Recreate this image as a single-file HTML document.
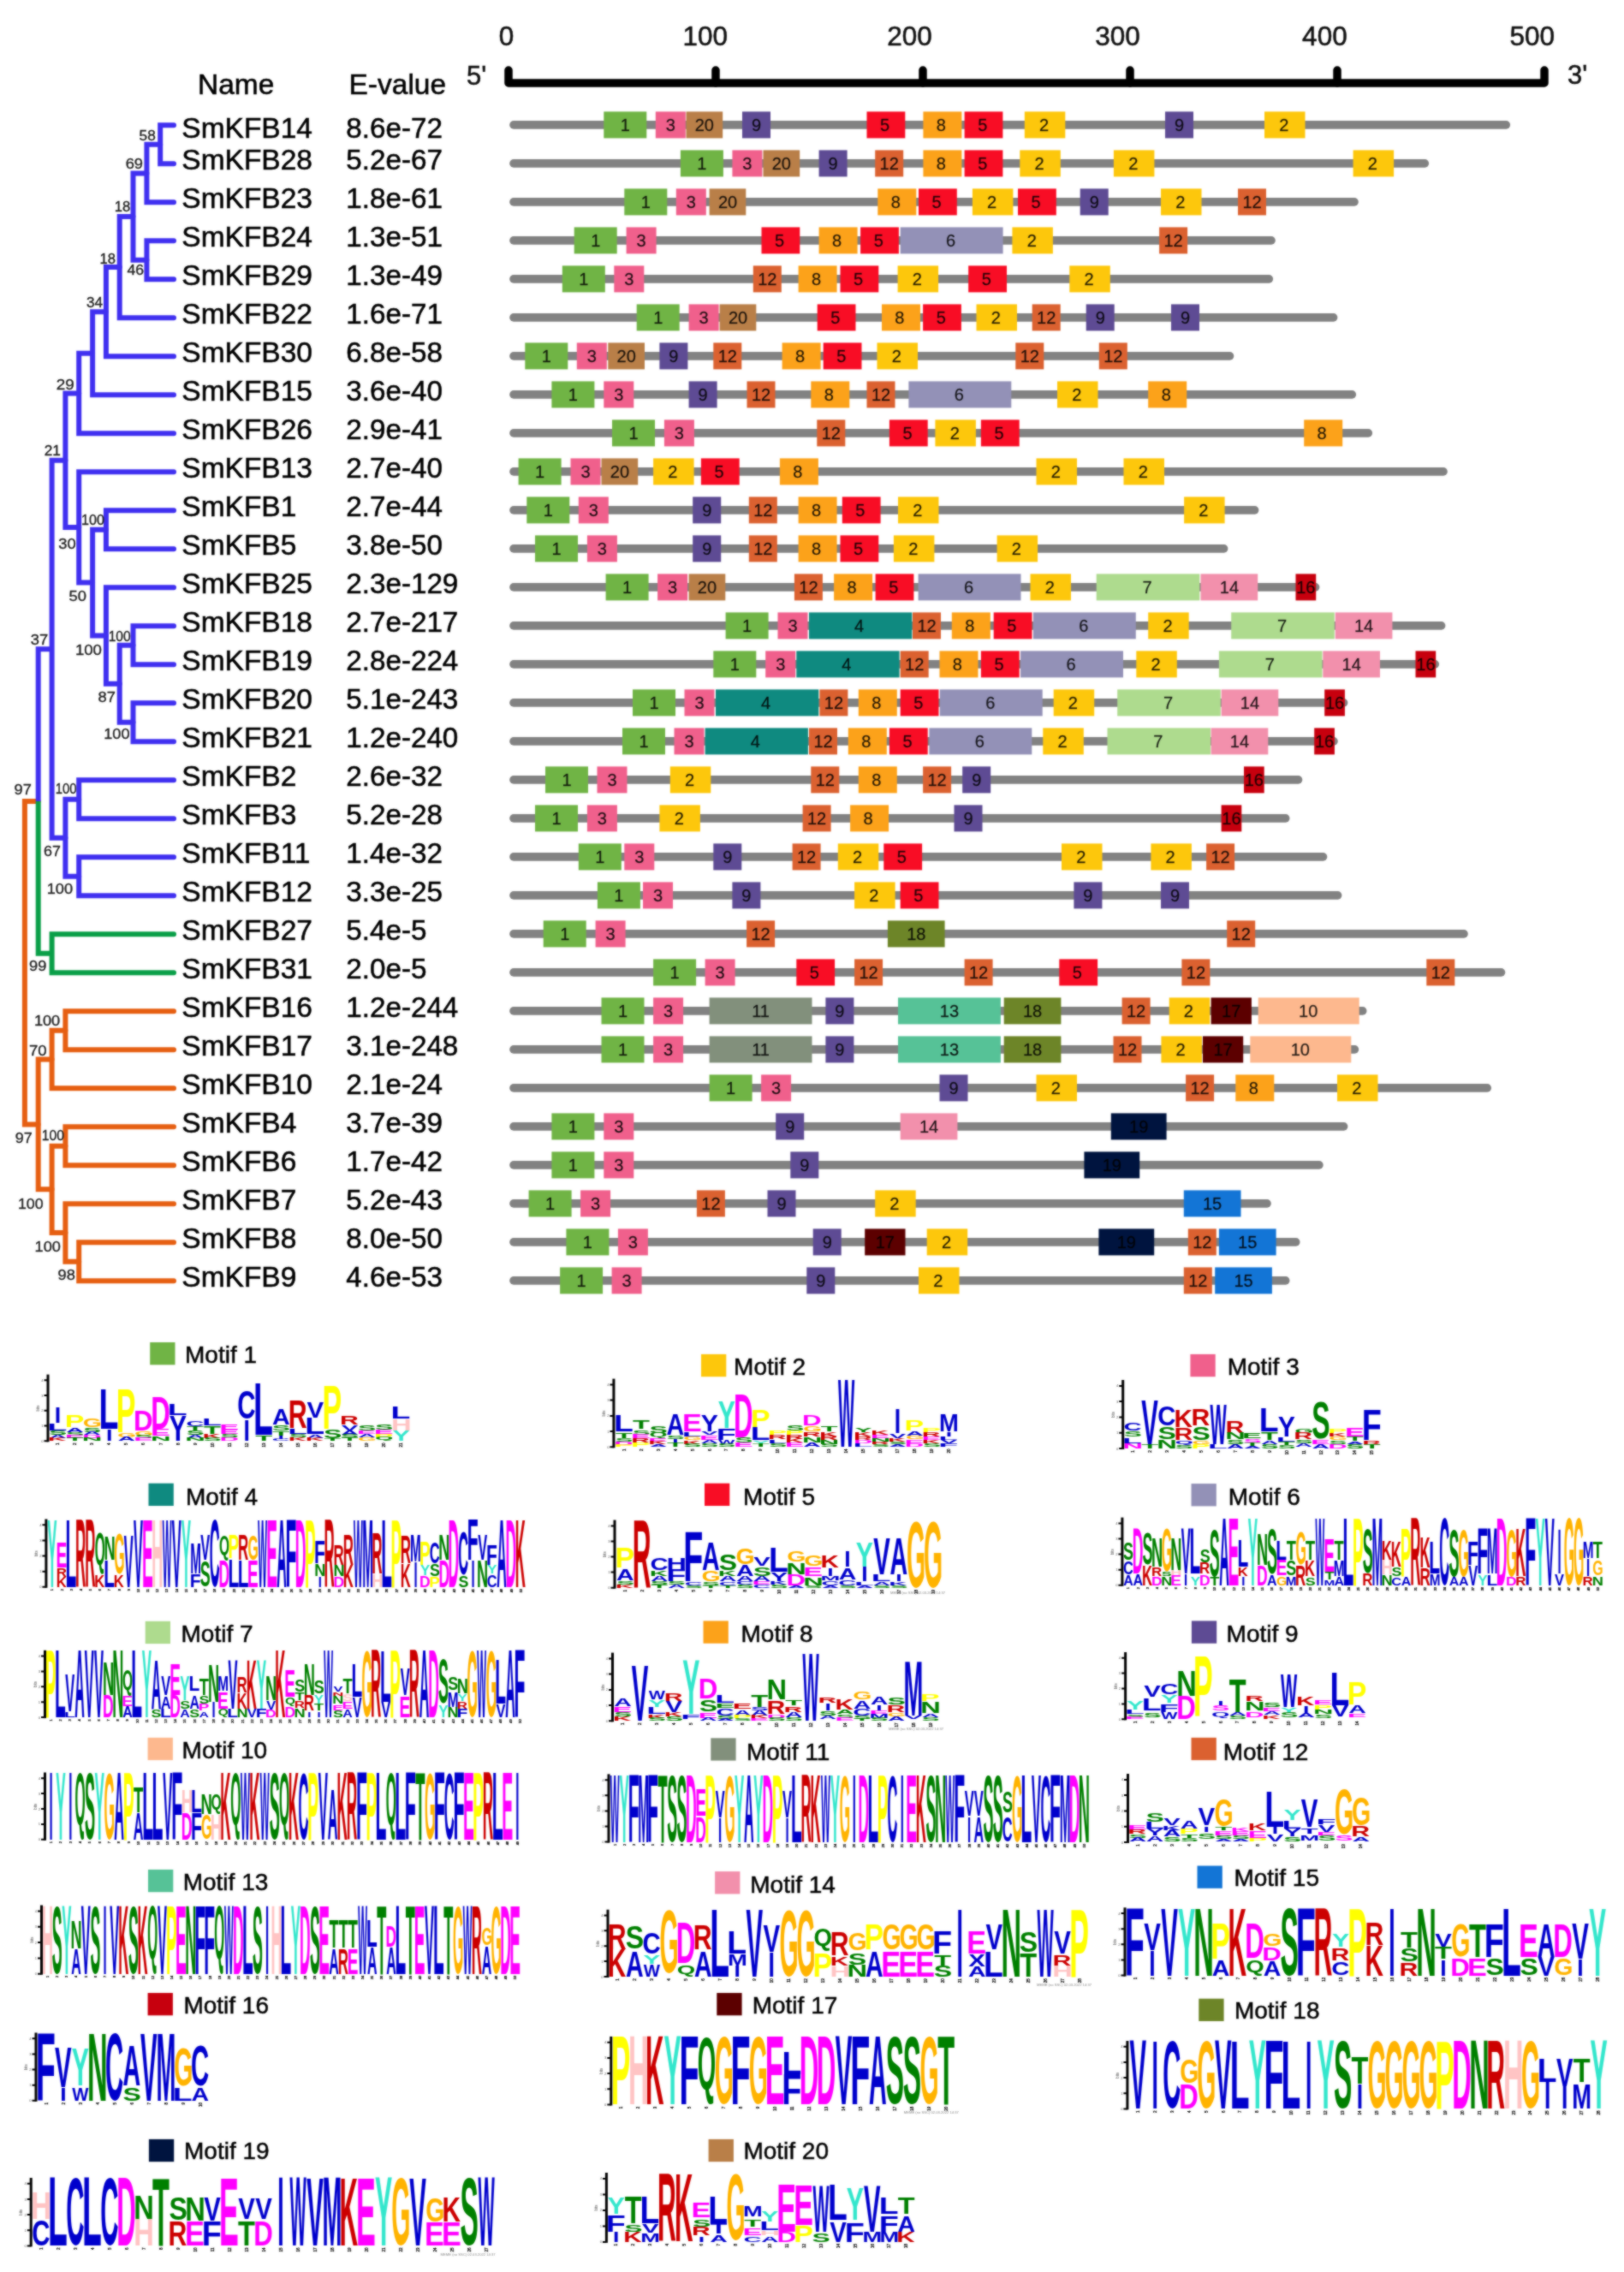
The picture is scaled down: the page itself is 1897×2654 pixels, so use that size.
<!DOCTYPE html>
<html lang="en"><head><meta charset="utf-8"><title>SmKFB motifs</title>
<style>html,body{margin:0;padding:0;background:#fff}svg{display:block}#wrap{width:1897px;height:2654px;overflow:hidden}</style></head>
<body>
<div id="wrap">
<svg width="1897" height="2654" viewBox="0 0 1897 2654" font-family='"Liberation Sans", Arial, sans-serif'>
<defs><filter id="soft" filterUnits="userSpaceOnUse" x="0" y="0" width="1897" height="2654" color-interpolation-filters="sRGB"><feGaussianBlur stdDeviation="0.9" result="b"/><feComposite in="SourceGraphic" in2="b" operator="arithmetic" k1="0" k2="0.4" k3="0.6" k4="0"/></filter></defs>
<g filter="url(#soft)">
<rect width="1897" height="2654" fill="#fff"/>
<g id="axis" stroke="#000" stroke-width="0.5">
<path d="M594.0,82.0V97.0H1804.0V82.0" fill="none" stroke="#000" stroke-width="9.5" stroke-linecap="round" stroke-linejoin="round"/>
<path d="M836.0,82.0V97.0" stroke="#000" stroke-width="9.5" stroke-linecap="round"/>
<path d="M1078.0,82.0V97.0" stroke="#000" stroke-width="9.5" stroke-linecap="round"/>
<path d="M1320.0,82.0V97.0" stroke="#000" stroke-width="9.5" stroke-linecap="round"/>
<path d="M1562.0,82.0V97.0" stroke="#000" stroke-width="9.5" stroke-linecap="round"/>
<text x="591.4" y="53" font-size="31.5" text-anchor="middle" fill="#111">0</text>
<text x="823.7" y="53" font-size="31.5" text-anchor="middle" fill="#111">100</text>
<text x="1062.5" y="53" font-size="31.5" text-anchor="middle" fill="#111">200</text>
<text x="1305.6" y="53" font-size="31.5" text-anchor="middle" fill="#111">300</text>
<text x="1547.4" y="53" font-size="31.5" text-anchor="middle" fill="#111">400</text>
<text x="1789.7" y="53" font-size="31.5" text-anchor="middle" fill="#111">500</text>
<text x="545" y="98.5" font-size="31" fill="#111">5'</text>
<text x="1831" y="97.5" font-size="31" fill="#111">3'</text>
</g>
<text x="231" y="109.5" font-size="33.5" fill="#000" stroke="#000" stroke-width="0.55">Name</text>
<text x="407.5" y="109.5" font-size="33.5" fill="#000" stroke="#000" stroke-width="0.55">E-value</text>
<g id="tree" fill="none" stroke-linejoin="miter">
<path d="M44.7,935.9H28.9V1313.4H44.7" stroke="#E65F12" stroke-width="6.0" stroke-linecap="round"/>
<path d="M60.6,758.2H44.7V935.9" stroke="#4030F0" stroke-width="6.0" stroke-linecap="butt"/>
<path d="M60.6,1113.7H44.7V935.9" stroke="#0A9F48" stroke-width="6.0" stroke-linecap="butt"/>
<path d="M76.4,537.7H60.6V978.7H76.4" stroke="#4030F0" stroke-width="6.0" stroke-linecap="round"/>
<path d="M92.2,459.4H76.4V615.9H92.2" stroke="#4030F0" stroke-width="6.0" stroke-linecap="round"/>
<path d="M108.1,412.7H92.2V506.2H203.0" stroke="#4030F0" stroke-width="6.0" stroke-linecap="round"/>
<path d="M123.9,364.2H108.1V461.2H203.0" stroke="#4030F0" stroke-width="6.0" stroke-linecap="round"/>
<path d="M139.7,312.1H123.9V416.2H203.0" stroke="#4030F0" stroke-width="6.0" stroke-linecap="round"/>
<path d="M155.5,253.1H139.7V371.2H203.0" stroke="#4030F0" stroke-width="6.0" stroke-linecap="round"/>
<path d="M171.4,202.4H155.5V303.7H171.4" stroke="#4030F0" stroke-width="6.0" stroke-linecap="round"/>
<path d="M187.2,168.7H171.4V236.2H203.0" stroke="#4030F0" stroke-width="6.0" stroke-linecap="round"/>
<path d="M203.0,146.2H187.2V191.2H203.0" stroke="#4030F0" stroke-width="6.0" stroke-linecap="round"/>
<path d="M203.0,281.2H171.4V326.2H203.0" stroke="#4030F0" stroke-width="6.0" stroke-linecap="round"/>
<path d="M203.0,551.2H92.2V680.6H108.1" stroke="#4030F0" stroke-width="6.0" stroke-linecap="round"/>
<path d="M123.9,618.7H108.1V742.5H123.9" stroke="#4030F0" stroke-width="6.0" stroke-linecap="round"/>
<path d="M203.0,596.2H123.9V641.2H203.0" stroke="#4030F0" stroke-width="6.0" stroke-linecap="round"/>
<path d="M203.0,686.2H123.9V798.7H139.7" stroke="#4030F0" stroke-width="6.0" stroke-linecap="round"/>
<path d="M155.5,753.7H139.7V843.7H155.5" stroke="#4030F0" stroke-width="6.0" stroke-linecap="round"/>
<path d="M203.0,731.2H155.5V776.2H203.0" stroke="#4030F0" stroke-width="6.0" stroke-linecap="round"/>
<path d="M203.0,821.2H155.5V866.2H203.0" stroke="#4030F0" stroke-width="6.0" stroke-linecap="round"/>
<path d="M92.2,933.7H76.4V1023.7H92.2" stroke="#4030F0" stroke-width="6.0" stroke-linecap="round"/>
<path d="M203.0,911.2H92.2V956.2H203.0" stroke="#4030F0" stroke-width="6.0" stroke-linecap="round"/>
<path d="M203.0,1001.2H92.2V1046.2H203.0" stroke="#4030F0" stroke-width="6.0" stroke-linecap="round"/>
<path d="M203.0,1091.2H60.6V1136.2H203.0" stroke="#0A9F48" stroke-width="6.0" stroke-linecap="round"/>
<path d="M60.6,1237.5H44.7V1389.3H60.6" stroke="#E65F12" stroke-width="6.0" stroke-linecap="round"/>
<path d="M76.4,1203.7H60.6V1271.2H203.0" stroke="#E65F12" stroke-width="6.0" stroke-linecap="round"/>
<path d="M203.0,1181.2H76.4V1226.2H203.0" stroke="#E65F12" stroke-width="6.0" stroke-linecap="round"/>
<path d="M76.4,1338.7H60.6V1440.0H76.4" stroke="#E65F12" stroke-width="6.0" stroke-linecap="round"/>
<path d="M203.0,1316.2H76.4V1361.2H203.0" stroke="#E65F12" stroke-width="6.0" stroke-linecap="round"/>
<path d="M203.0,1406.2H76.4V1473.7H92.2" stroke="#E65F12" stroke-width="6.0" stroke-linecap="round"/>
<path d="M203.0,1451.2H92.2V1496.2H203.0" stroke="#E65F12" stroke-width="6.0" stroke-linecap="round"/>
</g>
<g id="boot" font-size="17" fill="#222" stroke="#222" stroke-width="0.35">
<text x="162.6" y="163.5" textLength="19.2" lengthAdjust="spacingAndGlyphs">58</text>
<text x="146.7" y="196.7" textLength="20.3" lengthAdjust="spacingAndGlyphs">69</text>
<text x="133.7" y="247.3" textLength="18.5" lengthAdjust="spacingAndGlyphs">18</text>
<text x="116.4" y="308.2" textLength="18.5" lengthAdjust="spacingAndGlyphs">18</text>
<text x="148.5" y="321.2" textLength="19.6" lengthAdjust="spacingAndGlyphs">46</text>
<text x="100.9" y="358.5" textLength="19.1" lengthAdjust="spacingAndGlyphs">34</text>
<text x="65.8" y="454.6" textLength="21.0" lengthAdjust="spacingAndGlyphs">29</text>
<text x="51.7" y="531.8" textLength="19.2" lengthAdjust="spacingAndGlyphs">21</text>
<text x="95.0" y="612.8" textLength="26.9" lengthAdjust="spacingAndGlyphs">100</text>
<text x="68.3" y="640.5" textLength="20.4" lengthAdjust="spacingAndGlyphs">30</text>
<text x="80.5" y="701.5" textLength="20.4" lengthAdjust="spacingAndGlyphs">50</text>
<text x="35.8" y="752.5" textLength="20.4" lengthAdjust="spacingAndGlyphs">37</text>
<text x="126.7" y="748.8" textLength="25.9" lengthAdjust="spacingAndGlyphs">100</text>
<text x="87.9" y="765.4" textLength="31.1" lengthAdjust="spacingAndGlyphs">100</text>
<text x="114.5" y="820.1" textLength="20.4" lengthAdjust="spacingAndGlyphs">87</text>
<text x="121.2" y="862.6" textLength="30.3" lengthAdjust="spacingAndGlyphs">100</text>
<text x="64.7" y="926.8" textLength="24.7" lengthAdjust="spacingAndGlyphs">100</text>
<text x="16.6" y="927.9" textLength="20.3" lengthAdjust="spacingAndGlyphs">97</text>
<text x="51.0" y="1000.0" textLength="19.9" lengthAdjust="spacingAndGlyphs">67</text>
<text x="54.7" y="1043.6" textLength="30.3" lengthAdjust="spacingAndGlyphs">100</text>
<text x="34.0" y="1133.8" textLength="20.3" lengthAdjust="spacingAndGlyphs">99</text>
<text x="39.9" y="1198.1" textLength="30.3" lengthAdjust="spacingAndGlyphs">100</text>
<text x="34.0" y="1233.2" textLength="20.7" lengthAdjust="spacingAndGlyphs">70</text>
<text x="17.7" y="1334.8" textLength="20.0" lengthAdjust="spacingAndGlyphs">97</text>
<text x="48.8" y="1332.2" textLength="26.2" lengthAdjust="spacingAndGlyphs">100</text>
<text x="21.0" y="1411.6" textLength="29.6" lengthAdjust="spacingAndGlyphs">100</text>
<text x="40.6" y="1462.2" textLength="30.3" lengthAdjust="spacingAndGlyphs">100</text>
<text x="67.6" y="1494.8" textLength="20.3" lengthAdjust="spacingAndGlyphs">98</text>
</g>
<g id="names" font-size="33.5" fill="#000" stroke="#000" stroke-width="0.55">
<text x="212.3" y="160.5">SmKFB14</text><text x="404.3" y="160.5" font-size="33.2">8.6e-72</text>
<text x="212.3" y="198.3">SmKFB28</text><text x="404.3" y="198.3" font-size="33.2">5.2e-67</text>
<text x="212.3" y="243.3">SmKFB23</text><text x="404.3" y="243.3" font-size="33.2">1.8e-61</text>
<text x="212.3" y="288.3">SmKFB24</text><text x="404.3" y="288.3" font-size="33.2">1.3e-51</text>
<text x="212.3" y="333.3">SmKFB29</text><text x="404.3" y="333.3" font-size="33.2">1.3e-49</text>
<text x="212.3" y="378.3">SmKFB22</text><text x="404.3" y="378.3" font-size="33.2">1.6e-71</text>
<text x="212.3" y="423.3">SmKFB30</text><text x="404.3" y="423.3" font-size="33.2">6.8e-58</text>
<text x="212.3" y="468.3">SmKFB15</text><text x="404.3" y="468.3" font-size="33.2">3.6e-40</text>
<text x="212.3" y="513.3">SmKFB26</text><text x="404.3" y="513.3" font-size="33.2">2.9e-41</text>
<text x="212.3" y="558.3">SmKFB13</text><text x="404.3" y="558.3" font-size="33.2">2.7e-40</text>
<text x="212.3" y="603.3">SmKFB1</text><text x="404.3" y="603.3" font-size="33.2">2.7e-44</text>
<text x="212.3" y="648.3">SmKFB5</text><text x="404.3" y="648.3" font-size="33.2">3.8e-50</text>
<text x="212.3" y="693.3">SmKFB25</text><text x="404.3" y="693.3" font-size="33.2">2.3e-129</text>
<text x="212.3" y="738.3">SmKFB18</text><text x="404.3" y="738.3" font-size="33.2">2.7e-217</text>
<text x="212.3" y="783.3">SmKFB19</text><text x="404.3" y="783.3" font-size="33.2">2.8e-224</text>
<text x="212.3" y="828.3">SmKFB20</text><text x="404.3" y="828.3" font-size="33.2">5.1e-243</text>
<text x="212.3" y="873.3">SmKFB21</text><text x="404.3" y="873.3" font-size="33.2">1.2e-240</text>
<text x="212.3" y="918.3">SmKFB2</text><text x="404.3" y="918.3" font-size="33.2">2.6e-32</text>
<text x="212.3" y="963.3">SmKFB3</text><text x="404.3" y="963.3" font-size="33.2">5.2e-28</text>
<text x="212.3" y="1008.3">SmKFB11</text><text x="404.3" y="1008.3" font-size="33.2">1.4e-32</text>
<text x="212.3" y="1053.3">SmKFB12</text><text x="404.3" y="1053.3" font-size="33.2">3.3e-25</text>
<text x="212.3" y="1098.3">SmKFB27</text><text x="404.3" y="1098.3" font-size="33.2">5.4e-5</text>
<text x="212.3" y="1143.3">SmKFB31</text><text x="404.3" y="1143.3" font-size="33.2">2.0e-5</text>
<text x="212.3" y="1188.3">SmKFB16</text><text x="404.3" y="1188.3" font-size="33.2">1.2e-244</text>
<text x="212.3" y="1233.3">SmKFB17</text><text x="404.3" y="1233.3" font-size="33.2">3.1e-248</text>
<text x="212.3" y="1278.3">SmKFB10</text><text x="404.3" y="1278.3" font-size="33.2">2.1e-24</text>
<text x="212.3" y="1323.3">SmKFB4</text><text x="404.3" y="1323.3" font-size="33.2">3.7e-39</text>
<text x="212.3" y="1368.3">SmKFB6</text><text x="404.3" y="1368.3" font-size="33.2">1.7e-42</text>
<text x="212.3" y="1413.3">SmKFB7</text><text x="404.3" y="1413.3" font-size="33.2">5.2e-43</text>
<text x="212.3" y="1458.3">SmKFB8</text><text x="404.3" y="1458.3" font-size="33.2">8.0e-50</text>
<text x="212.3" y="1503.3">SmKFB9</text><text x="404.3" y="1503.3" font-size="33.2">4.6e-53</text>
</g>
<g id="tracks">
<path d="M600.0,145.9H1759.3" stroke="#828282" stroke-width="9.6" stroke-linecap="round"/>
<rect x="705.3" y="130.4" width="50" height="31" fill="#70B445"/>
<text x="730.3" y="153.2" font-size="20" text-anchor="middle" fill="#000" fill-opacity="0.85" stroke="#000" stroke-opacity="0.6" stroke-width="0.3">1</text>
<rect x="765.8" y="130.4" width="35" height="31" fill="#F0608C"/>
<text x="783.3" y="153.2" font-size="20" text-anchor="middle" fill="#000" fill-opacity="0.85" stroke="#000" stroke-opacity="0.6" stroke-width="0.3">3</text>
<rect x="801.5" y="130.4" width="42.7" height="31" fill="#B97F48"/>
<text x="822.8" y="153.2" font-size="20" text-anchor="middle" fill="#000" fill-opacity="0.85" stroke="#000" stroke-opacity="0.6" stroke-width="0.3">20</text>
<rect x="867.0" y="130.4" width="33" height="31" fill="#5E4B94"/>
<text x="883.5" y="153.2" font-size="20" text-anchor="middle" fill="#000" fill-opacity="0.85" stroke="#000" stroke-opacity="0.6" stroke-width="0.3">9</text>
<rect x="1012.5" y="130.4" width="44.8" height="31" fill="#F80D25"/>
<text x="1033.6" y="153.2" font-size="20" text-anchor="middle" fill="#000" fill-opacity="0.85" stroke="#000" stroke-opacity="0.6" stroke-width="0.3">5</text>
<rect x="1078.4" y="130.4" width="45" height="31" fill="#FCA21A"/>
<text x="1099.3" y="153.2" font-size="20" text-anchor="middle" fill="#000" fill-opacity="0.85" stroke="#000" stroke-opacity="0.6" stroke-width="0.3">8</text>
<rect x="1126.6" y="130.4" width="44.8" height="31" fill="#F80D25"/>
<text x="1147.7" y="153.2" font-size="20" text-anchor="middle" fill="#000" fill-opacity="0.85" stroke="#000" stroke-opacity="0.6" stroke-width="0.3">5</text>
<rect x="1196.8" y="130.4" width="47.5" height="31" fill="#FDC70C"/>
<text x="1219.5" y="153.2" font-size="20" text-anchor="middle" fill="#000" fill-opacity="0.85" stroke="#000" stroke-opacity="0.6" stroke-width="0.3">2</text>
<rect x="1361.0" y="130.4" width="33" height="31" fill="#5E4B94"/>
<text x="1377.5" y="153.2" font-size="20" text-anchor="middle" fill="#000" fill-opacity="0.85" stroke="#000" stroke-opacity="0.6" stroke-width="0.3">9</text>
<rect x="1477.0" y="130.4" width="47.5" height="31" fill="#FDC70C"/>
<text x="1499.8" y="153.2" font-size="20" text-anchor="middle" fill="#000" fill-opacity="0.85" stroke="#000" stroke-opacity="0.6" stroke-width="0.3">2</text>
<path d="M600.0,190.9H1664.3" stroke="#828282" stroke-width="9.6" stroke-linecap="round"/>
<rect x="794.9" y="175.4" width="50" height="31" fill="#70B445"/>
<text x="819.9" y="198.2" font-size="20" text-anchor="middle" fill="#000" fill-opacity="0.85" stroke="#000" stroke-opacity="0.6" stroke-width="0.3">1</text>
<rect x="855.4" y="175.4" width="35" height="31" fill="#F0608C"/>
<text x="872.9" y="198.2" font-size="20" text-anchor="middle" fill="#000" fill-opacity="0.85" stroke="#000" stroke-opacity="0.6" stroke-width="0.3">3</text>
<rect x="891.5" y="175.4" width="42.7" height="31" fill="#B97F48"/>
<text x="912.8" y="198.2" font-size="20" text-anchor="middle" fill="#000" fill-opacity="0.85" stroke="#000" stroke-opacity="0.6" stroke-width="0.3">20</text>
<rect x="956.6" y="175.4" width="33" height="31" fill="#5E4B94"/>
<text x="973.1" y="198.2" font-size="20" text-anchor="middle" fill="#000" fill-opacity="0.85" stroke="#000" stroke-opacity="0.6" stroke-width="0.3">9</text>
<rect x="1022.2" y="175.4" width="33" height="31" fill="#DB6130"/>
<text x="1038.7" y="198.2" font-size="20" text-anchor="middle" fill="#000" fill-opacity="0.85" stroke="#000" stroke-opacity="0.6" stroke-width="0.3">12</text>
<rect x="1078.4" y="175.4" width="45" height="31" fill="#FCA21A"/>
<text x="1099.3" y="198.2" font-size="20" text-anchor="middle" fill="#000" fill-opacity="0.85" stroke="#000" stroke-opacity="0.6" stroke-width="0.3">8</text>
<rect x="1126.6" y="175.4" width="44.8" height="31" fill="#F80D25"/>
<text x="1147.7" y="198.2" font-size="20" text-anchor="middle" fill="#000" fill-opacity="0.85" stroke="#000" stroke-opacity="0.6" stroke-width="0.3">5</text>
<rect x="1191.3" y="175.4" width="47.5" height="31" fill="#FDC70C"/>
<text x="1214.1" y="198.2" font-size="20" text-anchor="middle" fill="#000" fill-opacity="0.85" stroke="#000" stroke-opacity="0.6" stroke-width="0.3">2</text>
<rect x="1300.9" y="175.4" width="47.5" height="31" fill="#FDC70C"/>
<text x="1323.7" y="198.2" font-size="20" text-anchor="middle" fill="#000" fill-opacity="0.85" stroke="#000" stroke-opacity="0.6" stroke-width="0.3">2</text>
<rect x="1580.6" y="175.4" width="47.5" height="31" fill="#FDC70C"/>
<text x="1603.4" y="198.2" font-size="20" text-anchor="middle" fill="#000" fill-opacity="0.85" stroke="#000" stroke-opacity="0.6" stroke-width="0.3">2</text>
<path d="M600.0,235.9H1582.0" stroke="#828282" stroke-width="9.6" stroke-linecap="round"/>
<rect x="729.3" y="220.4" width="50" height="31" fill="#70B445"/>
<text x="754.3" y="243.2" font-size="20" text-anchor="middle" fill="#000" fill-opacity="0.85" stroke="#000" stroke-opacity="0.6" stroke-width="0.3">1</text>
<rect x="789.8" y="220.4" width="35" height="31" fill="#F0608C"/>
<text x="807.3" y="243.2" font-size="20" text-anchor="middle" fill="#000" fill-opacity="0.85" stroke="#000" stroke-opacity="0.6" stroke-width="0.3">3</text>
<rect x="828.6" y="220.4" width="42.7" height="31" fill="#B97F48"/>
<text x="850.0" y="243.2" font-size="20" text-anchor="middle" fill="#000" fill-opacity="0.85" stroke="#000" stroke-opacity="0.6" stroke-width="0.3">20</text>
<rect x="1025.3" y="220.4" width="45" height="31" fill="#FCA21A"/>
<text x="1046.2" y="243.2" font-size="20" text-anchor="middle" fill="#000" fill-opacity="0.85" stroke="#000" stroke-opacity="0.6" stroke-width="0.3">8</text>
<rect x="1073.0" y="220.4" width="44.8" height="31" fill="#F80D25"/>
<text x="1094.1" y="243.2" font-size="20" text-anchor="middle" fill="#000" fill-opacity="0.85" stroke="#000" stroke-opacity="0.6" stroke-width="0.3">5</text>
<rect x="1135.9" y="220.4" width="47.5" height="31" fill="#FDC70C"/>
<text x="1158.6" y="243.2" font-size="20" text-anchor="middle" fill="#000" fill-opacity="0.85" stroke="#000" stroke-opacity="0.6" stroke-width="0.3">2</text>
<rect x="1189.0" y="220.4" width="44.8" height="31" fill="#F80D25"/>
<text x="1210.1" y="243.2" font-size="20" text-anchor="middle" fill="#000" fill-opacity="0.85" stroke="#000" stroke-opacity="0.6" stroke-width="0.3">5</text>
<rect x="1261.7" y="220.4" width="33" height="31" fill="#5E4B94"/>
<text x="1278.2" y="243.2" font-size="20" text-anchor="middle" fill="#000" fill-opacity="0.85" stroke="#000" stroke-opacity="0.6" stroke-width="0.3">9</text>
<rect x="1356.0" y="220.4" width="47.5" height="31" fill="#FDC70C"/>
<text x="1378.7" y="243.2" font-size="20" text-anchor="middle" fill="#000" fill-opacity="0.85" stroke="#000" stroke-opacity="0.6" stroke-width="0.3">2</text>
<rect x="1446.0" y="220.4" width="33" height="31" fill="#DB6130"/>
<text x="1462.5" y="243.2" font-size="20" text-anchor="middle" fill="#000" fill-opacity="0.85" stroke="#000" stroke-opacity="0.6" stroke-width="0.3">12</text>
<path d="M600.0,280.9H1485.0" stroke="#828282" stroke-width="9.6" stroke-linecap="round"/>
<rect x="670.7" y="265.4" width="50" height="31" fill="#70B445"/>
<text x="695.7" y="288.2" font-size="20" text-anchor="middle" fill="#000" fill-opacity="0.85" stroke="#000" stroke-opacity="0.6" stroke-width="0.3">1</text>
<rect x="731.6" y="265.4" width="35" height="31" fill="#F0608C"/>
<text x="749.1" y="288.2" font-size="20" text-anchor="middle" fill="#000" fill-opacity="0.85" stroke="#000" stroke-opacity="0.6" stroke-width="0.3">3</text>
<rect x="889.5" y="265.4" width="44.8" height="31" fill="#F80D25"/>
<text x="910.6" y="288.2" font-size="20" text-anchor="middle" fill="#000" fill-opacity="0.85" stroke="#000" stroke-opacity="0.6" stroke-width="0.3">5</text>
<rect x="956.6" y="265.4" width="45" height="31" fill="#FCA21A"/>
<text x="977.5" y="288.2" font-size="20" text-anchor="middle" fill="#000" fill-opacity="0.85" stroke="#000" stroke-opacity="0.6" stroke-width="0.3">8</text>
<rect x="1005.1" y="265.4" width="44.8" height="31" fill="#F80D25"/>
<text x="1026.2" y="288.2" font-size="20" text-anchor="middle" fill="#000" fill-opacity="0.85" stroke="#000" stroke-opacity="0.6" stroke-width="0.3">5</text>
<rect x="1051.7" y="265.4" width="119.9" height="31" fill="#9391B7"/>
<text x="1110.6" y="288.2" font-size="20" text-anchor="middle" fill="#000" fill-opacity="0.85" stroke="#000" stroke-opacity="0.6" stroke-width="0.3">6</text>
<rect x="1182.4" y="265.4" width="47.5" height="31" fill="#FDC70C"/>
<text x="1205.2" y="288.2" font-size="20" text-anchor="middle" fill="#000" fill-opacity="0.85" stroke="#000" stroke-opacity="0.6" stroke-width="0.3">2</text>
<rect x="1354.1" y="265.4" width="33" height="31" fill="#DB6130"/>
<text x="1370.6" y="288.2" font-size="20" text-anchor="middle" fill="#000" fill-opacity="0.85" stroke="#000" stroke-opacity="0.6" stroke-width="0.3">12</text>
<path d="M600.0,325.9H1482.3" stroke="#828282" stroke-width="9.6" stroke-linecap="round"/>
<rect x="656.8" y="310.4" width="50" height="31" fill="#70B445"/>
<text x="681.8" y="333.2" font-size="20" text-anchor="middle" fill="#000" fill-opacity="0.85" stroke="#000" stroke-opacity="0.6" stroke-width="0.3">1</text>
<rect x="717.3" y="310.4" width="35" height="31" fill="#F0608C"/>
<text x="734.8" y="333.2" font-size="20" text-anchor="middle" fill="#000" fill-opacity="0.85" stroke="#000" stroke-opacity="0.6" stroke-width="0.3">3</text>
<rect x="879.8" y="310.4" width="33" height="31" fill="#DB6130"/>
<text x="896.3" y="333.2" font-size="20" text-anchor="middle" fill="#000" fill-opacity="0.85" stroke="#000" stroke-opacity="0.6" stroke-width="0.3">12</text>
<rect x="932.6" y="310.4" width="45" height="31" fill="#FCA21A"/>
<text x="953.5" y="333.2" font-size="20" text-anchor="middle" fill="#000" fill-opacity="0.85" stroke="#000" stroke-opacity="0.6" stroke-width="0.3">8</text>
<rect x="981.5" y="310.4" width="44.8" height="31" fill="#F80D25"/>
<text x="1002.6" y="333.2" font-size="20" text-anchor="middle" fill="#000" fill-opacity="0.85" stroke="#000" stroke-opacity="0.6" stroke-width="0.3">5</text>
<rect x="1048.6" y="310.4" width="47.5" height="31" fill="#FDC70C"/>
<text x="1071.3" y="333.2" font-size="20" text-anchor="middle" fill="#000" fill-opacity="0.85" stroke="#000" stroke-opacity="0.6" stroke-width="0.3">2</text>
<rect x="1131.2" y="310.4" width="44.8" height="31" fill="#F80D25"/>
<text x="1152.3" y="333.2" font-size="20" text-anchor="middle" fill="#000" fill-opacity="0.85" stroke="#000" stroke-opacity="0.6" stroke-width="0.3">5</text>
<rect x="1249.3" y="310.4" width="47.5" height="31" fill="#FDC70C"/>
<text x="1272.1" y="333.2" font-size="20" text-anchor="middle" fill="#000" fill-opacity="0.85" stroke="#000" stroke-opacity="0.6" stroke-width="0.3">2</text>
<path d="M600.0,370.9H1557.6" stroke="#828282" stroke-width="9.6" stroke-linecap="round"/>
<rect x="743.7" y="355.4" width="50" height="31" fill="#70B445"/>
<text x="768.7" y="378.2" font-size="20" text-anchor="middle" fill="#000" fill-opacity="0.85" stroke="#000" stroke-opacity="0.6" stroke-width="0.3">1</text>
<rect x="804.6" y="355.4" width="35" height="31" fill="#F0608C"/>
<text x="822.1" y="378.2" font-size="20" text-anchor="middle" fill="#000" fill-opacity="0.85" stroke="#000" stroke-opacity="0.6" stroke-width="0.3">3</text>
<rect x="840.6" y="355.4" width="42.7" height="31" fill="#B97F48"/>
<text x="862.0" y="378.2" font-size="20" text-anchor="middle" fill="#000" fill-opacity="0.85" stroke="#000" stroke-opacity="0.6" stroke-width="0.3">20</text>
<rect x="954.7" y="355.4" width="44.8" height="31" fill="#F80D25"/>
<text x="975.8" y="378.2" font-size="20" text-anchor="middle" fill="#000" fill-opacity="0.85" stroke="#000" stroke-opacity="0.6" stroke-width="0.3">5</text>
<rect x="1030.0" y="355.4" width="45" height="31" fill="#FCA21A"/>
<text x="1050.9" y="378.2" font-size="20" text-anchor="middle" fill="#000" fill-opacity="0.85" stroke="#000" stroke-opacity="0.6" stroke-width="0.3">8</text>
<rect x="1078.1" y="355.4" width="44.8" height="31" fill="#F80D25"/>
<text x="1099.2" y="378.2" font-size="20" text-anchor="middle" fill="#000" fill-opacity="0.85" stroke="#000" stroke-opacity="0.6" stroke-width="0.3">5</text>
<rect x="1140.5" y="355.4" width="47.5" height="31" fill="#FDC70C"/>
<text x="1163.3" y="378.2" font-size="20" text-anchor="middle" fill="#000" fill-opacity="0.85" stroke="#000" stroke-opacity="0.6" stroke-width="0.3">2</text>
<rect x="1205.7" y="355.4" width="33" height="31" fill="#DB6130"/>
<text x="1222.2" y="378.2" font-size="20" text-anchor="middle" fill="#000" fill-opacity="0.85" stroke="#000" stroke-opacity="0.6" stroke-width="0.3">12</text>
<rect x="1268.7" y="355.4" width="33" height="31" fill="#5E4B94"/>
<text x="1285.2" y="378.2" font-size="20" text-anchor="middle" fill="#000" fill-opacity="0.85" stroke="#000" stroke-opacity="0.6" stroke-width="0.3">9</text>
<rect x="1368.0" y="355.4" width="33" height="31" fill="#5E4B94"/>
<text x="1384.5" y="378.2" font-size="20" text-anchor="middle" fill="#000" fill-opacity="0.85" stroke="#000" stroke-opacity="0.6" stroke-width="0.3">9</text>
<path d="M600.0,415.9H1436.5" stroke="#828282" stroke-width="9.6" stroke-linecap="round"/>
<rect x="613.3" y="400.4" width="50" height="31" fill="#70B445"/>
<text x="638.3" y="423.2" font-size="20" text-anchor="middle" fill="#000" fill-opacity="0.85" stroke="#000" stroke-opacity="0.6" stroke-width="0.3">1</text>
<rect x="673.8" y="400.4" width="35" height="31" fill="#F0608C"/>
<text x="691.3" y="423.2" font-size="20" text-anchor="middle" fill="#000" fill-opacity="0.85" stroke="#000" stroke-opacity="0.6" stroke-width="0.3">3</text>
<rect x="710.3" y="400.4" width="42.7" height="31" fill="#B97F48"/>
<text x="731.7" y="423.2" font-size="20" text-anchor="middle" fill="#000" fill-opacity="0.85" stroke="#000" stroke-opacity="0.6" stroke-width="0.3">20</text>
<rect x="770.4" y="400.4" width="33" height="31" fill="#5E4B94"/>
<text x="786.9" y="423.2" font-size="20" text-anchor="middle" fill="#000" fill-opacity="0.85" stroke="#000" stroke-opacity="0.6" stroke-width="0.3">9</text>
<rect x="833.3" y="400.4" width="33" height="31" fill="#DB6130"/>
<text x="849.8" y="423.2" font-size="20" text-anchor="middle" fill="#000" fill-opacity="0.85" stroke="#000" stroke-opacity="0.6" stroke-width="0.3">12</text>
<rect x="913.6" y="400.4" width="45" height="31" fill="#FCA21A"/>
<text x="934.5" y="423.2" font-size="20" text-anchor="middle" fill="#000" fill-opacity="0.85" stroke="#000" stroke-opacity="0.6" stroke-width="0.3">8</text>
<rect x="961.7" y="400.4" width="44.8" height="31" fill="#F80D25"/>
<text x="982.8" y="423.2" font-size="20" text-anchor="middle" fill="#000" fill-opacity="0.85" stroke="#000" stroke-opacity="0.6" stroke-width="0.3">5</text>
<rect x="1024.5" y="400.4" width="47.5" height="31" fill="#FDC70C"/>
<text x="1047.3" y="423.2" font-size="20" text-anchor="middle" fill="#000" fill-opacity="0.85" stroke="#000" stroke-opacity="0.6" stroke-width="0.3">2</text>
<rect x="1186.3" y="400.4" width="33" height="31" fill="#DB6130"/>
<text x="1202.8" y="423.2" font-size="20" text-anchor="middle" fill="#000" fill-opacity="0.85" stroke="#000" stroke-opacity="0.6" stroke-width="0.3">12</text>
<rect x="1283.8" y="400.4" width="33" height="31" fill="#DB6130"/>
<text x="1300.3" y="423.2" font-size="20" text-anchor="middle" fill="#000" fill-opacity="0.85" stroke="#000" stroke-opacity="0.6" stroke-width="0.3">12</text>
<path d="M600.0,460.9H1579.3" stroke="#828282" stroke-width="9.6" stroke-linecap="round"/>
<rect x="644.4" y="445.4" width="50" height="31" fill="#70B445"/>
<text x="669.4" y="468.2" font-size="20" text-anchor="middle" fill="#000" fill-opacity="0.85" stroke="#000" stroke-opacity="0.6" stroke-width="0.3">1</text>
<rect x="705.3" y="445.4" width="35" height="31" fill="#F0608C"/>
<text x="722.8" y="468.2" font-size="20" text-anchor="middle" fill="#000" fill-opacity="0.85" stroke="#000" stroke-opacity="0.6" stroke-width="0.3">3</text>
<rect x="804.6" y="445.4" width="33" height="31" fill="#5E4B94"/>
<text x="821.1" y="468.2" font-size="20" text-anchor="middle" fill="#000" fill-opacity="0.85" stroke="#000" stroke-opacity="0.6" stroke-width="0.3">9</text>
<rect x="872.5" y="445.4" width="33" height="31" fill="#DB6130"/>
<text x="889.0" y="468.2" font-size="20" text-anchor="middle" fill="#000" fill-opacity="0.85" stroke="#000" stroke-opacity="0.6" stroke-width="0.3">12</text>
<rect x="947.3" y="445.4" width="45" height="31" fill="#FCA21A"/>
<text x="968.2" y="468.2" font-size="20" text-anchor="middle" fill="#000" fill-opacity="0.85" stroke="#000" stroke-opacity="0.6" stroke-width="0.3">8</text>
<rect x="1012.5" y="445.4" width="33" height="31" fill="#DB6130"/>
<text x="1029.0" y="468.2" font-size="20" text-anchor="middle" fill="#000" fill-opacity="0.85" stroke="#000" stroke-opacity="0.6" stroke-width="0.3">12</text>
<rect x="1061.4" y="445.4" width="119.9" height="31" fill="#9391B7"/>
<text x="1120.3" y="468.2" font-size="20" text-anchor="middle" fill="#000" fill-opacity="0.85" stroke="#000" stroke-opacity="0.6" stroke-width="0.3">6</text>
<rect x="1235.0" y="445.4" width="47.5" height="31" fill="#FDC70C"/>
<text x="1257.7" y="468.2" font-size="20" text-anchor="middle" fill="#000" fill-opacity="0.85" stroke="#000" stroke-opacity="0.6" stroke-width="0.3">2</text>
<rect x="1341.2" y="445.4" width="45" height="31" fill="#FCA21A"/>
<text x="1362.2" y="468.2" font-size="20" text-anchor="middle" fill="#000" fill-opacity="0.85" stroke="#000" stroke-opacity="0.6" stroke-width="0.3">8</text>
<path d="M600.0,505.9H1598.3" stroke="#828282" stroke-width="9.6" stroke-linecap="round"/>
<rect x="715.0" y="490.4" width="50" height="31" fill="#70B445"/>
<text x="740.0" y="513.2" font-size="20" text-anchor="middle" fill="#000" fill-opacity="0.85" stroke="#000" stroke-opacity="0.6" stroke-width="0.3">1</text>
<rect x="775.9" y="490.4" width="35" height="31" fill="#F0608C"/>
<text x="793.4" y="513.2" font-size="20" text-anchor="middle" fill="#000" fill-opacity="0.85" stroke="#000" stroke-opacity="0.6" stroke-width="0.3">3</text>
<rect x="954.3" y="490.4" width="33" height="31" fill="#DB6130"/>
<text x="970.8" y="513.2" font-size="20" text-anchor="middle" fill="#000" fill-opacity="0.85" stroke="#000" stroke-opacity="0.6" stroke-width="0.3">12</text>
<rect x="1038.9" y="490.4" width="44.8" height="31" fill="#F80D25"/>
<text x="1060.0" y="513.2" font-size="20" text-anchor="middle" fill="#000" fill-opacity="0.85" stroke="#000" stroke-opacity="0.6" stroke-width="0.3">5</text>
<rect x="1092.4" y="490.4" width="47.5" height="31" fill="#FDC70C"/>
<text x="1115.2" y="513.2" font-size="20" text-anchor="middle" fill="#000" fill-opacity="0.85" stroke="#000" stroke-opacity="0.6" stroke-width="0.3">2</text>
<rect x="1145.9" y="490.4" width="44.8" height="31" fill="#F80D25"/>
<text x="1167.0" y="513.2" font-size="20" text-anchor="middle" fill="#000" fill-opacity="0.85" stroke="#000" stroke-opacity="0.6" stroke-width="0.3">5</text>
<rect x="1523.2" y="490.4" width="45" height="31" fill="#FCA21A"/>
<text x="1544.1" y="513.2" font-size="20" text-anchor="middle" fill="#000" fill-opacity="0.85" stroke="#000" stroke-opacity="0.6" stroke-width="0.3">8</text>
<path d="M600.0,550.9H1686.0" stroke="#828282" stroke-width="9.6" stroke-linecap="round"/>
<rect x="605.6" y="535.4" width="50" height="31" fill="#70B445"/>
<text x="630.6" y="558.2" font-size="20" text-anchor="middle" fill="#000" fill-opacity="0.85" stroke="#000" stroke-opacity="0.6" stroke-width="0.3">1</text>
<rect x="666.5" y="535.4" width="35" height="31" fill="#F0608C"/>
<text x="684.0" y="558.2" font-size="20" text-anchor="middle" fill="#000" fill-opacity="0.85" stroke="#000" stroke-opacity="0.6" stroke-width="0.3">3</text>
<rect x="702.5" y="535.4" width="42.7" height="31" fill="#B97F48"/>
<text x="723.9" y="558.2" font-size="20" text-anchor="middle" fill="#000" fill-opacity="0.85" stroke="#000" stroke-opacity="0.6" stroke-width="0.3">20</text>
<rect x="763.1" y="535.4" width="47.5" height="31" fill="#FDC70C"/>
<text x="785.8" y="558.2" font-size="20" text-anchor="middle" fill="#000" fill-opacity="0.85" stroke="#000" stroke-opacity="0.6" stroke-width="0.3">2</text>
<rect x="818.9" y="535.4" width="44.8" height="31" fill="#F80D25"/>
<text x="840.0" y="558.2" font-size="20" text-anchor="middle" fill="#000" fill-opacity="0.85" stroke="#000" stroke-opacity="0.6" stroke-width="0.3">5</text>
<rect x="910.9" y="535.4" width="45" height="31" fill="#FCA21A"/>
<text x="931.8" y="558.2" font-size="20" text-anchor="middle" fill="#000" fill-opacity="0.85" stroke="#000" stroke-opacity="0.6" stroke-width="0.3">8</text>
<rect x="1210.5" y="535.4" width="47.5" height="31" fill="#FDC70C"/>
<text x="1233.3" y="558.2" font-size="20" text-anchor="middle" fill="#000" fill-opacity="0.85" stroke="#000" stroke-opacity="0.6" stroke-width="0.3">2</text>
<rect x="1312.5" y="535.4" width="47.5" height="31" fill="#FDC70C"/>
<text x="1335.3" y="558.2" font-size="20" text-anchor="middle" fill="#000" fill-opacity="0.85" stroke="#000" stroke-opacity="0.6" stroke-width="0.3">2</text>
<path d="M600.0,595.9H1465.6" stroke="#828282" stroke-width="9.6" stroke-linecap="round"/>
<rect x="615.3" y="580.4" width="50" height="31" fill="#70B445"/>
<text x="640.3" y="603.2" font-size="20" text-anchor="middle" fill="#000" fill-opacity="0.85" stroke="#000" stroke-opacity="0.6" stroke-width="0.3">1</text>
<rect x="675.8" y="580.4" width="35" height="31" fill="#F0608C"/>
<text x="693.3" y="603.2" font-size="20" text-anchor="middle" fill="#000" fill-opacity="0.85" stroke="#000" stroke-opacity="0.6" stroke-width="0.3">3</text>
<rect x="809.2" y="580.4" width="33" height="31" fill="#5E4B94"/>
<text x="825.7" y="603.2" font-size="20" text-anchor="middle" fill="#000" fill-opacity="0.85" stroke="#000" stroke-opacity="0.6" stroke-width="0.3">9</text>
<rect x="874.8" y="580.4" width="33" height="31" fill="#DB6130"/>
<text x="891.3" y="603.2" font-size="20" text-anchor="middle" fill="#000" fill-opacity="0.85" stroke="#000" stroke-opacity="0.6" stroke-width="0.3">12</text>
<rect x="932.6" y="580.4" width="45" height="31" fill="#FCA21A"/>
<text x="953.5" y="603.2" font-size="20" text-anchor="middle" fill="#000" fill-opacity="0.85" stroke="#000" stroke-opacity="0.6" stroke-width="0.3">8</text>
<rect x="983.8" y="580.4" width="44.8" height="31" fill="#F80D25"/>
<text x="1004.9" y="603.2" font-size="20" text-anchor="middle" fill="#000" fill-opacity="0.85" stroke="#000" stroke-opacity="0.6" stroke-width="0.3">5</text>
<rect x="1049.0" y="580.4" width="47.5" height="31" fill="#FDC70C"/>
<text x="1071.7" y="603.2" font-size="20" text-anchor="middle" fill="#000" fill-opacity="0.85" stroke="#000" stroke-opacity="0.6" stroke-width="0.3">2</text>
<rect x="1383.1" y="580.4" width="47.5" height="31" fill="#FDC70C"/>
<text x="1405.9" y="603.2" font-size="20" text-anchor="middle" fill="#000" fill-opacity="0.85" stroke="#000" stroke-opacity="0.6" stroke-width="0.3">2</text>
<path d="M600.0,640.9H1429.6" stroke="#828282" stroke-width="9.6" stroke-linecap="round"/>
<rect x="625.0" y="625.4" width="50" height="31" fill="#70B445"/>
<text x="650.0" y="648.2" font-size="20" text-anchor="middle" fill="#000" fill-opacity="0.85" stroke="#000" stroke-opacity="0.6" stroke-width="0.3">1</text>
<rect x="685.9" y="625.4" width="35" height="31" fill="#F0608C"/>
<text x="703.4" y="648.2" font-size="20" text-anchor="middle" fill="#000" fill-opacity="0.85" stroke="#000" stroke-opacity="0.6" stroke-width="0.3">3</text>
<rect x="809.2" y="625.4" width="33" height="31" fill="#5E4B94"/>
<text x="825.7" y="648.2" font-size="20" text-anchor="middle" fill="#000" fill-opacity="0.85" stroke="#000" stroke-opacity="0.6" stroke-width="0.3">9</text>
<rect x="874.8" y="625.4" width="33" height="31" fill="#DB6130"/>
<text x="891.3" y="648.2" font-size="20" text-anchor="middle" fill="#000" fill-opacity="0.85" stroke="#000" stroke-opacity="0.6" stroke-width="0.3">12</text>
<rect x="932.6" y="625.4" width="45" height="31" fill="#FCA21A"/>
<text x="953.5" y="648.2" font-size="20" text-anchor="middle" fill="#000" fill-opacity="0.85" stroke="#000" stroke-opacity="0.6" stroke-width="0.3">8</text>
<rect x="981.5" y="625.4" width="44.8" height="31" fill="#F80D25"/>
<text x="1002.6" y="648.2" font-size="20" text-anchor="middle" fill="#000" fill-opacity="0.85" stroke="#000" stroke-opacity="0.6" stroke-width="0.3">5</text>
<rect x="1043.9" y="625.4" width="47.5" height="31" fill="#FDC70C"/>
<text x="1066.7" y="648.2" font-size="20" text-anchor="middle" fill="#000" fill-opacity="0.85" stroke="#000" stroke-opacity="0.6" stroke-width="0.3">2</text>
<rect x="1164.6" y="625.4" width="47.5" height="31" fill="#FDC70C"/>
<text x="1187.3" y="648.2" font-size="20" text-anchor="middle" fill="#000" fill-opacity="0.85" stroke="#000" stroke-opacity="0.6" stroke-width="0.3">2</text>
<path d="M600.0,685.9H1536.6" stroke="#828282" stroke-width="9.6" stroke-linecap="round"/>
<rect x="707.6" y="670.4" width="50" height="31" fill="#70B445"/>
<text x="732.6" y="693.2" font-size="20" text-anchor="middle" fill="#000" fill-opacity="0.85" stroke="#000" stroke-opacity="0.6" stroke-width="0.3">1</text>
<rect x="768.1" y="670.4" width="35" height="31" fill="#F0608C"/>
<text x="785.6" y="693.2" font-size="20" text-anchor="middle" fill="#000" fill-opacity="0.85" stroke="#000" stroke-opacity="0.6" stroke-width="0.3">3</text>
<rect x="804.6" y="670.4" width="42.7" height="31" fill="#B97F48"/>
<text x="825.9" y="693.2" font-size="20" text-anchor="middle" fill="#000" fill-opacity="0.85" stroke="#000" stroke-opacity="0.6" stroke-width="0.3">20</text>
<rect x="927.9" y="670.4" width="33" height="31" fill="#DB6130"/>
<text x="944.4" y="693.2" font-size="20" text-anchor="middle" fill="#000" fill-opacity="0.85" stroke="#000" stroke-opacity="0.6" stroke-width="0.3">12</text>
<rect x="974.1" y="670.4" width="45" height="31" fill="#FCA21A"/>
<text x="995.0" y="693.2" font-size="20" text-anchor="middle" fill="#000" fill-opacity="0.85" stroke="#000" stroke-opacity="0.6" stroke-width="0.3">8</text>
<rect x="1022.6" y="670.4" width="44.8" height="31" fill="#F80D25"/>
<text x="1043.7" y="693.2" font-size="20" text-anchor="middle" fill="#000" fill-opacity="0.85" stroke="#000" stroke-opacity="0.6" stroke-width="0.3">5</text>
<rect x="1072.6" y="670.4" width="119.9" height="31" fill="#9391B7"/>
<text x="1131.6" y="693.2" font-size="20" text-anchor="middle" fill="#000" fill-opacity="0.85" stroke="#000" stroke-opacity="0.6" stroke-width="0.3">6</text>
<rect x="1203.5" y="670.4" width="47.5" height="31" fill="#FDC70C"/>
<text x="1226.3" y="693.2" font-size="20" text-anchor="middle" fill="#000" fill-opacity="0.85" stroke="#000" stroke-opacity="0.6" stroke-width="0.3">2</text>
<rect x="1280.7" y="670.4" width="120.6" height="31" fill="#AEDB8E"/>
<text x="1340.0" y="693.2" font-size="20" text-anchor="middle" fill="#000" fill-opacity="0.85" stroke="#000" stroke-opacity="0.6" stroke-width="0.3">7</text>
<rect x="1402.5" y="670.4" width="66.7" height="31" fill="#F290AC"/>
<text x="1435.9" y="693.2" font-size="20" text-anchor="middle" fill="#000" fill-opacity="0.85" stroke="#000" stroke-opacity="0.6" stroke-width="0.3">14</text>
<rect x="1513.5" y="670.4" width="23.7" height="31" fill="#C7000E"/>
<text x="1525.3" y="693.2" font-size="20" text-anchor="middle" fill="#000" fill-opacity="0.85" stroke="#000" stroke-opacity="0.6" stroke-width="0.3">16</text>
<path d="M600.0,730.9H1683.6" stroke="#828282" stroke-width="9.6" stroke-linecap="round"/>
<rect x="847.6" y="715.4" width="50" height="31" fill="#70B445"/>
<text x="872.6" y="738.2" font-size="20" text-anchor="middle" fill="#000" fill-opacity="0.85" stroke="#000" stroke-opacity="0.6" stroke-width="0.3">1</text>
<rect x="908.5" y="715.4" width="35" height="31" fill="#F0608C"/>
<text x="926.0" y="738.2" font-size="20" text-anchor="middle" fill="#000" fill-opacity="0.85" stroke="#000" stroke-opacity="0.6" stroke-width="0.3">3</text>
<rect x="945.0" y="715.4" width="120.3" height="31" fill="#0F8A80"/>
<text x="1003.6" y="738.2" font-size="20" text-anchor="middle" fill="#000" fill-opacity="0.85" stroke="#000" stroke-opacity="0.6" stroke-width="0.3">4</text>
<rect x="1066.0" y="715.4" width="33" height="31" fill="#DB6130"/>
<text x="1082.5" y="738.2" font-size="20" text-anchor="middle" fill="#000" fill-opacity="0.85" stroke="#000" stroke-opacity="0.6" stroke-width="0.3">12</text>
<rect x="1111.8" y="715.4" width="45" height="31" fill="#FCA21A"/>
<text x="1132.7" y="738.2" font-size="20" text-anchor="middle" fill="#000" fill-opacity="0.85" stroke="#000" stroke-opacity="0.6" stroke-width="0.3">8</text>
<rect x="1160.7" y="715.4" width="44.8" height="31" fill="#F80D25"/>
<text x="1181.8" y="738.2" font-size="20" text-anchor="middle" fill="#000" fill-opacity="0.85" stroke="#000" stroke-opacity="0.6" stroke-width="0.3">5</text>
<rect x="1206.9" y="715.4" width="119.9" height="31" fill="#9391B7"/>
<text x="1265.8" y="738.2" font-size="20" text-anchor="middle" fill="#000" fill-opacity="0.85" stroke="#000" stroke-opacity="0.6" stroke-width="0.3">6</text>
<rect x="1341.2" y="715.4" width="47.5" height="31" fill="#FDC70C"/>
<text x="1364.0" y="738.2" font-size="20" text-anchor="middle" fill="#000" fill-opacity="0.85" stroke="#000" stroke-opacity="0.6" stroke-width="0.3">2</text>
<rect x="1438.2" y="715.4" width="120.6" height="31" fill="#AEDB8E"/>
<text x="1497.5" y="738.2" font-size="20" text-anchor="middle" fill="#000" fill-opacity="0.85" stroke="#000" stroke-opacity="0.6" stroke-width="0.3">7</text>
<rect x="1559.7" y="715.4" width="66.7" height="31" fill="#F290AC"/>
<text x="1593.0" y="738.2" font-size="20" text-anchor="middle" fill="#000" fill-opacity="0.85" stroke="#000" stroke-opacity="0.6" stroke-width="0.3">14</text>
<path d="M600.0,775.9H1676.3" stroke="#828282" stroke-width="9.6" stroke-linecap="round"/>
<rect x="833.3" y="760.4" width="50" height="31" fill="#70B445"/>
<text x="858.3" y="783.2" font-size="20" text-anchor="middle" fill="#000" fill-opacity="0.85" stroke="#000" stroke-opacity="0.6" stroke-width="0.3">1</text>
<rect x="894.2" y="760.4" width="35" height="31" fill="#F0608C"/>
<text x="911.7" y="783.2" font-size="20" text-anchor="middle" fill="#000" fill-opacity="0.85" stroke="#000" stroke-opacity="0.6" stroke-width="0.3">3</text>
<rect x="930.3" y="760.4" width="120.3" height="31" fill="#0F8A80"/>
<text x="988.9" y="783.2" font-size="20" text-anchor="middle" fill="#000" fill-opacity="0.85" stroke="#000" stroke-opacity="0.6" stroke-width="0.3">4</text>
<rect x="1051.7" y="760.4" width="33" height="31" fill="#DB6130"/>
<text x="1068.2" y="783.2" font-size="20" text-anchor="middle" fill="#000" fill-opacity="0.85" stroke="#000" stroke-opacity="0.6" stroke-width="0.3">12</text>
<rect x="1097.5" y="760.4" width="45" height="31" fill="#FCA21A"/>
<text x="1118.4" y="783.2" font-size="20" text-anchor="middle" fill="#000" fill-opacity="0.85" stroke="#000" stroke-opacity="0.6" stroke-width="0.3">8</text>
<rect x="1145.9" y="760.4" width="44.8" height="31" fill="#F80D25"/>
<text x="1167.0" y="783.2" font-size="20" text-anchor="middle" fill="#000" fill-opacity="0.85" stroke="#000" stroke-opacity="0.6" stroke-width="0.3">5</text>
<rect x="1192.1" y="760.4" width="119.9" height="31" fill="#9391B7"/>
<text x="1251.1" y="783.2" font-size="20" text-anchor="middle" fill="#000" fill-opacity="0.85" stroke="#000" stroke-opacity="0.6" stroke-width="0.3">6</text>
<rect x="1327.3" y="760.4" width="47.5" height="31" fill="#FDC70C"/>
<text x="1350.0" y="783.2" font-size="20" text-anchor="middle" fill="#000" fill-opacity="0.85" stroke="#000" stroke-opacity="0.6" stroke-width="0.3">2</text>
<rect x="1423.9" y="760.4" width="120.6" height="31" fill="#AEDB8E"/>
<text x="1483.2" y="783.2" font-size="20" text-anchor="middle" fill="#000" fill-opacity="0.85" stroke="#000" stroke-opacity="0.6" stroke-width="0.3">7</text>
<rect x="1545.3" y="760.4" width="66.7" height="31" fill="#F290AC"/>
<text x="1578.7" y="783.2" font-size="20" text-anchor="middle" fill="#000" fill-opacity="0.85" stroke="#000" stroke-opacity="0.6" stroke-width="0.3">14</text>
<rect x="1653.5" y="760.4" width="23.7" height="31" fill="#C7000E"/>
<text x="1665.4" y="783.2" font-size="20" text-anchor="middle" fill="#000" fill-opacity="0.85" stroke="#000" stroke-opacity="0.6" stroke-width="0.3">16</text>
<path d="M600.0,820.9H1569.6" stroke="#828282" stroke-width="9.6" stroke-linecap="round"/>
<rect x="739.0" y="805.4" width="50" height="31" fill="#70B445"/>
<text x="764.0" y="828.2" font-size="20" text-anchor="middle" fill="#000" fill-opacity="0.85" stroke="#000" stroke-opacity="0.6" stroke-width="0.3">1</text>
<rect x="799.5" y="805.4" width="35" height="31" fill="#F0608C"/>
<text x="817.0" y="828.2" font-size="20" text-anchor="middle" fill="#000" fill-opacity="0.85" stroke="#000" stroke-opacity="0.6" stroke-width="0.3">3</text>
<rect x="836.0" y="805.4" width="120.3" height="31" fill="#0F8A80"/>
<text x="894.6" y="828.2" font-size="20" text-anchor="middle" fill="#000" fill-opacity="0.85" stroke="#000" stroke-opacity="0.6" stroke-width="0.3">4</text>
<rect x="957.4" y="805.4" width="33" height="31" fill="#DB6130"/>
<text x="973.9" y="828.2" font-size="20" text-anchor="middle" fill="#000" fill-opacity="0.85" stroke="#000" stroke-opacity="0.6" stroke-width="0.3">12</text>
<rect x="1002.8" y="805.4" width="45" height="31" fill="#FCA21A"/>
<text x="1023.7" y="828.2" font-size="20" text-anchor="middle" fill="#000" fill-opacity="0.85" stroke="#000" stroke-opacity="0.6" stroke-width="0.3">8</text>
<rect x="1051.7" y="805.4" width="44.8" height="31" fill="#F80D25"/>
<text x="1072.8" y="828.2" font-size="20" text-anchor="middle" fill="#000" fill-opacity="0.85" stroke="#000" stroke-opacity="0.6" stroke-width="0.3">5</text>
<rect x="1097.8" y="805.4" width="119.9" height="31" fill="#9391B7"/>
<text x="1156.8" y="828.2" font-size="20" text-anchor="middle" fill="#000" fill-opacity="0.85" stroke="#000" stroke-opacity="0.6" stroke-width="0.3">6</text>
<rect x="1230.7" y="805.4" width="47.5" height="31" fill="#FDC70C"/>
<text x="1253.4" y="828.2" font-size="20" text-anchor="middle" fill="#000" fill-opacity="0.85" stroke="#000" stroke-opacity="0.6" stroke-width="0.3">2</text>
<rect x="1305.2" y="805.4" width="120.6" height="31" fill="#AEDB8E"/>
<text x="1364.5" y="828.2" font-size="20" text-anchor="middle" fill="#000" fill-opacity="0.85" stroke="#000" stroke-opacity="0.6" stroke-width="0.3">7</text>
<rect x="1426.6" y="805.4" width="66.7" height="31" fill="#F290AC"/>
<text x="1459.9" y="828.2" font-size="20" text-anchor="middle" fill="#000" fill-opacity="0.85" stroke="#000" stroke-opacity="0.6" stroke-width="0.3">14</text>
<rect x="1547.2" y="805.4" width="23.7" height="31" fill="#C7000E"/>
<text x="1559.1" y="828.2" font-size="20" text-anchor="middle" fill="#000" fill-opacity="0.85" stroke="#000" stroke-opacity="0.6" stroke-width="0.3">16</text>
<path d="M600.0,865.9H1558.0" stroke="#828282" stroke-width="9.6" stroke-linecap="round"/>
<rect x="727.0" y="850.4" width="50" height="31" fill="#70B445"/>
<text x="752.0" y="873.2" font-size="20" text-anchor="middle" fill="#000" fill-opacity="0.85" stroke="#000" stroke-opacity="0.6" stroke-width="0.3">1</text>
<rect x="787.5" y="850.4" width="35" height="31" fill="#F0608C"/>
<text x="805.0" y="873.2" font-size="20" text-anchor="middle" fill="#000" fill-opacity="0.85" stroke="#000" stroke-opacity="0.6" stroke-width="0.3">3</text>
<rect x="823.6" y="850.4" width="120.3" height="31" fill="#0F8A80"/>
<text x="882.2" y="873.2" font-size="20" text-anchor="middle" fill="#000" fill-opacity="0.85" stroke="#000" stroke-opacity="0.6" stroke-width="0.3">4</text>
<rect x="945.0" y="850.4" width="33" height="31" fill="#DB6130"/>
<text x="961.5" y="873.2" font-size="20" text-anchor="middle" fill="#000" fill-opacity="0.85" stroke="#000" stroke-opacity="0.6" stroke-width="0.3">12</text>
<rect x="990.8" y="850.4" width="45" height="31" fill="#FCA21A"/>
<text x="1011.7" y="873.2" font-size="20" text-anchor="middle" fill="#000" fill-opacity="0.85" stroke="#000" stroke-opacity="0.6" stroke-width="0.3">8</text>
<rect x="1038.9" y="850.4" width="44.8" height="31" fill="#F80D25"/>
<text x="1060.0" y="873.2" font-size="20" text-anchor="middle" fill="#000" fill-opacity="0.85" stroke="#000" stroke-opacity="0.6" stroke-width="0.3">5</text>
<rect x="1085.4" y="850.4" width="119.9" height="31" fill="#9391B7"/>
<text x="1144.4" y="873.2" font-size="20" text-anchor="middle" fill="#000" fill-opacity="0.85" stroke="#000" stroke-opacity="0.6" stroke-width="0.3">6</text>
<rect x="1218.3" y="850.4" width="47.5" height="31" fill="#FDC70C"/>
<text x="1241.0" y="873.2" font-size="20" text-anchor="middle" fill="#000" fill-opacity="0.85" stroke="#000" stroke-opacity="0.6" stroke-width="0.3">2</text>
<rect x="1293.5" y="850.4" width="120.6" height="31" fill="#AEDB8E"/>
<text x="1352.8" y="873.2" font-size="20" text-anchor="middle" fill="#000" fill-opacity="0.85" stroke="#000" stroke-opacity="0.6" stroke-width="0.3">7</text>
<rect x="1414.6" y="850.4" width="66.7" height="31" fill="#F290AC"/>
<text x="1447.9" y="873.2" font-size="20" text-anchor="middle" fill="#000" fill-opacity="0.85" stroke="#000" stroke-opacity="0.6" stroke-width="0.3">14</text>
<rect x="1535.2" y="850.4" width="23.7" height="31" fill="#C7000E"/>
<text x="1547.1" y="873.2" font-size="20" text-anchor="middle" fill="#000" fill-opacity="0.85" stroke="#000" stroke-opacity="0.6" stroke-width="0.3">16</text>
<path d="M600.0,910.9H1516.5" stroke="#828282" stroke-width="9.6" stroke-linecap="round"/>
<rect x="637.0" y="895.4" width="50" height="31" fill="#70B445"/>
<text x="662.0" y="918.2" font-size="20" text-anchor="middle" fill="#000" fill-opacity="0.85" stroke="#000" stroke-opacity="0.6" stroke-width="0.3">1</text>
<rect x="697.5" y="895.4" width="35" height="31" fill="#F0608C"/>
<text x="715.0" y="918.2" font-size="20" text-anchor="middle" fill="#000" fill-opacity="0.85" stroke="#000" stroke-opacity="0.6" stroke-width="0.3">3</text>
<rect x="782.8" y="895.4" width="47.5" height="31" fill="#FDC70C"/>
<text x="805.6" y="918.2" font-size="20" text-anchor="middle" fill="#000" fill-opacity="0.85" stroke="#000" stroke-opacity="0.6" stroke-width="0.3">2</text>
<rect x="947.3" y="895.4" width="33" height="31" fill="#DB6130"/>
<text x="963.8" y="918.2" font-size="20" text-anchor="middle" fill="#000" fill-opacity="0.85" stroke="#000" stroke-opacity="0.6" stroke-width="0.3">12</text>
<rect x="1002.8" y="895.4" width="45" height="31" fill="#FCA21A"/>
<text x="1023.7" y="918.2" font-size="20" text-anchor="middle" fill="#000" fill-opacity="0.85" stroke="#000" stroke-opacity="0.6" stroke-width="0.3">8</text>
<rect x="1078.1" y="895.4" width="33" height="31" fill="#DB6130"/>
<text x="1094.6" y="918.2" font-size="20" text-anchor="middle" fill="#000" fill-opacity="0.85" stroke="#000" stroke-opacity="0.6" stroke-width="0.3">12</text>
<rect x="1124.2" y="895.4" width="33" height="31" fill="#5E4B94"/>
<text x="1140.7" y="918.2" font-size="20" text-anchor="middle" fill="#000" fill-opacity="0.85" stroke="#000" stroke-opacity="0.6" stroke-width="0.3">9</text>
<rect x="1453.0" y="895.4" width="23.7" height="31" fill="#C7000E"/>
<text x="1464.8" y="918.2" font-size="20" text-anchor="middle" fill="#000" fill-opacity="0.85" stroke="#000" stroke-opacity="0.6" stroke-width="0.3">16</text>
<path d="M600.0,955.9H1501.7" stroke="#828282" stroke-width="9.6" stroke-linecap="round"/>
<rect x="625.0" y="940.4" width="50" height="31" fill="#70B445"/>
<text x="650.0" y="963.2" font-size="20" text-anchor="middle" fill="#000" fill-opacity="0.85" stroke="#000" stroke-opacity="0.6" stroke-width="0.3">1</text>
<rect x="685.9" y="940.4" width="35" height="31" fill="#F0608C"/>
<text x="703.4" y="963.2" font-size="20" text-anchor="middle" fill="#000" fill-opacity="0.85" stroke="#000" stroke-opacity="0.6" stroke-width="0.3">3</text>
<rect x="770.4" y="940.4" width="47.5" height="31" fill="#FDC70C"/>
<text x="793.2" y="963.2" font-size="20" text-anchor="middle" fill="#000" fill-opacity="0.85" stroke="#000" stroke-opacity="0.6" stroke-width="0.3">2</text>
<rect x="937.6" y="940.4" width="33" height="31" fill="#DB6130"/>
<text x="954.1" y="963.2" font-size="20" text-anchor="middle" fill="#000" fill-opacity="0.85" stroke="#000" stroke-opacity="0.6" stroke-width="0.3">12</text>
<rect x="993.1" y="940.4" width="45" height="31" fill="#FCA21A"/>
<text x="1014.0" y="963.2" font-size="20" text-anchor="middle" fill="#000" fill-opacity="0.85" stroke="#000" stroke-opacity="0.6" stroke-width="0.3">8</text>
<rect x="1114.5" y="940.4" width="33" height="31" fill="#5E4B94"/>
<text x="1131.0" y="963.2" font-size="20" text-anchor="middle" fill="#000" fill-opacity="0.85" stroke="#000" stroke-opacity="0.6" stroke-width="0.3">9</text>
<rect x="1426.6" y="940.4" width="23.7" height="31" fill="#C7000E"/>
<text x="1438.4" y="963.2" font-size="20" text-anchor="middle" fill="#000" fill-opacity="0.85" stroke="#000" stroke-opacity="0.6" stroke-width="0.3">16</text>
<path d="M600.0,1000.9H1545.5" stroke="#828282" stroke-width="9.6" stroke-linecap="round"/>
<rect x="675.8" y="985.4" width="50" height="31" fill="#70B445"/>
<text x="700.8" y="1008.2" font-size="20" text-anchor="middle" fill="#000" fill-opacity="0.85" stroke="#000" stroke-opacity="0.6" stroke-width="0.3">1</text>
<rect x="729.3" y="985.4" width="35" height="31" fill="#F0608C"/>
<text x="746.8" y="1008.2" font-size="20" text-anchor="middle" fill="#000" fill-opacity="0.85" stroke="#000" stroke-opacity="0.6" stroke-width="0.3">3</text>
<rect x="833.3" y="985.4" width="33" height="31" fill="#5E4B94"/>
<text x="849.8" y="1008.2" font-size="20" text-anchor="middle" fill="#000" fill-opacity="0.85" stroke="#000" stroke-opacity="0.6" stroke-width="0.3">9</text>
<rect x="925.6" y="985.4" width="33" height="31" fill="#DB6130"/>
<text x="942.1" y="1008.2" font-size="20" text-anchor="middle" fill="#000" fill-opacity="0.85" stroke="#000" stroke-opacity="0.6" stroke-width="0.3">12</text>
<rect x="978.8" y="985.4" width="47.5" height="31" fill="#FDC70C"/>
<text x="1001.5" y="1008.2" font-size="20" text-anchor="middle" fill="#000" fill-opacity="0.85" stroke="#000" stroke-opacity="0.6" stroke-width="0.3">2</text>
<rect x="1032.3" y="985.4" width="44.8" height="31" fill="#F80D25"/>
<text x="1053.4" y="1008.2" font-size="20" text-anchor="middle" fill="#000" fill-opacity="0.85" stroke="#000" stroke-opacity="0.6" stroke-width="0.3">5</text>
<rect x="1240.0" y="985.4" width="47.5" height="31" fill="#FDC70C"/>
<text x="1262.8" y="1008.2" font-size="20" text-anchor="middle" fill="#000" fill-opacity="0.85" stroke="#000" stroke-opacity="0.6" stroke-width="0.3">2</text>
<rect x="1344.4" y="985.4" width="47.5" height="31" fill="#FDC70C"/>
<text x="1367.1" y="1008.2" font-size="20" text-anchor="middle" fill="#000" fill-opacity="0.85" stroke="#000" stroke-opacity="0.6" stroke-width="0.3">2</text>
<rect x="1409.1" y="985.4" width="33" height="31" fill="#DB6130"/>
<text x="1425.6" y="1008.2" font-size="20" text-anchor="middle" fill="#000" fill-opacity="0.85" stroke="#000" stroke-opacity="0.6" stroke-width="0.3">12</text>
<path d="M600.0,1045.9H1562.6" stroke="#828282" stroke-width="9.6" stroke-linecap="round"/>
<rect x="697.9" y="1030.4" width="50" height="31" fill="#70B445"/>
<text x="722.9" y="1053.2" font-size="20" text-anchor="middle" fill="#000" fill-opacity="0.85" stroke="#000" stroke-opacity="0.6" stroke-width="0.3">1</text>
<rect x="751.0" y="1030.4" width="35" height="31" fill="#F0608C"/>
<text x="768.5" y="1053.2" font-size="20" text-anchor="middle" fill="#000" fill-opacity="0.85" stroke="#000" stroke-opacity="0.6" stroke-width="0.3">3</text>
<rect x="855.4" y="1030.4" width="33" height="31" fill="#5E4B94"/>
<text x="871.9" y="1053.2" font-size="20" text-anchor="middle" fill="#000" fill-opacity="0.85" stroke="#000" stroke-opacity="0.6" stroke-width="0.3">9</text>
<rect x="998.1" y="1030.4" width="47.5" height="31" fill="#FDC70C"/>
<text x="1020.9" y="1053.2" font-size="20" text-anchor="middle" fill="#000" fill-opacity="0.85" stroke="#000" stroke-opacity="0.6" stroke-width="0.3">2</text>
<rect x="1051.7" y="1030.4" width="44.8" height="31" fill="#F80D25"/>
<text x="1072.8" y="1053.2" font-size="20" text-anchor="middle" fill="#000" fill-opacity="0.85" stroke="#000" stroke-opacity="0.6" stroke-width="0.3">5</text>
<rect x="1254.4" y="1030.4" width="33" height="31" fill="#5E4B94"/>
<text x="1270.9" y="1053.2" font-size="20" text-anchor="middle" fill="#000" fill-opacity="0.85" stroke="#000" stroke-opacity="0.6" stroke-width="0.3">9</text>
<rect x="1356.0" y="1030.4" width="33" height="31" fill="#5E4B94"/>
<text x="1372.5" y="1053.2" font-size="20" text-anchor="middle" fill="#000" fill-opacity="0.85" stroke="#000" stroke-opacity="0.6" stroke-width="0.3">9</text>
<path d="M600.0,1090.9H1710.0" stroke="#828282" stroke-width="9.6" stroke-linecap="round"/>
<rect x="634.7" y="1075.4" width="50" height="31" fill="#70B445"/>
<text x="659.7" y="1098.2" font-size="20" text-anchor="middle" fill="#000" fill-opacity="0.85" stroke="#000" stroke-opacity="0.6" stroke-width="0.3">1</text>
<rect x="695.6" y="1075.4" width="35" height="31" fill="#F0608C"/>
<text x="713.1" y="1098.2" font-size="20" text-anchor="middle" fill="#000" fill-opacity="0.85" stroke="#000" stroke-opacity="0.6" stroke-width="0.3">3</text>
<rect x="872.1" y="1075.4" width="33" height="31" fill="#DB6130"/>
<text x="888.6" y="1098.2" font-size="20" text-anchor="middle" fill="#000" fill-opacity="0.85" stroke="#000" stroke-opacity="0.6" stroke-width="0.3">12</text>
<rect x="1036.9" y="1075.4" width="66.7" height="31" fill="#6D8528"/>
<text x="1070.3" y="1098.2" font-size="20" text-anchor="middle" fill="#000" fill-opacity="0.85" stroke="#000" stroke-opacity="0.6" stroke-width="0.3">18</text>
<rect x="1433.2" y="1075.4" width="33" height="31" fill="#DB6130"/>
<text x="1449.7" y="1098.2" font-size="20" text-anchor="middle" fill="#000" fill-opacity="0.85" stroke="#000" stroke-opacity="0.6" stroke-width="0.3">12</text>
<path d="M600.0,1135.9H1753.5" stroke="#828282" stroke-width="9.6" stroke-linecap="round"/>
<rect x="763.1" y="1120.4" width="50" height="31" fill="#70B445"/>
<text x="788.1" y="1143.2" font-size="20" text-anchor="middle" fill="#000" fill-opacity="0.85" stroke="#000" stroke-opacity="0.6" stroke-width="0.3">1</text>
<rect x="823.6" y="1120.4" width="35" height="31" fill="#F0608C"/>
<text x="841.1" y="1143.2" font-size="20" text-anchor="middle" fill="#000" fill-opacity="0.85" stroke="#000" stroke-opacity="0.6" stroke-width="0.3">3</text>
<rect x="930.3" y="1120.4" width="44.8" height="31" fill="#F80D25"/>
<text x="951.4" y="1143.2" font-size="20" text-anchor="middle" fill="#000" fill-opacity="0.85" stroke="#000" stroke-opacity="0.6" stroke-width="0.3">5</text>
<rect x="998.1" y="1120.4" width="33" height="31" fill="#DB6130"/>
<text x="1014.6" y="1143.2" font-size="20" text-anchor="middle" fill="#000" fill-opacity="0.85" stroke="#000" stroke-opacity="0.6" stroke-width="0.3">12</text>
<rect x="1126.6" y="1120.4" width="33" height="31" fill="#DB6130"/>
<text x="1143.1" y="1143.2" font-size="20" text-anchor="middle" fill="#000" fill-opacity="0.85" stroke="#000" stroke-opacity="0.6" stroke-width="0.3">12</text>
<rect x="1237.3" y="1120.4" width="44.8" height="31" fill="#F80D25"/>
<text x="1258.4" y="1143.2" font-size="20" text-anchor="middle" fill="#000" fill-opacity="0.85" stroke="#000" stroke-opacity="0.6" stroke-width="0.3">5</text>
<rect x="1380.4" y="1120.4" width="33" height="31" fill="#DB6130"/>
<text x="1396.9" y="1143.2" font-size="20" text-anchor="middle" fill="#000" fill-opacity="0.85" stroke="#000" stroke-opacity="0.6" stroke-width="0.3">12</text>
<rect x="1666.3" y="1120.4" width="33" height="31" fill="#DB6130"/>
<text x="1682.8" y="1143.2" font-size="20" text-anchor="middle" fill="#000" fill-opacity="0.85" stroke="#000" stroke-opacity="0.6" stroke-width="0.3">12</text>
<path d="M600.0,1180.9H1591.7" stroke="#828282" stroke-width="9.6" stroke-linecap="round"/>
<rect x="702.5" y="1165.4" width="50" height="31" fill="#70B445"/>
<text x="727.5" y="1188.2" font-size="20" text-anchor="middle" fill="#000" fill-opacity="0.85" stroke="#000" stroke-opacity="0.6" stroke-width="0.3">1</text>
<rect x="763.1" y="1165.4" width="35" height="31" fill="#F0608C"/>
<text x="780.6" y="1188.2" font-size="20" text-anchor="middle" fill="#000" fill-opacity="0.85" stroke="#000" stroke-opacity="0.6" stroke-width="0.3">3</text>
<rect x="828.6" y="1165.4" width="119.9" height="31" fill="#82907C"/>
<text x="888.6" y="1188.2" font-size="20" text-anchor="middle" fill="#000" fill-opacity="0.85" stroke="#000" stroke-opacity="0.6" stroke-width="0.3">11</text>
<rect x="964.4" y="1165.4" width="33" height="31" fill="#5E4B94"/>
<text x="980.9" y="1188.2" font-size="20" text-anchor="middle" fill="#000" fill-opacity="0.85" stroke="#000" stroke-opacity="0.6" stroke-width="0.3">9</text>
<rect x="1049.0" y="1165.4" width="119.9" height="31" fill="#56C297"/>
<text x="1108.9" y="1188.2" font-size="20" text-anchor="middle" fill="#000" fill-opacity="0.85" stroke="#000" stroke-opacity="0.6" stroke-width="0.3">13</text>
<rect x="1172.7" y="1165.4" width="66.7" height="31" fill="#6D8528"/>
<text x="1206.1" y="1188.2" font-size="20" text-anchor="middle" fill="#000" fill-opacity="0.85" stroke="#000" stroke-opacity="0.6" stroke-width="0.3">18</text>
<rect x="1310.6" y="1165.4" width="33" height="31" fill="#DB6130"/>
<text x="1327.1" y="1188.2" font-size="20" text-anchor="middle" fill="#000" fill-opacity="0.85" stroke="#000" stroke-opacity="0.6" stroke-width="0.3">12</text>
<rect x="1365.7" y="1165.4" width="47.5" height="31" fill="#FDC70C"/>
<text x="1388.4" y="1188.2" font-size="20" text-anchor="middle" fill="#000" fill-opacity="0.85" stroke="#000" stroke-opacity="0.6" stroke-width="0.3">2</text>
<rect x="1414.6" y="1165.4" width="47.3" height="31" fill="#5C0000"/>
<text x="1438.2" y="1188.2" font-size="20" text-anchor="middle" fill="#000" fill-opacity="0.85" stroke="#000" stroke-opacity="0.6" stroke-width="0.3">17</text>
<rect x="1469.7" y="1165.4" width="118" height="31" fill="#FDB88E"/>
<text x="1528.2" y="1188.2" font-size="20" text-anchor="middle" fill="#000" fill-opacity="0.85" stroke="#000" stroke-opacity="0.6" stroke-width="0.3">10</text>
<path d="M600.0,1225.9H1582.4" stroke="#828282" stroke-width="9.6" stroke-linecap="round"/>
<rect x="702.5" y="1210.4" width="50" height="31" fill="#70B445"/>
<text x="727.5" y="1233.2" font-size="20" text-anchor="middle" fill="#000" fill-opacity="0.85" stroke="#000" stroke-opacity="0.6" stroke-width="0.3">1</text>
<rect x="763.1" y="1210.4" width="35" height="31" fill="#F0608C"/>
<text x="780.6" y="1233.2" font-size="20" text-anchor="middle" fill="#000" fill-opacity="0.85" stroke="#000" stroke-opacity="0.6" stroke-width="0.3">3</text>
<rect x="828.6" y="1210.4" width="119.9" height="31" fill="#82907C"/>
<text x="888.6" y="1233.2" font-size="20" text-anchor="middle" fill="#000" fill-opacity="0.85" stroke="#000" stroke-opacity="0.6" stroke-width="0.3">11</text>
<rect x="964.4" y="1210.4" width="33" height="31" fill="#5E4B94"/>
<text x="980.9" y="1233.2" font-size="20" text-anchor="middle" fill="#000" fill-opacity="0.85" stroke="#000" stroke-opacity="0.6" stroke-width="0.3">9</text>
<rect x="1049.0" y="1210.4" width="119.9" height="31" fill="#56C297"/>
<text x="1108.9" y="1233.2" font-size="20" text-anchor="middle" fill="#000" fill-opacity="0.85" stroke="#000" stroke-opacity="0.6" stroke-width="0.3">13</text>
<rect x="1172.7" y="1210.4" width="66.7" height="31" fill="#6D8528"/>
<text x="1206.1" y="1233.2" font-size="20" text-anchor="middle" fill="#000" fill-opacity="0.85" stroke="#000" stroke-opacity="0.6" stroke-width="0.3">18</text>
<rect x="1300.5" y="1210.4" width="33" height="31" fill="#DB6130"/>
<text x="1317.0" y="1233.2" font-size="20" text-anchor="middle" fill="#000" fill-opacity="0.85" stroke="#000" stroke-opacity="0.6" stroke-width="0.3">12</text>
<rect x="1356.4" y="1210.4" width="47.5" height="31" fill="#FDC70C"/>
<text x="1379.1" y="1233.2" font-size="20" text-anchor="middle" fill="#000" fill-opacity="0.85" stroke="#000" stroke-opacity="0.6" stroke-width="0.3">2</text>
<rect x="1404.9" y="1210.4" width="47.3" height="31" fill="#5C0000"/>
<text x="1428.5" y="1233.2" font-size="20" text-anchor="middle" fill="#000" fill-opacity="0.85" stroke="#000" stroke-opacity="0.6" stroke-width="0.3">17</text>
<rect x="1460.3" y="1210.4" width="118" height="31" fill="#FDB88E"/>
<text x="1518.8" y="1233.2" font-size="20" text-anchor="middle" fill="#000" fill-opacity="0.85" stroke="#000" stroke-opacity="0.6" stroke-width="0.3">10</text>
<path d="M600.0,1270.9H1737.2" stroke="#828282" stroke-width="9.6" stroke-linecap="round"/>
<rect x="828.6" y="1255.4" width="50" height="31" fill="#70B445"/>
<text x="853.6" y="1278.2" font-size="20" text-anchor="middle" fill="#000" fill-opacity="0.85" stroke="#000" stroke-opacity="0.6" stroke-width="0.3">1</text>
<rect x="889.1" y="1255.4" width="35" height="31" fill="#F0608C"/>
<text x="906.6" y="1278.2" font-size="20" text-anchor="middle" fill="#000" fill-opacity="0.85" stroke="#000" stroke-opacity="0.6" stroke-width="0.3">3</text>
<rect x="1097.5" y="1255.4" width="33" height="31" fill="#5E4B94"/>
<text x="1114.0" y="1278.2" font-size="20" text-anchor="middle" fill="#000" fill-opacity="0.85" stroke="#000" stroke-opacity="0.6" stroke-width="0.3">9</text>
<rect x="1210.5" y="1255.4" width="47.5" height="31" fill="#FDC70C"/>
<text x="1233.3" y="1278.2" font-size="20" text-anchor="middle" fill="#000" fill-opacity="0.85" stroke="#000" stroke-opacity="0.6" stroke-width="0.3">2</text>
<rect x="1385.1" y="1255.4" width="33" height="31" fill="#DB6130"/>
<text x="1401.6" y="1278.2" font-size="20" text-anchor="middle" fill="#000" fill-opacity="0.85" stroke="#000" stroke-opacity="0.6" stroke-width="0.3">12</text>
<rect x="1443.3" y="1255.4" width="45" height="31" fill="#FCA21A"/>
<text x="1464.2" y="1278.2" font-size="20" text-anchor="middle" fill="#000" fill-opacity="0.85" stroke="#000" stroke-opacity="0.6" stroke-width="0.3">8</text>
<rect x="1562.0" y="1255.4" width="47.5" height="31" fill="#FDC70C"/>
<text x="1584.7" y="1278.2" font-size="20" text-anchor="middle" fill="#000" fill-opacity="0.85" stroke="#000" stroke-opacity="0.6" stroke-width="0.3">2</text>
<path d="M600.0,1315.9H1569.6" stroke="#828282" stroke-width="9.6" stroke-linecap="round"/>
<rect x="644.4" y="1300.4" width="50" height="31" fill="#70B445"/>
<text x="669.4" y="1323.2" font-size="20" text-anchor="middle" fill="#000" fill-opacity="0.85" stroke="#000" stroke-opacity="0.6" stroke-width="0.3">1</text>
<rect x="705.3" y="1300.4" width="35" height="31" fill="#F0608C"/>
<text x="722.8" y="1323.2" font-size="20" text-anchor="middle" fill="#000" fill-opacity="0.85" stroke="#000" stroke-opacity="0.6" stroke-width="0.3">3</text>
<rect x="906.2" y="1300.4" width="33" height="31" fill="#5E4B94"/>
<text x="922.7" y="1323.2" font-size="20" text-anchor="middle" fill="#000" fill-opacity="0.85" stroke="#000" stroke-opacity="0.6" stroke-width="0.3">9</text>
<rect x="1051.7" y="1300.4" width="66.7" height="31" fill="#F290AC"/>
<text x="1085.0" y="1323.2" font-size="20" text-anchor="middle" fill="#000" fill-opacity="0.85" stroke="#000" stroke-opacity="0.6" stroke-width="0.3">14</text>
<rect x="1297.8" y="1300.4" width="64.8" height="31" fill="#00143F"/>
<text x="1330.2" y="1323.2" font-size="20" text-anchor="middle" fill="#000" fill-opacity="0.85" stroke="#000" stroke-opacity="0.6" stroke-width="0.3">19</text>
<path d="M600.0,1360.9H1540.9" stroke="#828282" stroke-width="9.6" stroke-linecap="round"/>
<rect x="644.4" y="1345.4" width="50" height="31" fill="#70B445"/>
<text x="669.4" y="1368.2" font-size="20" text-anchor="middle" fill="#000" fill-opacity="0.85" stroke="#000" stroke-opacity="0.6" stroke-width="0.3">1</text>
<rect x="705.3" y="1345.4" width="35" height="31" fill="#F0608C"/>
<text x="722.8" y="1368.2" font-size="20" text-anchor="middle" fill="#000" fill-opacity="0.85" stroke="#000" stroke-opacity="0.6" stroke-width="0.3">3</text>
<rect x="923.3" y="1345.4" width="33" height="31" fill="#5E4B94"/>
<text x="939.8" y="1368.2" font-size="20" text-anchor="middle" fill="#000" fill-opacity="0.85" stroke="#000" stroke-opacity="0.6" stroke-width="0.3">9</text>
<rect x="1266.4" y="1345.4" width="64.8" height="31" fill="#00143F"/>
<text x="1298.8" y="1368.2" font-size="20" text-anchor="middle" fill="#000" fill-opacity="0.85" stroke="#000" stroke-opacity="0.6" stroke-width="0.3">19</text>
<path d="M600.0,1405.9H1480.0" stroke="#828282" stroke-width="9.6" stroke-linecap="round"/>
<rect x="617.6" y="1390.4" width="50" height="31" fill="#70B445"/>
<text x="642.6" y="1413.2" font-size="20" text-anchor="middle" fill="#000" fill-opacity="0.85" stroke="#000" stroke-opacity="0.6" stroke-width="0.3">1</text>
<rect x="678.1" y="1390.4" width="35" height="31" fill="#F0608C"/>
<text x="695.6" y="1413.2" font-size="20" text-anchor="middle" fill="#000" fill-opacity="0.85" stroke="#000" stroke-opacity="0.6" stroke-width="0.3">3</text>
<rect x="813.9" y="1390.4" width="33" height="31" fill="#DB6130"/>
<text x="830.4" y="1413.2" font-size="20" text-anchor="middle" fill="#000" fill-opacity="0.85" stroke="#000" stroke-opacity="0.6" stroke-width="0.3">12</text>
<rect x="896.5" y="1390.4" width="33" height="31" fill="#5E4B94"/>
<text x="913.0" y="1413.2" font-size="20" text-anchor="middle" fill="#000" fill-opacity="0.85" stroke="#000" stroke-opacity="0.6" stroke-width="0.3">9</text>
<rect x="1022.2" y="1390.4" width="47.5" height="31" fill="#FDC70C"/>
<text x="1044.9" y="1413.2" font-size="20" text-anchor="middle" fill="#000" fill-opacity="0.85" stroke="#000" stroke-opacity="0.6" stroke-width="0.3">2</text>
<rect x="1382.8" y="1390.4" width="66.7" height="31" fill="#1375D6"/>
<text x="1416.1" y="1413.2" font-size="20" text-anchor="middle" fill="#000" fill-opacity="0.85" stroke="#000" stroke-opacity="0.6" stroke-width="0.3">15</text>
<path d="M600.0,1450.9H1513.7" stroke="#828282" stroke-width="9.6" stroke-linecap="round"/>
<rect x="661.4" y="1435.4" width="50" height="31" fill="#70B445"/>
<text x="686.4" y="1458.2" font-size="20" text-anchor="middle" fill="#000" fill-opacity="0.85" stroke="#000" stroke-opacity="0.6" stroke-width="0.3">1</text>
<rect x="721.9" y="1435.4" width="35" height="31" fill="#F0608C"/>
<text x="739.4" y="1458.2" font-size="20" text-anchor="middle" fill="#000" fill-opacity="0.85" stroke="#000" stroke-opacity="0.6" stroke-width="0.3">3</text>
<rect x="949.7" y="1435.4" width="33" height="31" fill="#5E4B94"/>
<text x="966.2" y="1458.2" font-size="20" text-anchor="middle" fill="#000" fill-opacity="0.85" stroke="#000" stroke-opacity="0.6" stroke-width="0.3">9</text>
<rect x="1010.2" y="1435.4" width="47.3" height="31" fill="#5C0000"/>
<text x="1033.8" y="1458.2" font-size="20" text-anchor="middle" fill="#000" fill-opacity="0.85" stroke="#000" stroke-opacity="0.6" stroke-width="0.3">17</text>
<rect x="1082.7" y="1435.4" width="47.5" height="31" fill="#FDC70C"/>
<text x="1105.5" y="1458.2" font-size="20" text-anchor="middle" fill="#000" fill-opacity="0.85" stroke="#000" stroke-opacity="0.6" stroke-width="0.3">2</text>
<rect x="1283.4" y="1435.4" width="64.8" height="31" fill="#00143F"/>
<text x="1315.8" y="1458.2" font-size="20" text-anchor="middle" fill="#000" fill-opacity="0.85" stroke="#000" stroke-opacity="0.6" stroke-width="0.3">19</text>
<rect x="1387.8" y="1435.4" width="33" height="31" fill="#DB6130"/>
<text x="1404.3" y="1458.2" font-size="20" text-anchor="middle" fill="#000" fill-opacity="0.85" stroke="#000" stroke-opacity="0.6" stroke-width="0.3">12</text>
<rect x="1423.9" y="1435.4" width="66.7" height="31" fill="#1375D6"/>
<text x="1457.2" y="1458.2" font-size="20" text-anchor="middle" fill="#000" fill-opacity="0.85" stroke="#000" stroke-opacity="0.6" stroke-width="0.3">15</text>
<path d="M600.0,1495.9H1501.7" stroke="#828282" stroke-width="9.6" stroke-linecap="round"/>
<rect x="654.1" y="1480.4" width="50" height="31" fill="#70B445"/>
<text x="679.1" y="1503.2" font-size="20" text-anchor="middle" fill="#000" fill-opacity="0.85" stroke="#000" stroke-opacity="0.6" stroke-width="0.3">1</text>
<rect x="714.6" y="1480.4" width="35" height="31" fill="#F0608C"/>
<text x="732.1" y="1503.2" font-size="20" text-anchor="middle" fill="#000" fill-opacity="0.85" stroke="#000" stroke-opacity="0.6" stroke-width="0.3">3</text>
<rect x="942.3" y="1480.4" width="33" height="31" fill="#5E4B94"/>
<text x="958.8" y="1503.2" font-size="20" text-anchor="middle" fill="#000" fill-opacity="0.85" stroke="#000" stroke-opacity="0.6" stroke-width="0.3">9</text>
<rect x="1073.0" y="1480.4" width="47.5" height="31" fill="#FDC70C"/>
<text x="1095.8" y="1503.2" font-size="20" text-anchor="middle" fill="#000" fill-opacity="0.85" stroke="#000" stroke-opacity="0.6" stroke-width="0.3">2</text>
<rect x="1382.8" y="1480.4" width="33" height="31" fill="#DB6130"/>
<text x="1399.3" y="1503.2" font-size="20" text-anchor="middle" fill="#000" fill-opacity="0.85" stroke="#000" stroke-opacity="0.6" stroke-width="0.3">12</text>
<rect x="1419.2" y="1480.4" width="66.7" height="31" fill="#1375D6"/>
<text x="1452.6" y="1503.2" font-size="20" text-anchor="middle" fill="#000" fill-opacity="0.85" stroke="#000" stroke-opacity="0.6" stroke-width="0.3">15</text>
</g>
<style>.b{fill:#0000cc}.g{fill:#008000}.m{fill:#ff00ff}.r{fill:#cc0000}.h{fill:#ffc4c4}.o{fill:#ffb300}.y{fill:#ffff00}.t{fill:#33e6cc}.lg text{font-size:20px;font-weight:bold}</style>
<g id="legend">
<rect x="175.2" y="1568.0" width="29.3" height="26.3" fill="#70B445"/>
<text x="216.0" y="1591.8" font-size="28" font-weight="normal" fill="#000" stroke="#000" stroke-width="0.5">Motif 1</text>
<path d="M56.0,1605.6V1684.3" stroke="#000" stroke-width="3"/>
<path d="M51.5,1683.3H56.0M51.5,1665.5H56.0M51.5,1647.8H56.0M51.5,1630.0H56.0M51.5,1612.3H56.0" stroke="#000" stroke-width="2"/>
<text font-size="4.5" font-weight="normal" fill="#555" text-anchor="middle" transform="translate(46.0,1644.9) rotate(-90)">bits</text>
<text font-size="4" font-weight="normal" fill="#555" text-anchor="end" x="50.5" y="1684.8">0</text>
<text font-size="4" font-weight="normal" fill="#555" text-anchor="end" x="50.5" y="1667.0">1</text>
<text font-size="4" font-weight="normal" fill="#555" text-anchor="end" x="50.5" y="1649.3">2</text>
<text font-size="4" font-weight="normal" fill="#555" text-anchor="end" x="50.5" y="1631.5">3</text>
<text font-size="4" font-weight="normal" fill="#555" text-anchor="end" x="50.5" y="1613.8">4</text>
<g class="lg">
<text class="b" transform="matrix(1.337 0 0 1.304 63.82 1662.15)">I</text>
<text class="b" transform="matrix(1.876 0 0 0.568 55.39 1670.83)">L</text>
<text class="g" transform="matrix(1.607 0 0 0.368 56.98 1675.97)">S</text>
<text class="b" transform="matrix(1.435 0 0 0.252 57.19 1679.52)">A</text>
<text class="r" transform="matrix(1.491 0 0 0.273 55.91 1683.28)">K</text>
<text class="y" transform="matrix(1.701 0 0 1.010 75.68 1666.78)">P</text>
<text class="b" transform="matrix(1.435 0 0 0.379 77.25 1672.57)">A</text>
<text class="g" transform="matrix(1.607 0 0 0.286 77.04 1676.56)">S</text>
<text class="m" transform="matrix(1.716 0 0 0.252 75.67 1680.09)">E</text>
<text class="g" transform="matrix(1.635 0 0 0.231 77.59 1683.28)">T</text>
<text class="o" transform="matrix(1.427 0 0 0.715 96.85 1667.22)">G</text>
<text class="g" transform="matrix(1.607 0 0 0.327 97.10 1672.50)">S</text>
<text class="b" transform="matrix(1.435 0 0 0.252 97.31 1676.04)">A</text>
<text class="m" transform="matrix(1.570 0 0 0.252 95.92 1679.52)">D</text>
<text class="g" transform="matrix(1.638 0 0 0.273 95.83 1683.28)">N</text>
<text class="b" transform="matrix(1.876 0 0 3.366 115.57 1668.81)">L</text>
<text class="b" transform="matrix(1.337 0 0 0.947 124.00 1682.70)">I</text>
<text class="y" transform="matrix(1.701 0 0 3.639 135.86 1672.57)">P</text>
<text class="o" transform="matrix(1.427 0 0 0.368 136.97 1678.86)">G</text>
<text class="b" transform="matrix(1.435 0 0 0.316 137.43 1683.28)">A</text>
<text class="m" transform="matrix(1.570 0 0 1.620 156.10 1670.83)">D</text>
<text class="o" transform="matrix(1.427 0 0 0.368 157.03 1676.55)">G</text>
<text class="g" transform="matrix(1.607 0 0 0.245 157.28 1680.05)">S</text>
<text class="m" transform="matrix(1.716 0 0 0.231 155.91 1683.28)">E</text>
<text class="m" transform="matrix(1.570 0 0 2.671 176.16 1668.81)">D</text>
<text class="m" transform="matrix(1.716 0 0 0.547 175.97 1677.20)">E</text>
<text class="g" transform="matrix(1.638 0 0 0.400 176.07 1683.28)">N</text>
<text class="b" transform="matrix(1.876 0 0 0.947 195.81 1652.89)">L</text>
<text class="b" transform="matrix(1.519 0 0 2.167 197.80 1682.70)">Y</text>
<text class="b" transform="matrix(1.473 0 0 0.470 217.17 1665.82)">C</text>
<text class="g" transform="matrix(1.635 0 0 0.358 218.01 1670.83)">T</text>
<text class="g" transform="matrix(1.607 0 0 0.327 217.46 1675.98)">S</text>
<text class="b" transform="matrix(1.435 0 0 0.252 217.67 1679.52)">A</text>
<text class="g" transform="matrix(1.638 0 0 0.273 216.19 1683.28)">N</text>
<text class="b" transform="matrix(1.876 0 0 0.589 235.93 1665.33)">L</text>
<text class="g" transform="matrix(1.635 0 0 0.631 238.07 1674.59)">T</text>
<text class="r" transform="matrix(1.491 0 0 0.316 236.45 1679.52)">K</text>
<text class="g" transform="matrix(1.607 0 0 0.266 237.52 1683.23)">S</text>
<text class="m" transform="matrix(1.716 0 0 0.484 256.21 1669.67)">E</text>
<text class="m" transform="matrix(1.716 0 0 0.379 256.21 1675.46)">E</text>
<text class="g" transform="matrix(1.607 0 0 0.245 257.58 1679.47)">S</text>
<text class="m" transform="matrix(1.570 0 0 0.273 256.40 1683.28)">D</text>
<text class="b" transform="matrix(1.473 0 0 2.351 277.35 1656.77)">C</text>
<text class="b" transform="matrix(1.337 0 0 1.746 284.48 1682.70)">I</text>
<text class="b" transform="matrix(1.876 0 0 4.312 296.11 1676.04)">L</text>
<text class="g" transform="matrix(1.635 0 0 0.463 298.25 1683.28)">T</text>
<text class="b" transform="matrix(1.435 0 0 1.262 317.97 1664.46)">A</text>
<text class="g" transform="matrix(1.607 0 0 0.491 317.76 1671.32)">S</text>
<text class="g" transform="matrix(1.635 0 0 0.379 318.31 1677.20)">T</text>
<text class="b" transform="matrix(1.337 0 0 0.252 324.60 1680.67)">I</text>
<text class="b" transform="matrix(1.473 0 0 0.184 317.47 1683.24)">C</text>
<text class="r" transform="matrix(1.517 0 0 2.356 336.71 1667.94)">R</text>
<text class="b" transform="matrix(1.876 0 0 0.421 336.23 1674.59)">L</text>
<text class="g" transform="matrix(1.607 0 0 0.307 337.82 1679.46)">S</text>
<text class="r" transform="matrix(1.491 0 0 0.273 336.75 1683.28)">K</text>
<text class="b" transform="matrix(1.474 0 0 1.304 358.60 1656.36)">V</text>
<text class="b" transform="matrix(1.876 0 0 1.346 356.29 1675.46)">L</text>
<text class="b" transform="matrix(1.435 0 0 0.294 358.09 1680.09)">A</text>
<text class="r" transform="matrix(1.491 0 0 0.231 356.81 1683.28)">K</text>
<text class="y" transform="matrix(1.701 0 0 3.576 376.58 1668.81)">P</text>
<text class="g" transform="matrix(1.607 0 0 0.756 377.94 1680.24)">S</text>
<text class="g" transform="matrix(1.635 0 0 0.189 378.49 1683.28)">T</text>
<text class="r" transform="matrix(1.517 0 0 0.736 396.89 1664.46)">R</text>
<text class="b" transform="matrix(1.474 0 0 0.463 398.72 1670.83)">V</text>
<text class="b" transform="matrix(1.435 0 0 0.316 398.21 1676.04)">A</text>
<text class="g" transform="matrix(1.607 0 0 0.245 398.00 1679.47)">S</text>
<text class="g" transform="matrix(1.635 0 0 0.273 398.55 1683.28)">T</text>
<text class="g" transform="matrix(1.607 0 0 0.450 418.06 1670.74)">S</text>
<text class="m" transform="matrix(1.716 0 0 0.294 416.69 1675.46)">E</text>
<text class="b" transform="matrix(1.435 0 0 0.252 418.27 1678.94)">A</text>
<text class="o" transform="matrix(1.427 0 0 0.307 417.81 1683.22)">G</text>
<text class="g" transform="matrix(1.607 0 0 0.470 438.12 1669.58)">S</text>
<text class="m" transform="matrix(1.716 0 0 0.337 436.75 1674.88)">E</text>
<text class="y" transform="matrix(1.701 0 0 0.294 436.76 1678.94)">P</text>
<text class="g" transform="matrix(1.386 0 0 0.243 437.90 1682.32)">Q</text>
<text class="b" transform="matrix(1.876 0 0 1.052 456.59 1657.23)">L</text>
<text class="h" transform="matrix(1.638 0 0 0.883 456.91 1670.83)">H</text>
<text class="t" transform="matrix(1.519 0 0 0.862 458.58 1682.70)">Y</text>
</g>
<g font-size="4.5" font-weight="normal" fill="#000" stroke="#000" stroke-width="0.25" text-anchor="end">
<text transform="translate(69.2,1685.5) rotate(-90)">1</text>
<text transform="translate(89.2,1685.5) rotate(-90)">2</text>
<text transform="translate(109.3,1685.5) rotate(-90)">3</text>
<text transform="translate(129.3,1685.5) rotate(-90)">4</text>
<text transform="translate(149.4,1685.5) rotate(-90)">5</text>
<text transform="translate(169.4,1685.5) rotate(-90)">6</text>
<text transform="translate(189.5,1685.5) rotate(-90)">7</text>
<text transform="translate(209.6,1685.5) rotate(-90)">8</text>
<text transform="translate(229.6,1685.5) rotate(-90)">9</text>
<text transform="translate(249.7,1685.5) rotate(-90)">10</text>
<text transform="translate(269.8,1685.5) rotate(-90)">11</text>
<text transform="translate(289.8,1685.5) rotate(-90)">12</text>
<text transform="translate(309.9,1685.5) rotate(-90)">13</text>
<text transform="translate(329.9,1685.5) rotate(-90)">14</text>
<text transform="translate(350.0,1685.5) rotate(-90)">15</text>
<text transform="translate(370.1,1685.5) rotate(-90)">16</text>
<text transform="translate(390.1,1685.5) rotate(-90)">17</text>
<text transform="translate(410.2,1685.5) rotate(-90)">18</text>
<text transform="translate(430.2,1685.5) rotate(-90)">19</text>
<text transform="translate(450.3,1685.5) rotate(-90)">20</text>
<text transform="translate(470.3,1685.5) rotate(-90)">21</text>
</g>
<rect x="819.0" y="1581.9" width="29.3" height="26.3" fill="#FDC70C"/>
<text x="857.1" y="1606.1" font-size="28" font-weight="normal" fill="#000" stroke="#000" stroke-width="0.5">Motif 2</text>
<path d="M716.9,1610.6V1691.3" stroke="#000" stroke-width="3"/>
<path d="M712.4,1690.3H716.9M712.4,1672.1H716.9M712.4,1653.9H716.9M712.4,1635.6H716.9M712.4,1617.4H716.9" stroke="#000" stroke-width="2"/>
<text font-size="4.5" font-weight="normal" fill="#555" text-anchor="middle" transform="translate(706.9,1650.9) rotate(-90)">bits</text>
<text font-size="4" font-weight="normal" fill="#555" text-anchor="end" x="711.4" y="1691.8">0</text>
<text font-size="4" font-weight="normal" fill="#555" text-anchor="end" x="711.4" y="1673.6">1</text>
<text font-size="4" font-weight="normal" fill="#555" text-anchor="end" x="711.4" y="1655.4">2</text>
<text font-size="4" font-weight="normal" fill="#555" text-anchor="end" x="711.4" y="1637.1">3</text>
<text font-size="4" font-weight="normal" fill="#555" text-anchor="end" x="711.4" y="1618.9">4</text>
<g class="lg">
<text class="b" transform="matrix(1.868 0 0 1.367 716.90 1672.36)">L</text>
<text class="g" transform="matrix(1.628 0 0 0.484 719.03 1679.59)">T</text>
<text class="g" transform="matrix(1.600 0 0 0.307 718.48 1683.88)">S</text>
<text class="m" transform="matrix(1.563 0 0 0.231 717.31 1687.70)">D</text>
<text class="y" transform="matrix(1.694 0 0 0.189 717.13 1690.30)">P</text>
<text class="g" transform="matrix(1.628 0 0 0.736 739.00 1669.46)">T</text>
<text class="g" transform="matrix(1.600 0 0 0.347 738.45 1675.76)">S</text>
<text class="m" transform="matrix(1.709 0 0 0.337 737.08 1680.46)">E</text>
<text class="r" transform="matrix(1.510 0 0 0.316 737.35 1685.38)">R</text>
<text class="y" transform="matrix(1.694 0 0 0.316 737.10 1690.30)">P</text>
<text class="g" transform="matrix(1.600 0 0 0.552 758.42 1673.70)">S</text>
<text class="g" transform="matrix(1.380 0 0 0.323 758.21 1678.32)">Q</text>
<text class="m" transform="matrix(1.709 0 0 0.273 757.05 1683.94)">E</text>
<text class="r" transform="matrix(1.484 0 0 0.252 757.35 1687.41)">K</text>
<text class="b" transform="matrix(1.429 0 0 0.210 758.63 1690.30)">A</text>
<text class="b" transform="matrix(1.429 0 0 1.725 778.60 1675.83)">A</text>
<text class="g" transform="matrix(1.600 0 0 0.307 778.39 1680.98)">S</text>
<text class="b" transform="matrix(1.331 0 0 0.273 785.20 1685.38)">I</text>
<text class="g" transform="matrix(1.628 0 0 0.316 778.94 1690.30)">T</text>
<text class="m" transform="matrix(1.709 0 0 1.472 796.99 1672.36)">E</text>
<text class="b" transform="matrix(1.868 0 0 0.316 796.78 1678.15)">L</text>
<text class="o" transform="matrix(1.420 0 0 0.266 798.11 1682.44)">G</text>
<text class="r" transform="matrix(1.484 0 0 0.273 797.29 1686.83)">K</text>
<text class="g" transform="matrix(1.600 0 0 0.245 798.36 1690.26)">S</text>
<text class="b" transform="matrix(1.512 0 0 1.367 818.73 1672.36)">Y</text>
<text class="b" transform="matrix(1.467 0 0 0.252 819.05 1676.41)">V</text>
<text class="m" transform="matrix(1.709 0 0 0.379 816.96 1681.62)">E</text>
<text class="b" transform="matrix(1.429 0 0 0.294 818.54 1686.25)">A</text>
<text class="g" transform="matrix(1.600 0 0 0.245 818.33 1690.26)">S</text>
<text class="t" transform="matrix(1.512 0 0 2.251 838.70 1668.02)">Y</text>
<text class="b" transform="matrix(1.889 0 0 0.883 836.69 1681.62)">F</text>
<text class="b" transform="matrix(1.018 0 0 0.337 839.20 1686.83)">W</text>
<text class="g" transform="matrix(1.600 0 0 0.245 838.30 1690.26)">S</text>
<text class="m" transform="matrix(1.563 0 0 3.618 857.10 1678.73)">D</text>
<text class="g" transform="matrix(1.600 0 0 0.409 858.27 1685.30)">S</text>
<text class="m" transform="matrix(1.709 0 0 0.316 856.90 1690.30)">E</text>
<text class="y" transform="matrix(1.694 0 0 1.515 876.89 1667.15)">P</text>
<text class="b" transform="matrix(1.868 0 0 1.115 876.66 1682.49)">L</text>
<text class="t" transform="matrix(1.512 0 0 0.273 878.64 1686.83)">Y</text>
<text class="g" transform="matrix(1.628 0 0 0.252 878.79 1690.30)">T</text>
<text class="y" transform="matrix(1.694 0 0 0.358 896.86 1675.83)">P</text>
<text class="r" transform="matrix(1.510 0 0 0.337 897.11 1681.04)">R</text>
<text class="b" transform="matrix(1.868 0 0 0.294 896.63 1685.67)">L</text>
<text class="g" transform="matrix(1.600 0 0 0.286 898.21 1690.25)">S</text>
<text class="g" transform="matrix(1.600 0 0 0.409 918.18 1670.83)">S</text>
<text class="y" transform="matrix(1.694 0 0 0.316 916.83 1675.83)">P</text>
<text class="r" transform="matrix(1.510 0 0 0.337 917.08 1681.04)">R</text>
<text class="r" transform="matrix(1.484 0 0 0.316 917.11 1685.38)">K</text>
<text class="m" transform="matrix(1.709 0 0 0.316 916.81 1690.30)">E</text>
<text class="m" transform="matrix(1.563 0 0 0.841 936.98 1665.12)">D</text>
<text class="o" transform="matrix(1.420 0 0 0.450 937.90 1672.27)">G</text>
<text class="r" transform="matrix(1.510 0 0 0.379 937.05 1678.15)">R</text>
<text class="g" transform="matrix(1.631 0 0 0.484 936.89 1685.38)">N</text>
<text class="b" transform="matrix(1.429 0 0 0.316 938.36 1690.30)">A</text>
<text class="g" transform="matrix(1.628 0 0 0.463 958.67 1672.36)">T</text>
<text class="r" transform="matrix(1.484 0 0 0.337 957.05 1677.57)">K</text>
<text class="r" transform="matrix(1.510 0 0 0.316 957.02 1682.49)">R</text>
<text class="g" transform="matrix(1.631 0 0 0.316 956.86 1686.83)">N</text>
<text class="g" transform="matrix(1.600 0 0 0.245 958.12 1690.26)">S</text>
<text class="b" transform="matrix(1.018 0 0 5.679 978.99 1689.73)">W</text>
<text class="g" transform="matrix(1.512 0 0 0.358 998.46 1672.94)">Y</text>
<text class="r" transform="matrix(1.484 0 0 0.337 996.99 1678.15)">K</text>
<text class="r" transform="matrix(1.510 0 0 0.294 996.96 1682.20)">R</text>
<text class="m" transform="matrix(1.563 0 0 0.252 996.89 1686.25)">D</text>
<text class="b" transform="matrix(1.868 0 0 0.252 996.48 1690.30)">L</text>
<text class="r" transform="matrix(1.484 0 0 0.358 1016.96 1675.83)">K</text>
<text class="m" transform="matrix(1.709 0 0 0.294 1016.66 1679.88)">E</text>
<text class="g" transform="matrix(1.631 0 0 0.252 1016.77 1683.94)">N</text>
<text class="r" transform="matrix(1.510 0 0 0.210 1016.93 1687.41)">R</text>
<text class="g" transform="matrix(1.600 0 0 0.204 1018.03 1690.26)">S</text>
<text class="b" transform="matrix(1.331 0 0 2.040 1044.81 1673.81)">I</text>
<text class="b" transform="matrix(1.467 0 0 0.358 1038.72 1679.59)">V</text>
<text class="r" transform="matrix(1.484 0 0 0.273 1036.93 1683.94)">K</text>
<text class="g" transform="matrix(1.600 0 0 0.204 1038.00 1687.37)">S</text>
<text class="b" transform="matrix(1.429 0 0 0.210 1038.21 1690.30)">A</text>
<text class="y" transform="matrix(1.694 0 0 0.841 1056.62 1670.91)">P</text>
<text class="b" transform="matrix(1.429 0 0 0.379 1058.18 1676.70)">A</text>
<text class="o" transform="matrix(1.420 0 0 0.266 1057.72 1680.99)">G</text>
<text class="m" transform="matrix(1.709 0 0 0.294 1056.60 1685.67)">E</text>
<text class="m" transform="matrix(1.563 0 0 0.294 1056.80 1690.30)">D</text>
<text class="y" transform="matrix(1.694 0 0 0.358 1076.59 1672.94)">P</text>
<text class="r" transform="matrix(1.510 0 0 0.337 1076.84 1677.57)">R</text>
<text class="m" transform="matrix(1.709 0 0 0.294 1076.57 1682.20)">E</text>
<text class="r" transform="matrix(1.484 0 0 0.252 1076.87 1686.25)">K</text>
<text class="g" transform="matrix(1.600 0 0 0.245 1077.94 1690.26)">S</text>
<text class="b" transform="matrix(1.371 0 0 1.472 1097.00 1672.36)">M</text>
<text class="b" transform="matrix(1.331 0 0 0.337 1104.72 1677.57)">I</text>
<text class="b" transform="matrix(1.868 0 0 0.252 1096.33 1681.62)">L</text>
<text class="b" transform="matrix(1.467 0 0 0.294 1098.63 1686.25)">V</text>
<text class="b" transform="matrix(1.889 0 0 0.252 1096.30 1690.30)">F</text>
</g>
<g font-size="4.5" font-weight="normal" fill="#000" stroke="#000" stroke-width="0.25" text-anchor="end">
<text transform="translate(730.6,1692.5) rotate(-90)">1</text>
<text transform="translate(750.6,1692.5) rotate(-90)">2</text>
<text transform="translate(770.5,1692.5) rotate(-90)">3</text>
<text transform="translate(790.5,1692.5) rotate(-90)">4</text>
<text transform="translate(810.5,1692.5) rotate(-90)">5</text>
<text transform="translate(830.5,1692.5) rotate(-90)">6</text>
<text transform="translate(850.4,1692.5) rotate(-90)">7</text>
<text transform="translate(870.4,1692.5) rotate(-90)">8</text>
<text transform="translate(890.4,1692.5) rotate(-90)">9</text>
<text transform="translate(910.3,1692.5) rotate(-90)">10</text>
<text transform="translate(930.3,1692.5) rotate(-90)">11</text>
<text transform="translate(950.3,1692.5) rotate(-90)">12</text>
<text transform="translate(970.2,1692.5) rotate(-90)">13</text>
<text transform="translate(990.2,1692.5) rotate(-90)">14</text>
<text transform="translate(1010.2,1692.5) rotate(-90)">15</text>
<text transform="translate(1030.2,1692.5) rotate(-90)">16</text>
<text transform="translate(1050.1,1692.5) rotate(-90)">17</text>
<text transform="translate(1070.1,1692.5) rotate(-90)">18</text>
<text transform="translate(1090.1,1692.5) rotate(-90)">19</text>
<text transform="translate(1110.0,1692.5) rotate(-90)">20</text>
</g>
<rect x="1390.4" y="1581.9" width="29.3" height="26.3" fill="#F0608C"/>
<text x="1433.7" y="1605.5" font-size="28" font-weight="normal" fill="#000" stroke="#000" stroke-width="0.5">Motif 3</text>
<path d="M1311.7,1612.0V1693.0" stroke="#000" stroke-width="3"/>
<path d="M1307.2,1692.0H1311.7M1307.2,1673.7H1311.7M1307.2,1655.4H1311.7M1307.2,1637.1H1311.7M1307.2,1618.9H1311.7" stroke="#000" stroke-width="2"/>
<text font-size="4.5" font-weight="normal" fill="#555" text-anchor="middle" transform="translate(1301.7,1652.5) rotate(-90)">bits</text>
<text font-size="4" font-weight="normal" fill="#555" text-anchor="end" x="1306.2" y="1693.5">0</text>
<text font-size="4" font-weight="normal" fill="#555" text-anchor="end" x="1306.2" y="1675.2">1</text>
<text font-size="4" font-weight="normal" fill="#555" text-anchor="end" x="1306.2" y="1656.9">2</text>
<text font-size="4" font-weight="normal" fill="#555" text-anchor="end" x="1306.2" y="1638.6">3</text>
<text font-size="4" font-weight="normal" fill="#555" text-anchor="end" x="1306.2" y="1620.4">4</text>
<g class="lg">
<text class="b" transform="matrix(1.466 0 0 0.613 1312.40 1670.79)">C</text>
<text class="g" transform="matrix(1.600 0 0 0.450 1312.68 1678.06)">S</text>
<text class="b" transform="matrix(1.868 0 0 0.484 1311.10 1686.25)">L</text>
<text class="m" transform="matrix(1.631 0 0 0.421 1311.42 1692.04)">N</text>
<text class="b" transform="matrix(1.467 0 0 3.681 1333.37 1686.83)">V</text>
<text class="g" transform="matrix(1.628 0 0 0.337 1333.20 1692.04)">T</text>
<text class="b" transform="matrix(1.466 0 0 1.533 1352.34 1664.82)">C</text>
<text class="g" transform="matrix(1.600 0 0 1.022 1352.62 1681.42)">S</text>
<text class="g" transform="matrix(1.631 0 0 0.694 1351.36 1692.04)">N</text>
<text class="r" transform="matrix(1.484 0 0 1.515 1371.52 1667.15)">K</text>
<text class="r" transform="matrix(1.510 0 0 1.052 1371.49 1682.49)">R</text>
<text class="b" transform="matrix(1.380 0 0 0.259 1372.38 1686.68)">Q</text>
<text class="g" transform="matrix(1.600 0 0 0.286 1372.59 1691.98)">S</text>
<text class="r" transform="matrix(1.510 0 0 1.367 1391.46 1665.12)">R</text>
<text class="g" transform="matrix(1.600 0 0 1.124 1392.56 1682.27)">S</text>
<text class="o" transform="matrix(1.420 0 0 0.286 1392.31 1687.35)">G</text>
<text class="y" transform="matrix(1.694 0 0 0.316 1391.21 1692.04)">P</text>
<text class="b" transform="matrix(1.018 0 0 3.366 1413.43 1686.83)">W</text>
<text class="b" transform="matrix(1.868 0 0 0.337 1410.95 1692.04)">L</text>
<text class="r" transform="matrix(1.510 0 0 1.052 1431.40 1673.81)">R</text>
<text class="g" transform="matrix(1.631 0 0 0.526 1431.24 1681.04)">N</text>
<text class="g" transform="matrix(1.600 0 0 0.368 1432.50 1686.76)">S</text>
<text class="b" transform="matrix(1.429 0 0 0.337 1432.71 1692.04)">A</text>
<text class="g" transform="matrix(1.709 0 0 0.421 1451.10 1680.46)">E</text>
<text class="m" transform="matrix(1.600 0 0 0.307 1452.47 1685.32)">S</text>
<text class="g" transform="matrix(1.628 0 0 0.252 1453.02 1689.15)">T</text>
<text class="b" transform="matrix(1.429 0 0 0.210 1452.68 1692.04)">A</text>
<text class="b" transform="matrix(1.868 0 0 1.893 1470.86 1672.36)">L</text>
<text class="g" transform="matrix(1.628 0 0 0.631 1472.99 1682.49)">T</text>
<text class="b" transform="matrix(1.429 0 0 0.273 1472.65 1686.83)">A</text>
<text class="g" transform="matrix(1.600 0 0 0.327 1472.44 1691.98)">S</text>
<text class="b" transform="matrix(1.512 0 0 1.683 1492.81 1678.15)">Y</text>
<text class="b" transform="matrix(1.868 0 0 0.379 1490.83 1683.94)">L</text>
<text class="g" transform="matrix(1.628 0 0 0.273 1492.96 1688.28)">T</text>
<text class="g" transform="matrix(1.600 0 0 0.245 1492.41 1691.99)">S</text>
<text class="g" transform="matrix(1.420 0 0 0.347 1512.13 1673.74)">G</text>
<text class="r" transform="matrix(1.510 0 0 0.526 1511.28 1681.04)">R</text>
<text class="g" transform="matrix(1.600 0 0 0.286 1512.38 1685.62)">S</text>
<text class="b" transform="matrix(1.429 0 0 0.252 1512.59 1689.73)">A</text>
<text class="g" transform="matrix(1.600 0 0 3.066 1532.35 1680.44)">S</text>
<text class="m" transform="matrix(1.709 0 0 0.316 1530.98 1686.83)">E</text>
<text class="b" transform="matrix(1.429 0 0 0.337 1532.56 1692.04)">A</text>
<text class="y" transform="matrix(1.694 0 0 0.358 1550.97 1673.81)">P</text>
<text class="r" transform="matrix(1.484 0 0 0.273 1551.25 1677.57)">K</text>
<text class="o" transform="matrix(1.420 0 0 0.307 1552.07 1682.43)">G</text>
<text class="g" transform="matrix(1.600 0 0 0.245 1552.32 1686.78)">S</text>
<text class="m" transform="matrix(1.563 0 0 0.337 1551.15 1692.04)">D</text>
<text class="m" transform="matrix(1.709 0 0 0.736 1570.92 1678.15)">E</text>
<text class="g" transform="matrix(1.628 0 0 0.337 1572.84 1683.36)">T</text>
<text class="b" transform="matrix(1.429 0 0 0.210 1572.50 1686.83)">A</text>
<text class="g" transform="matrix(1.600 0 0 0.327 1572.29 1691.98)">S</text>
<text class="b" transform="matrix(1.889 0 0 2.524 1590.65 1682.49)">F</text>
<text class="r" transform="matrix(1.510 0 0 0.252 1591.16 1686.83)">R</text>
<text class="g" transform="matrix(1.628 0 0 0.337 1592.81 1692.04)">T</text>
</g>
<g font-size="4.5" font-weight="normal" fill="#000" stroke="#000" stroke-width="0.25" text-anchor="end">
<text transform="translate(1324.8,1694.2) rotate(-90)">1</text>
<text transform="translate(1344.8,1694.2) rotate(-90)">2</text>
<text transform="translate(1364.7,1694.2) rotate(-90)">3</text>
<text transform="translate(1384.7,1694.2) rotate(-90)">4</text>
<text transform="translate(1404.7,1694.2) rotate(-90)">5</text>
<text transform="translate(1424.7,1694.2) rotate(-90)">6</text>
<text transform="translate(1444.6,1694.2) rotate(-90)">7</text>
<text transform="translate(1464.6,1694.2) rotate(-90)">8</text>
<text transform="translate(1484.6,1694.2) rotate(-90)">9</text>
<text transform="translate(1504.5,1694.2) rotate(-90)">10</text>
<text transform="translate(1524.5,1694.2) rotate(-90)">11</text>
<text transform="translate(1544.5,1694.2) rotate(-90)">12</text>
<text transform="translate(1564.4,1694.2) rotate(-90)">13</text>
<text transform="translate(1584.4,1694.2) rotate(-90)">14</text>
<text transform="translate(1604.4,1694.2) rotate(-90)">15</text>
</g>
<rect x="173.5" y="1732.7" width="29.3" height="26.3" fill="#0F8A80"/>
<text x="217.0" y="1758.0" font-size="28" font-weight="normal" fill="#000" stroke="#000" stroke-width="0.5">Motif 4</text>
<path d="M53.9,1774.5V1854.8" stroke="#000" stroke-width="3"/>
<path d="M49.4,1853.8H53.9M49.4,1835.7H53.9M49.4,1817.5H53.9M49.4,1799.4H53.9M49.4,1781.3H53.9" stroke="#000" stroke-width="2"/>
<text font-size="4.5" font-weight="normal" fill="#555" text-anchor="middle" transform="translate(43.9,1814.7) rotate(-90)">bits</text>
<text font-size="4" font-weight="normal" fill="#555" text-anchor="end" x="48.4" y="1855.3">0</text>
<text font-size="4" font-weight="normal" fill="#555" text-anchor="end" x="48.4" y="1837.2">1</text>
<text font-size="4" font-weight="normal" fill="#555" text-anchor="end" x="48.4" y="1819.0">2</text>
<text font-size="4" font-weight="normal" fill="#555" text-anchor="end" x="48.4" y="1800.9">3</text>
<text font-size="4" font-weight="normal" fill="#555" text-anchor="end" x="48.4" y="1782.8">4</text>
<g class="lg">
<text class="t" transform="matrix(0.846 0 0 5.688 55.33 1853.76)">Y</text>
<text class="m" transform="matrix(0.956 0 0 2.081 65.51 1830.85)">E</text>
<text class="r" transform="matrix(0.845 0 0 0.763 65.66 1842.30)">R</text>
<text class="r" transform="matrix(0.830 0 0 0.791 65.68 1853.76)">K</text>
<text class="b" transform="matrix(1.045 0 0 5.688 76.57 1853.76)">L</text>
<text class="r" transform="matrix(0.845 0 0 5.688 88.00 1853.76)">R</text>
<text class="r" transform="matrix(0.845 0 0 5.688 99.17 1853.76)">R</text>
<text class="g" transform="matrix(0.772 0 0 2.666 110.84 1828.00)">Q</text>
<text class="r" transform="matrix(0.830 0 0 1.040 110.36 1853.76)">K</text>
<text class="g" transform="matrix(0.912 0 0 1.942 121.42 1822.26)">N</text>
<text class="b" transform="matrix(1.045 0 0 2.220 121.25 1853.76)">L</text>
<text class="o" transform="matrix(0.795 0 0 3.370 133.16 1837.83)">G</text>
<text class="r" transform="matrix(0.830 0 0 1.040 132.70 1853.76)">K</text>
<text class="b" transform="matrix(0.821 0 0 4.370 144.87 1853.76)">V</text>
<text class="b" transform="matrix(0.821 0 0 5.688 156.04 1853.76)">V</text>
<text class="m" transform="matrix(0.956 0 0 5.688 166.04 1853.76)">E</text>
<text class="h" transform="matrix(0.912 0 0 5.688 177.27 1853.76)">H</text>
<text class="b" transform="matrix(0.569 0 0 5.688 189.65 1853.76)">W</text>
<text class="b" transform="matrix(0.821 0 0 5.688 200.72 1853.76)">V</text>
<text class="t" transform="matrix(0.846 0 0 5.688 211.71 1853.76)">Y</text>
<text class="b" transform="matrix(0.767 0 0 2.497 222.15 1837.53)">M</text>
<text class="b" transform="matrix(1.057 0 0 1.110 221.76 1853.76)">F</text>
<text class="b" transform="matrix(0.821 0 0 2.081 234.23 1822.26)">V</text>
<text class="g" transform="matrix(0.895 0 0 2.157 233.83 1853.34)">S</text>
<text class="b" transform="matrix(0.820 0 0 5.527 244.84 1852.68)">C</text>
<text class="g" transform="matrix(0.772 0 0 1.599 256.05 1815.97)">Q</text>
<text class="m" transform="matrix(0.874 0 0 2.220 255.51 1853.76)">D</text>
<text class="y" transform="matrix(0.947 0 0 1.942 266.59 1820.35)">P</text>
<text class="b" transform="matrix(1.045 0 0 2.358 266.46 1853.76)">L</text>
<text class="r" transform="matrix(0.845 0 0 2.081 277.89 1822.26)">R</text>
<text class="b" transform="matrix(1.045 0 0 2.220 277.63 1853.76)">L</text>
<text class="o" transform="matrix(0.795 0 0 2.022 289.54 1821.87)">G</text>
<text class="m" transform="matrix(0.956 0 0 2.220 288.91 1853.76)">E</text>
<text class="b" transform="matrix(0.569 0 0 5.688 301.35 1853.76)">W</text>
<text class="m" transform="matrix(0.956 0 0 5.688 311.25 1853.76)">E</text>
<text class="b" transform="matrix(0.799 0 0 5.688 323.31 1853.76)">A</text>
<text class="b" transform="matrix(1.057 0 0 5.688 333.46 1853.76)">F</text>
<text class="m" transform="matrix(0.874 0 0 5.688 344.87 1853.76)">D</text>
<text class="y" transform="matrix(0.947 0 0 5.688 355.95 1853.76)">P</text>
<text class="b" transform="matrix(1.057 0 0 1.803 366.97 1826.08)">F</text>
<text class="g" transform="matrix(0.912 0 0 1.040 367.16 1841.35)">N</text>
<text class="b" transform="matrix(0.744 0 0 0.832 371.68 1853.76)">I</text>
<text class="r" transform="matrix(0.845 0 0 5.688 378.42 1853.76)">R</text>
<text class="r" transform="matrix(0.845 0 0 1.665 389.59 1827.99)">R</text>
<text class="g" transform="matrix(0.912 0 0 0.902 389.50 1841.35)">N</text>
<text class="m" transform="matrix(0.874 0 0 0.832 389.55 1853.76)">D</text>
<text class="r" transform="matrix(0.845 0 0 2.497 400.76 1827.99)">R</text>
<text class="r" transform="matrix(0.830 0 0 1.803 400.78 1853.76)">K</text>
<text class="b" transform="matrix(0.569 0 0 5.688 413.05 1853.76)">W</text>
<text class="b" transform="matrix(0.767 0 0 5.688 423.21 1853.76)">M</text>
<text class="r" transform="matrix(0.845 0 0 3.468 434.27 1837.53)">R</text>
<text class="h" transform="matrix(0.912 0 0 1.110 434.18 1853.76)">H</text>
<text class="b" transform="matrix(1.045 0 0 5.688 445.18 1853.76)">L</text>
<text class="y" transform="matrix(0.947 0 0 5.688 456.48 1853.76)">P</text>
<text class="r" transform="matrix(0.845 0 0 2.358 467.78 1826.08)">R</text>
<text class="r" transform="matrix(0.830 0 0 1.942 467.80 1853.76)">K</text>
<text class="b" transform="matrix(0.767 0 0 2.220 479.06 1824.17)">M</text>
<text class="b" transform="matrix(0.744 0 0 2.081 483.38 1853.76)">I</text>
<text class="y" transform="matrix(0.947 0 0 1.942 489.99 1827.99)">P</text>
<text class="t" transform="matrix(0.846 0 0 0.832 490.96 1840.40)">Y</text>
<text class="m" transform="matrix(0.874 0 0 0.902 490.08 1853.76)">D</text>
<text class="b" transform="matrix(0.820 0 0 1.752 501.75 1825.74)">C</text>
<text class="g" transform="matrix(0.895 0 0 1.011 501.91 1841.15)">S</text>
<text class="y" transform="matrix(0.947 0 0 0.832 501.16 1853.76)">P</text>
<text class="g" transform="matrix(0.912 0 0 2.081 512.37 1822.26)">N</text>
<text class="m" transform="matrix(0.874 0 0 2.220 512.42 1853.76)">D</text>
<text class="m" transform="matrix(0.874 0 0 5.688 523.59 1853.76)">D</text>
<text class="b" transform="matrix(0.820 0 0 3.505 535.26 1838.76)">C</text>
<text class="g" transform="matrix(0.895 0 0 0.944 535.42 1853.57)">S</text>
<text class="b" transform="matrix(1.057 0 0 3.399 545.69 1822.26)">F</text>
<text class="b" transform="matrix(0.744 0 0 2.220 550.40 1853.76)">I</text>
<text class="b" transform="matrix(0.821 0 0 2.081 558.16 1822.26)">V</text>
<text class="g" transform="matrix(0.912 0 0 2.220 557.05 1853.76)">N</text>
<text class="b" transform="matrix(1.057 0 0 1.665 568.03 1827.99)">F</text>
<text class="t" transform="matrix(0.846 0 0 0.694 569.15 1838.49)">Y</text>
<text class="b" transform="matrix(0.820 0 0 1.011 568.77 1853.56)">C</text>
<text class="b" transform="matrix(0.799 0 0 5.688 580.22 1853.76)">A</text>
<text class="m" transform="matrix(0.874 0 0 5.688 590.61 1853.76)">D</text>
<text class="r" transform="matrix(0.830 0 0 5.688 601.84 1853.76)">K</text>
</g>
<g font-size="3.9" font-weight="normal" fill="#000" stroke="#000" stroke-width="0.25" text-anchor="end">
<text transform="translate(62.4,1856.0) rotate(-90)">1</text>
<text transform="translate(73.6,1856.0) rotate(-90)">2</text>
<text transform="translate(84.7,1856.0) rotate(-90)">3</text>
<text transform="translate(95.9,1856.0) rotate(-90)">4</text>
<text transform="translate(107.1,1856.0) rotate(-90)">5</text>
<text transform="translate(118.2,1856.0) rotate(-90)">6</text>
<text transform="translate(129.4,1856.0) rotate(-90)">7</text>
<text transform="translate(140.6,1856.0) rotate(-90)">8</text>
<text transform="translate(151.7,1856.0) rotate(-90)">9</text>
<text transform="translate(162.9,1856.0) rotate(-90)">10</text>
<text transform="translate(174.1,1856.0) rotate(-90)">11</text>
<text transform="translate(185.3,1856.0) rotate(-90)">12</text>
<text transform="translate(196.4,1856.0) rotate(-90)">13</text>
<text transform="translate(207.6,1856.0) rotate(-90)">14</text>
<text transform="translate(218.8,1856.0) rotate(-90)">15</text>
<text transform="translate(229.9,1856.0) rotate(-90)">16</text>
<text transform="translate(241.1,1856.0) rotate(-90)">17</text>
<text transform="translate(252.3,1856.0) rotate(-90)">18</text>
<text transform="translate(263.4,1856.0) rotate(-90)">19</text>
<text transform="translate(274.6,1856.0) rotate(-90)">20</text>
<text transform="translate(285.8,1856.0) rotate(-90)">21</text>
<text transform="translate(297.0,1856.0) rotate(-90)">22</text>
<text transform="translate(308.1,1856.0) rotate(-90)">23</text>
<text transform="translate(319.3,1856.0) rotate(-90)">24</text>
<text transform="translate(330.5,1856.0) rotate(-90)">25</text>
<text transform="translate(341.6,1856.0) rotate(-90)">26</text>
<text transform="translate(352.8,1856.0) rotate(-90)">27</text>
<text transform="translate(364.0,1856.0) rotate(-90)">28</text>
<text transform="translate(375.1,1856.0) rotate(-90)">29</text>
<text transform="translate(386.3,1856.0) rotate(-90)">30</text>
<text transform="translate(397.5,1856.0) rotate(-90)">31</text>
<text transform="translate(408.7,1856.0) rotate(-90)">32</text>
<text transform="translate(419.8,1856.0) rotate(-90)">33</text>
<text transform="translate(431.0,1856.0) rotate(-90)">34</text>
<text transform="translate(442.2,1856.0) rotate(-90)">35</text>
<text transform="translate(453.3,1856.0) rotate(-90)">36</text>
<text transform="translate(464.5,1856.0) rotate(-90)">37</text>
<text transform="translate(475.7,1856.0) rotate(-90)">38</text>
<text transform="translate(486.8,1856.0) rotate(-90)">39</text>
<text transform="translate(498.0,1856.0) rotate(-90)">40</text>
<text transform="translate(509.2,1856.0) rotate(-90)">41</text>
<text transform="translate(520.4,1856.0) rotate(-90)">42</text>
<text transform="translate(531.5,1856.0) rotate(-90)">43</text>
<text transform="translate(542.7,1856.0) rotate(-90)">44</text>
<text transform="translate(553.9,1856.0) rotate(-90)">45</text>
<text transform="translate(565.0,1856.0) rotate(-90)">46</text>
<text transform="translate(576.2,1856.0) rotate(-90)">47</text>
<text transform="translate(587.4,1856.0) rotate(-90)">48</text>
<text transform="translate(598.5,1856.0) rotate(-90)">49</text>
<text transform="translate(609.7,1856.0) rotate(-90)">50</text>
</g>
<rect x="823.0" y="1732.7" width="29.3" height="26.3" fill="#F80D25"/>
<text x="868.1" y="1758.0" font-size="28" font-weight="normal" fill="#000" stroke="#000" stroke-width="0.5">Motif 5</text>
<path d="M718.0,1775.6V1855.7" stroke="#000" stroke-width="3"/>
<path d="M713.5,1854.7H718.0M713.5,1836.6H718.0M713.5,1818.5H718.0M713.5,1800.5H718.0M713.5,1782.4H718.0" stroke="#000" stroke-width="2"/>
<text font-size="4.5" font-weight="normal" fill="#555" text-anchor="middle" transform="translate(708.0,1815.7) rotate(-90)">bits</text>
<text font-size="4" font-weight="normal" fill="#555" text-anchor="end" x="712.5" y="1856.2">0</text>
<text font-size="4" font-weight="normal" fill="#555" text-anchor="end" x="712.5" y="1838.1">1</text>
<text font-size="4" font-weight="normal" fill="#555" text-anchor="end" x="712.5" y="1820.0">2</text>
<text font-size="4" font-weight="normal" fill="#555" text-anchor="end" x="712.5" y="1802.0">3</text>
<text font-size="4" font-weight="normal" fill="#555" text-anchor="end" x="712.5" y="1783.9">4</text>
<g class="lg">
<text class="y" transform="matrix(1.694 0 0 1.641 718.53 1830.99)">P</text>
<text class="b" transform="matrix(1.429 0 0 0.947 720.09 1846.04)">A</text>
<text class="g" transform="matrix(1.600 0 0 0.286 719.88 1850.62)">S</text>
<text class="r" transform="matrix(1.484 0 0 0.294 718.81 1854.73)">K</text>
<text class="r" transform="matrix(1.510 0 0 5.679 738.75 1854.73)">R</text>
<text class="b" transform="matrix(1.466 0 0 1.022 759.54 1834.26)">C</text>
<text class="g" transform="matrix(1.484 0 0 0.421 758.75 1840.83)">K</text>
<text class="b" transform="matrix(1.429 0 0 0.442 760.03 1847.49)">A</text>
<text class="g" transform="matrix(1.600 0 0 0.225 759.82 1851.21)">S</text>
<text class="g" transform="matrix(1.628 0 0 0.231 760.37 1854.73)">T</text>
<text class="b" transform="matrix(1.631 0 0 0.947 778.53 1833.02)">H</text>
<text class="b" transform="matrix(1.889 0 0 0.989 778.18 1847.49)">F</text>
<text class="g" transform="matrix(1.600 0 0 0.225 779.79 1851.21)">S</text>
<text class="b" transform="matrix(1.429 0 0 0.231 780.00 1854.73)">A</text>
<text class="b" transform="matrix(1.889 0 0 4.207 798.15 1847.49)">F</text>
<text class="b" transform="matrix(1.466 0 0 0.266 799.48 1851.78)">C</text>
<text class="g" transform="matrix(1.600 0 0 0.204 799.76 1854.69)">S</text>
<text class="b" transform="matrix(1.429 0 0 2.314 819.94 1834.46)">A</text>
<text class="o" transform="matrix(1.420 0 0 0.818 819.48 1847.33)">G</text>
<text class="g" transform="matrix(1.600 0 0 0.266 819.73 1851.78)">S</text>
<text class="g" transform="matrix(1.628 0 0 0.210 820.28 1854.73)">T</text>
<text class="g" transform="matrix(1.600 0 0 1.267 839.70 1834.22)">S</text>
<text class="g" transform="matrix(1.484 0 0 0.421 838.63 1840.83)">K</text>
<text class="b" transform="matrix(1.429 0 0 0.484 839.91 1847.49)">A</text>
<text class="b" transform="matrix(1.466 0 0 0.266 839.42 1851.78)">C</text>
<text class="g" transform="matrix(1.628 0 0 0.210 840.25 1854.73)">T</text>
<text class="o" transform="matrix(1.420 0 0 1.329 859.42 1826.97)">G</text>
<text class="b" transform="matrix(1.429 0 0 0.883 859.88 1840.83)">A</text>
<text class="b" transform="matrix(1.429 0 0 0.442 859.88 1847.49)">A</text>
<text class="b" transform="matrix(1.466 0 0 0.225 859.39 1851.21)">C</text>
<text class="g" transform="matrix(1.600 0 0 0.225 859.67 1854.68)">S</text>
<text class="b" transform="matrix(1.467 0 0 0.778 880.36 1829.25)">V</text>
<text class="g" transform="matrix(1.600 0 0 0.756 879.64 1840.68)">S</text>
<text class="b" transform="matrix(1.429 0 0 0.442 879.85 1847.49)">A</text>
<text class="m" transform="matrix(1.709 0 0 0.231 878.27 1851.25)">E</text>
<text class="b" transform="matrix(1.466 0 0 0.225 879.36 1854.68)">C</text>
<text class="b" transform="matrix(1.868 0 0 1.998 898.03 1835.91)">L</text>
<text class="b" transform="matrix(1.512 0 0 0.736 900.01 1847.49)">Y</text>
<text class="b" transform="matrix(1.484 0 0 0.231 898.54 1851.25)">K</text>
<text class="g" transform="matrix(1.600 0 0 0.225 899.61 1854.68)">S</text>
<text class="o" transform="matrix(1.420 0 0 0.818 919.33 1824.17)">G</text>
<text class="g" transform="matrix(1.631 0 0 0.947 918.32 1838.81)">N</text>
<text class="m" transform="matrix(1.563 0 0 0.883 918.41 1851.83)">D</text>
<text class="b" transform="matrix(1.429 0 0 0.189 919.79 1854.73)">A</text>
<text class="o" transform="matrix(1.420 0 0 0.858 939.30 1829.09)">G</text>
<text class="m" transform="matrix(1.709 0 0 0.715 938.18 1840.83)">E</text>
<text class="g" transform="matrix(1.631 0 0 0.673 938.29 1851.83)">N</text>
<text class="g" transform="matrix(1.600 0 0 0.184 939.55 1854.69)">S</text>
<text class="r" transform="matrix(1.484 0 0 1.010 958.45 1830.99)">K</text>
<text class="b" transform="matrix(1.331 0 0 0.631 966.33 1840.83)">I</text>
<text class="b" transform="matrix(1.371 0 0 0.379 958.61 1846.04)">M</text>
<text class="b" transform="matrix(1.466 0 0 0.368 959.24 1851.76)">C</text>
<text class="b" transform="matrix(1.429 0 0 0.189 959.73 1854.73)">A</text>
<text class="b" transform="matrix(1.331 0 0 1.262 986.30 1830.12)">I</text>
<text class="b" transform="matrix(1.429 0 0 0.947 979.70 1844.59)">A</text>
<text class="b" transform="matrix(1.466 0 0 0.409 979.21 1851.75)">C</text>
<text class="g" transform="matrix(1.600 0 0 0.184 979.49 1854.69)">S</text>
<text class="t" transform="matrix(1.512 0 0 1.998 999.86 1830.12)">Y</text>
<text class="b" transform="matrix(1.331 0 0 1.157 1006.27 1847.49)">I</text>
<text class="b" transform="matrix(1.868 0 0 0.273 997.88 1851.83)">L</text>
<text class="b" transform="matrix(1.429 0 0 0.189 999.67 1854.73)">A</text>
<text class="b" transform="matrix(1.467 0 0 3.050 1020.15 1838.81)">V</text>
<text class="b" transform="matrix(1.868 0 0 0.568 1017.85 1847.49)">L</text>
<text class="b" transform="matrix(1.429 0 0 0.273 1019.64 1851.83)">A</text>
<text class="g" transform="matrix(1.600 0 0 0.184 1019.43 1854.69)">S</text>
<text class="b" transform="matrix(1.429 0 0 3.050 1039.61 1838.81)">A</text>
<text class="b" transform="matrix(1.331 0 0 0.568 1046.21 1847.49)">I</text>
<text class="b" transform="matrix(1.484 0 0 0.273 1038.33 1851.83)">K</text>
<text class="g" transform="matrix(1.600 0 0 0.184 1039.40 1854.69)">S</text>
<text class="o" transform="matrix(1.420 0 0 5.519 1059.12 1853.65)">G</text>
<text class="o" transform="matrix(1.420 0 0 5.519 1079.09 1853.65)">G</text>
</g>
<g font-size="4.5" font-weight="normal" fill="#000" stroke="#000" stroke-width="0.25" text-anchor="end">
<text transform="translate(732.0,1856.9) rotate(-90)">1</text>
<text transform="translate(752.0,1856.9) rotate(-90)">2</text>
<text transform="translate(771.9,1856.9) rotate(-90)">3</text>
<text transform="translate(791.9,1856.9) rotate(-90)">4</text>
<text transform="translate(811.9,1856.9) rotate(-90)">5</text>
<text transform="translate(831.9,1856.9) rotate(-90)">6</text>
<text transform="translate(851.8,1856.9) rotate(-90)">7</text>
<text transform="translate(871.8,1856.9) rotate(-90)">8</text>
<text transform="translate(891.8,1856.9) rotate(-90)">9</text>
<text transform="translate(911.7,1856.9) rotate(-90)">10</text>
<text transform="translate(931.7,1856.9) rotate(-90)">11</text>
<text transform="translate(951.7,1856.9) rotate(-90)">12</text>
<text transform="translate(971.6,1856.9) rotate(-90)">13</text>
<text transform="translate(991.6,1856.9) rotate(-90)">14</text>
<text transform="translate(1011.6,1856.9) rotate(-90)">15</text>
<text transform="translate(1031.6,1856.9) rotate(-90)">16</text>
<text transform="translate(1051.5,1856.9) rotate(-90)">17</text>
<text transform="translate(1071.5,1856.9) rotate(-90)">18</text>
<text transform="translate(1091.5,1856.9) rotate(-90)">19</text>
</g>
<text x="1040.0" y="1862.0" font-size="3.6" font-weight="normal" fill="#888" textLength="64" lengthAdjust="spacingAndGlyphs">MEME (no SSC) 02.03.2022 14:37</text>
<rect x="1391.5" y="1733.1" width="29.3" height="26.3" fill="#9391B7"/>
<text x="1434.8" y="1757.6" font-size="28" font-weight="normal" fill="#000" stroke="#000" stroke-width="0.5">Motif 6</text>
<path d="M1310.9,1772.6V1852.8" stroke="#000" stroke-width="3"/>
<path d="M1306.4,1851.8H1310.9M1306.4,1833.7H1310.9M1306.4,1815.6H1310.9M1306.4,1797.5H1310.9M1306.4,1779.4H1310.9" stroke="#000" stroke-width="2"/>
<text font-size="4.5" font-weight="normal" fill="#555" text-anchor="middle" transform="translate(1300.9,1812.7) rotate(-90)">bits</text>
<text font-size="4" font-weight="normal" fill="#555" text-anchor="end" x="1305.4" y="1853.3">0</text>
<text font-size="4" font-weight="normal" fill="#555" text-anchor="end" x="1305.4" y="1835.2">1</text>
<text font-size="4" font-weight="normal" fill="#555" text-anchor="end" x="1305.4" y="1817.1">2</text>
<text font-size="4" font-weight="normal" fill="#555" text-anchor="end" x="1305.4" y="1799.0">3</text>
<text font-size="4" font-weight="normal" fill="#555" text-anchor="end" x="1305.4" y="1780.9">4</text>
<g class="lg">
<text class="g" transform="matrix(0.897 0 0 1.483 1312.11 1821.97)">S</text>
<text class="b" transform="matrix(0.822 0 0 1.146 1311.95 1839.22)">C</text>
<text class="b" transform="matrix(0.801 0 0 0.832 1312.23 1851.85)">A</text>
<text class="m" transform="matrix(0.876 0 0 3.815 1322.64 1838.49)">D</text>
<text class="b" transform="matrix(0.801 0 0 0.902 1323.42 1851.85)">A</text>
<text class="g" transform="matrix(0.897 0 0 2.629 1334.49 1827.48)">S</text>
<text class="r" transform="matrix(0.831 0 0 1.665 1333.89 1851.85)">K</text>
<text class="g" transform="matrix(0.914 0 0 2.428 1344.97 1829.90)">N</text>
<text class="r" transform="matrix(0.846 0 0 0.763 1345.06 1841.35)">R</text>
<text class="m" transform="matrix(0.876 0 0 0.694 1345.02 1851.85)">D</text>
<text class="o" transform="matrix(0.796 0 0 3.505 1356.73 1834.94)">G</text>
<text class="g" transform="matrix(0.914 0 0 0.763 1356.16 1851.85)">N</text>
<text class="g" transform="matrix(0.897 0 0 0.350 1356.87 1840.90)">S</text>
<text class="g" transform="matrix(0.914 0 0 2.705 1367.35 1833.72)">N</text>
<text class="h" transform="matrix(0.914 0 0 0.458 1367.35 1840.40)">H</text>
<text class="m" transform="matrix(0.957 0 0 0.832 1367.29 1851.85)">E</text>
<text class="b" transform="matrix(0.822 0 0 3.815 1379.65 1838.49)">V</text>
<text class="b" transform="matrix(0.746 0 0 0.902 1383.06 1851.85)">I</text>
<text class="b" transform="matrix(1.047 0 0 3.815 1389.55 1838.49)">L</text>
<text class="t" transform="matrix(0.847 0 0 0.763 1390.66 1851.85)">Y</text>
<text class="g" transform="matrix(0.897 0 0 1.078 1401.63 1824.92)">S</text>
<text class="r" transform="matrix(0.846 0 0 0.902 1401.01 1838.49)">R</text>
<text class="m" transform="matrix(0.876 0 0 0.832 1400.97 1851.85)">D</text>
<text class="g" transform="matrix(0.897 0 0 3.909 1412.82 1840.59)">S</text>
<text class="g" transform="matrix(0.912 0 0 0.694 1413.13 1851.85)">T</text>
<text class="b" transform="matrix(0.801 0 0 5.688 1424.13 1851.85)">A</text>
<text class="m" transform="matrix(0.957 0 0 5.688 1434.43 1851.85)">E</text>
<text class="b" transform="matrix(1.047 0 0 2.220 1445.50 1829.90)">L</text>
<text class="r" transform="matrix(0.831 0 0 0.763 1445.79 1841.35)">K</text>
<text class="b" transform="matrix(0.746 0 0 0.694 1450.20 1851.85)">I</text>
<text class="t" transform="matrix(0.847 0 0 5.688 1457.80 1851.85)">Y</text>
<text class="g" transform="matrix(0.914 0 0 2.636 1468.06 1827.99)">N</text>
<text class="m" transform="matrix(0.876 0 0 1.665 1468.11 1851.85)">D</text>
<text class="g" transform="matrix(0.897 0 0 3.707 1479.96 1837.76)">S</text>
<text class="b" transform="matrix(0.801 0 0 0.832 1480.08 1851.85)">A</text>
<text class="b" transform="matrix(1.047 0 0 1.526 1490.26 1822.26)">L</text>
<text class="m" transform="matrix(0.957 0 0 1.248 1490.38 1840.40)">E</text>
<text class="o" transform="matrix(0.796 0 0 0.741 1491.01 1851.70)">G</text>
<text class="g" transform="matrix(0.912 0 0 1.526 1502.65 1822.26)">T</text>
<text class="g" transform="matrix(0.897 0 0 1.213 1502.34 1840.16)">S</text>
<text class="b" transform="matrix(0.768 0 0 0.763 1501.83 1851.85)">M</text>
<text class="o" transform="matrix(0.796 0 0 2.696 1513.39 1827.46)">G</text>
<text class="r" transform="matrix(0.846 0 0 1.665 1512.91 1851.85)">R</text>
<text class="g" transform="matrix(0.912 0 0 1.526 1525.03 1822.26)">T</text>
<text class="r" transform="matrix(0.831 0 0 1.318 1524.12 1841.35)">K</text>
<text class="g" transform="matrix(0.897 0 0 0.674 1524.72 1851.72)">S</text>
<text class="b" transform="matrix(0.570 0 0 5.688 1536.41 1851.85)">W</text>
<text class="m" transform="matrix(0.957 0 0 2.774 1546.33 1835.62)">E</text>
<text class="g" transform="matrix(0.912 0 0 0.624 1547.41 1845.17)">T</text>
<text class="b" transform="matrix(0.768 0 0 0.486 1546.59 1851.85)">M</text>
<text class="g" transform="matrix(0.912 0 0 1.526 1558.60 1822.26)">T</text>
<text class="b" transform="matrix(0.768 0 0 1.318 1557.78 1841.35)">M</text>
<text class="b" transform="matrix(0.801 0 0 0.694 1558.41 1851.85)">A</text>
<text class="b" transform="matrix(1.047 0 0 5.688 1568.59 1851.85)">L</text>
<text class="y" transform="matrix(0.949 0 0 5.688 1579.91 1851.85)">P</text>
<text class="g" transform="matrix(0.897 0 0 3.640 1591.86 1836.82)">S</text>
<text class="r" transform="matrix(0.846 0 0 0.971 1591.24 1851.85)">R</text>
<text class="b" transform="matrix(0.768 0 0 5.688 1602.54 1851.85)">M</text>
<text class="r" transform="matrix(0.831 0 0 1.526 1613.64 1822.26)">K</text>
<text class="h" transform="matrix(0.914 0 0 1.179 1613.53 1839.44)">H</text>
<text class="g" transform="matrix(0.914 0 0 0.832 1613.53 1851.85)">N</text>
<text class="r" transform="matrix(0.831 0 0 2.081 1624.83 1829.90)">K</text>
<text class="g" transform="matrix(0.897 0 0 0.741 1625.43 1841.21)">S</text>
<text class="b" transform="matrix(0.822 0 0 0.674 1625.27 1851.72)">C</text>
<text class="y" transform="matrix(0.949 0 0 4.023 1635.86 1841.35)">P</text>
<text class="b" transform="matrix(0.801 0 0 0.694 1636.74 1851.85)">A</text>
<text class="r" transform="matrix(0.846 0 0 5.688 1647.19 1851.85)">R</text>
<text class="r" transform="matrix(0.831 0 0 2.497 1658.40 1830.85)">K</text>
<text class="r" transform="matrix(0.846 0 0 1.457 1658.38 1851.85)">R</text>
<text class="b" transform="matrix(1.047 0 0 2.705 1669.30 1838.49)">L</text>
<text class="b" transform="matrix(0.768 0 0 0.902 1669.68 1851.85)">M</text>
<text class="b" transform="matrix(0.822 0 0 5.527 1681.22 1850.77)">C</text>
<text class="g" transform="matrix(0.897 0 0 3.909 1692.57 1840.59)">S</text>
<text class="b" transform="matrix(0.801 0 0 0.694 1692.69 1851.85)">A</text>
<text class="o" transform="matrix(0.796 0 0 3.909 1703.62 1840.59)">G</text>
<text class="b" transform="matrix(0.801 0 0 0.694 1703.88 1851.85)">A</text>
<text class="b" transform="matrix(1.059 0 0 1.942 1714.05 1827.99)">F</text>
<text class="b" transform="matrix(0.822 0 0 1.665 1715.35 1851.85)">V</text>
<text class="b" transform="matrix(1.059 0 0 3.815 1725.24 1838.49)">F</text>
<text class="t" transform="matrix(0.847 0 0 0.832 1726.36 1851.85)">Y</text>
<text class="b" transform="matrix(0.768 0 0 3.815 1736.82 1838.49)">M</text>
<text class="b" transform="matrix(1.047 0 0 0.832 1736.44 1851.85)">L</text>
<text class="m" transform="matrix(0.876 0 0 5.688 1747.86 1851.85)">D</text>
<text class="o" transform="matrix(0.796 0 0 3.909 1759.57 1840.59)">G</text>
<text class="m" transform="matrix(0.876 0 0 0.694 1759.05 1851.85)">D</text>
<text class="r" transform="matrix(0.831 0 0 4.023 1770.30 1841.35)">K</text>
<text class="r" transform="matrix(0.846 0 0 0.694 1770.28 1851.85)">R</text>
<text class="b" transform="matrix(1.059 0 0 5.688 1781.19 1851.85)">F</text>
<text class="t" transform="matrix(0.847 0 0 5.688 1793.50 1851.85)">Y</text>
<text class="b" transform="matrix(0.822 0 0 5.688 1804.87 1851.85)">V</text>
<text class="b" transform="matrix(0.746 0 0 3.676 1819.47 1838.49)">I</text>
<text class="b" transform="matrix(0.822 0 0 0.902 1816.06 1851.85)">V</text>
<text class="o" transform="matrix(0.796 0 0 5.527 1826.71 1850.77)">G</text>
<text class="o" transform="matrix(0.796 0 0 5.527 1837.90 1850.77)">G</text>
<text class="b" transform="matrix(0.768 0 0 1.387 1848.72 1820.35)">M</text>
<text class="b" transform="matrix(0.746 0 0 1.457 1853.04 1841.35)">I</text>
<text class="r" transform="matrix(0.846 0 0 0.694 1848.61 1851.85)">R</text>
<text class="g" transform="matrix(0.912 0 0 1.387 1860.73 1820.35)">T</text>
<text class="o" transform="matrix(0.796 0 0 1.213 1860.28 1840.16)">G</text>
<text class="g" transform="matrix(0.914 0 0 0.694 1859.71 1851.85)">N</text>
</g>
<g font-size="3.9" font-weight="normal" fill="#000" stroke="#000" stroke-width="0.25" text-anchor="end">
<text transform="translate(1319.4,1854.0) rotate(-90)">1</text>
<text transform="translate(1330.6,1854.0) rotate(-90)">2</text>
<text transform="translate(1341.8,1854.0) rotate(-90)">3</text>
<text transform="translate(1353.0,1854.0) rotate(-90)">4</text>
<text transform="translate(1364.2,1854.0) rotate(-90)">5</text>
<text transform="translate(1375.3,1854.0) rotate(-90)">6</text>
<text transform="translate(1386.5,1854.0) rotate(-90)">7</text>
<text transform="translate(1397.7,1854.0) rotate(-90)">8</text>
<text transform="translate(1408.9,1854.0) rotate(-90)">9</text>
<text transform="translate(1420.1,1854.0) rotate(-90)">10</text>
<text transform="translate(1431.3,1854.0) rotate(-90)">11</text>
<text transform="translate(1442.5,1854.0) rotate(-90)">12</text>
<text transform="translate(1453.7,1854.0) rotate(-90)">13</text>
<text transform="translate(1464.9,1854.0) rotate(-90)">14</text>
<text transform="translate(1476.1,1854.0) rotate(-90)">15</text>
<text transform="translate(1487.2,1854.0) rotate(-90)">16</text>
<text transform="translate(1498.4,1854.0) rotate(-90)">17</text>
<text transform="translate(1509.6,1854.0) rotate(-90)">18</text>
<text transform="translate(1520.8,1854.0) rotate(-90)">19</text>
<text transform="translate(1532.0,1854.0) rotate(-90)">20</text>
<text transform="translate(1543.2,1854.0) rotate(-90)">21</text>
<text transform="translate(1554.4,1854.0) rotate(-90)">22</text>
<text transform="translate(1565.6,1854.0) rotate(-90)">23</text>
<text transform="translate(1576.8,1854.0) rotate(-90)">24</text>
<text transform="translate(1588.0,1854.0) rotate(-90)">25</text>
<text transform="translate(1599.1,1854.0) rotate(-90)">26</text>
<text transform="translate(1610.3,1854.0) rotate(-90)">27</text>
<text transform="translate(1621.5,1854.0) rotate(-90)">28</text>
<text transform="translate(1632.7,1854.0) rotate(-90)">29</text>
<text transform="translate(1643.9,1854.0) rotate(-90)">30</text>
<text transform="translate(1655.1,1854.0) rotate(-90)">31</text>
<text transform="translate(1666.3,1854.0) rotate(-90)">32</text>
<text transform="translate(1677.5,1854.0) rotate(-90)">33</text>
<text transform="translate(1688.7,1854.0) rotate(-90)">34</text>
<text transform="translate(1699.9,1854.0) rotate(-90)">35</text>
<text transform="translate(1711.0,1854.0) rotate(-90)">36</text>
<text transform="translate(1722.2,1854.0) rotate(-90)">37</text>
<text transform="translate(1733.4,1854.0) rotate(-90)">38</text>
<text transform="translate(1744.6,1854.0) rotate(-90)">39</text>
<text transform="translate(1755.8,1854.0) rotate(-90)">40</text>
<text transform="translate(1767.0,1854.0) rotate(-90)">41</text>
<text transform="translate(1778.2,1854.0) rotate(-90)">42</text>
<text transform="translate(1789.4,1854.0) rotate(-90)">43</text>
<text transform="translate(1800.6,1854.0) rotate(-90)">44</text>
<text transform="translate(1811.8,1854.0) rotate(-90)">45</text>
<text transform="translate(1822.9,1854.0) rotate(-90)">46</text>
<text transform="translate(1834.1,1854.0) rotate(-90)">47</text>
<text transform="translate(1845.3,1854.0) rotate(-90)">48</text>
<text transform="translate(1856.5,1854.0) rotate(-90)">49</text>
<text transform="translate(1867.7,1854.0) rotate(-90)">50</text>
</g>
<rect x="169.7" y="1893.8" width="29.3" height="26.3" fill="#AEDB8E"/>
<text x="211.5" y="1918.0" font-size="28" font-weight="normal" fill="#000" stroke="#000" stroke-width="0.5">Motif 7</text>
<path d="M52.5,1927.8V2007.1" stroke="#000" stroke-width="3"/>
<path d="M48.0,2006.1H52.5M48.0,1988.2H52.5M48.0,1970.3H52.5M48.0,1952.4H52.5M48.0,1934.5H52.5" stroke="#000" stroke-width="2"/>
<text font-size="4.5" font-weight="normal" fill="#555" text-anchor="middle" transform="translate(42.5,1967.4) rotate(-90)">bits</text>
<text font-size="4" font-weight="normal" fill="#555" text-anchor="end" x="47.0" y="2007.6">0</text>
<text font-size="4" font-weight="normal" fill="#555" text-anchor="end" x="47.0" y="1989.7">1</text>
<text font-size="4" font-weight="normal" fill="#555" text-anchor="end" x="47.0" y="1971.8">2</text>
<text font-size="4" font-weight="normal" fill="#555" text-anchor="end" x="47.0" y="1953.9">3</text>
<text font-size="4" font-weight="normal" fill="#555" text-anchor="end" x="47.0" y="1936.0">4</text>
<g class="lg">
<text class="y" transform="matrix(0.948 0 0 5.618 52.85 2006.12)">P</text>
<text class="b" transform="matrix(1.046 0 0 5.618 63.90 2006.12)">L</text>
<text class="b" transform="matrix(0.821 0 0 3.191 76.37 1999.44)">V</text>
<text class="b" transform="matrix(1.046 0 0 0.486 75.08 2006.12)">L</text>
<text class="b" transform="matrix(0.800 0 0 5.618 87.27 2006.12)">A</text>
<text class="b" transform="matrix(0.821 0 0 5.618 98.73 2006.12)">V</text>
<text class="b" transform="matrix(0.821 0 0 5.618 109.91 2006.12)">V</text>
<text class="g" transform="matrix(0.913 0 0 2.774 119.98 1980.35)">N</text>
<text class="m" transform="matrix(0.875 0 0 1.803 120.03 2006.12)">D</text>
<text class="g" transform="matrix(0.913 0 0 5.618 131.16 2006.12)">N</text>
<text class="g" transform="matrix(0.772 0 0 1.706 142.93 1973.64)">Q</text>
<text class="m" transform="matrix(0.957 0 0 0.832 142.28 1992.76)">E</text>
<text class="b" transform="matrix(0.800 0 0 0.902 143.17 2006.12)">A</text>
<text class="b" transform="matrix(1.046 0 0 5.618 153.34 2006.12)">L</text>
<text class="t" transform="matrix(0.847 0 0 5.618 165.63 2006.12)">Y</text>
<text class="b" transform="matrix(0.800 0 0 4.092 176.71 1995.62)">A</text>
<text class="g" transform="matrix(0.896 0 0 0.674 176.59 2005.99)">S</text>
<text class="b" transform="matrix(0.821 0 0 1.595 188.17 1980.35)">V</text>
<text class="b" transform="matrix(0.800 0 0 1.040 187.89 1995.62)">A</text>
<text class="b" transform="matrix(1.046 0 0 0.694 186.88 2006.12)">L</text>
<text class="m" transform="matrix(0.957 0 0 2.636 198.18 1980.35)">E</text>
<text class="m" transform="matrix(0.875 0 0 1.803 198.29 2006.12)">D</text>
<text class="t" transform="matrix(0.847 0 0 2.011 210.35 1986.08)">Y</text>
<text class="g" transform="matrix(0.896 0 0 0.674 210.13 1996.45)">S</text>
<text class="b" transform="matrix(0.800 0 0 0.624 210.25 2006.12)">A</text>
<text class="b" transform="matrix(1.046 0 0 1.179 220.42 1974.63)">L</text>
<text class="b" transform="matrix(0.800 0 0 1.110 221.43 1995.62)">A</text>
<text class="g" transform="matrix(0.896 0 0 0.607 221.31 2006.00)">S</text>
<text class="g" transform="matrix(0.911 0 0 1.387 232.80 1980.35)">T</text>
<text class="g" transform="matrix(0.896 0 0 0.607 232.49 1989.78)">S</text>
<text class="m" transform="matrix(0.948 0 0 0.555 231.73 1998.49)">P</text>
<text class="b" transform="matrix(0.800 0 0 0.486 232.61 2006.12)">A</text>
<text class="g" transform="matrix(0.913 0 0 3.191 242.96 1987.99)">N</text>
<text class="b" transform="matrix(0.745 0 0 1.248 247.48 2006.12)">I</text>
<text class="b" transform="matrix(0.767 0 0 1.179 254.34 1974.63)">M</text>
<text class="m" transform="matrix(0.957 0 0 1.387 254.08 1995.62)">E</text>
<text class="g" transform="matrix(0.772 0 0 0.533 254.73 2004.02)">Q</text>
<text class="b" transform="matrix(0.821 0 0 4.092 266.43 1995.62)">V</text>
<text class="b" transform="matrix(1.046 0 0 0.694 265.14 2006.12)">L</text>
<text class="r" transform="matrix(0.845 0 0 1.318 276.59 1976.54)">R</text>
<text class="r" transform="matrix(0.831 0 0 1.318 276.61 1995.62)">K</text>
<text class="g" transform="matrix(0.913 0 0 0.694 276.50 2006.12)">N</text>
<text class="r" transform="matrix(0.831 0 0 4.092 287.79 1995.62)">K</text>
<text class="b" transform="matrix(0.821 0 0 0.694 288.79 2006.12)">V</text>
<text class="t" transform="matrix(0.847 0 0 4.092 299.79 1995.62)">Y</text>
<text class="b" transform="matrix(1.058 0 0 0.694 298.67 2006.12)">F</text>
<text class="g" transform="matrix(0.913 0 0 2.011 310.04 1986.08)">N</text>
<text class="b" transform="matrix(0.821 0 0 0.694 311.15 1996.58)">V</text>
<text class="m" transform="matrix(0.875 0 0 0.624 310.09 2006.12)">D</text>
<text class="r" transform="matrix(0.831 0 0 5.618 321.33 2006.12)">K</text>
<text class="m" transform="matrix(0.957 0 0 2.220 332.34 1982.26)">E</text>
<text class="g" transform="matrix(0.772 0 0 0.586 332.99 1991.41)">Q</text>
<text class="m" transform="matrix(0.875 0 0 0.832 332.45 2006.12)">D</text>
<text class="g" transform="matrix(0.896 0 0 1.011 344.29 1976.34)">S</text>
<text class="g" transform="matrix(0.911 0 0 0.624 344.60 1986.08)">T</text>
<text class="r" transform="matrix(0.845 0 0 0.555 343.67 1994.67)">R</text>
<text class="g" transform="matrix(0.913 0 0 0.763 343.58 2006.12)">N</text>
<text class="g" transform="matrix(0.913 0 0 2.636 354.76 1980.35)">N</text>
<text class="r" transform="matrix(0.845 0 0 1.248 354.85 1998.49)">R</text>
<text class="b" transform="matrix(0.745 0 0 0.486 359.28 2006.12)">I</text>
<text class="g" transform="matrix(0.896 0 0 1.146 366.65 1978.22)">S</text>
<text class="t" transform="matrix(0.847 0 0 0.763 366.87 1989.90)">Y</text>
<text class="g" transform="matrix(0.911 0 0 0.555 366.96 1998.49)">T</text>
<text class="b" transform="matrix(0.745 0 0 0.486 370.46 2006.12)">I</text>
<text class="b" transform="matrix(0.570 0 0 5.618 378.33 2006.12)">W</text>
<text class="b" transform="matrix(0.821 0 0 0.486 389.41 1975.58)">V</text>
<text class="r" transform="matrix(0.913 0 0 0.305 388.30 1980.74)">N</text>
<text class="g" transform="matrix(0.913 0 0 0.624 388.30 1989.90)">N</text>
<text class="m" transform="matrix(0.957 0 0 0.486 388.24 1997.53)">E</text>
<text class="g" transform="matrix(0.896 0 0 0.539 389.01 2006.02)">S</text>
<text class="g" transform="matrix(0.911 0 0 1.179 400.50 1978.45)">T</text>
<text class="m" transform="matrix(0.957 0 0 0.555 399.42 1995.62)">E</text>
<text class="b" transform="matrix(0.800 0 0 0.624 400.31 2006.12)">A</text>
<text class="h" transform="matrix(0.896 0 0 0.580 400.19 1987.49)">S</text>
<text class="b" transform="matrix(1.046 0 0 2.774 410.48 1982.26)">L</text>
<text class="b" transform="matrix(0.821 0 0 1.665 411.77 2006.12)">V</text>
<text class="o" transform="matrix(0.795 0 0 5.459 422.41 2005.06)">G</text>
<text class="r" transform="matrix(0.845 0 0 5.618 433.11 2006.12)">R</text>
<text class="b" transform="matrix(1.046 0 0 4.300 444.02 1987.99)">L</text>
<text class="b" transform="matrix(0.821 0 0 1.248 445.31 2006.12)">V</text>
<text class="y" transform="matrix(0.948 0 0 5.618 455.33 2006.12)">P</text>
<text class="b" transform="matrix(0.821 0 0 2.220 467.67 1980.35)">V</text>
<text class="m" transform="matrix(0.957 0 0 1.734 466.50 2006.12)">E</text>
<text class="r" transform="matrix(0.845 0 0 5.618 477.83 2006.12)">R</text>
<text class="b" transform="matrix(0.800 0 0 5.618 489.75 2006.12)">A</text>
<text class="m" transform="matrix(0.875 0 0 5.618 500.15 2006.12)">D</text>
<text class="g" transform="matrix(0.896 0 0 3.572 511.99 1989.20)">S</text>
<text class="t" transform="matrix(0.847 0 0 1.040 512.21 2006.12)">Y</text>
<text class="g" transform="matrix(0.896 0 0 1.146 523.17 1974.40)">S</text>
<text class="b" transform="matrix(0.767 0 0 1.179 522.66 1993.72)">M</text>
<text class="g" transform="matrix(0.913 0 0 0.832 522.46 2006.12)">N</text>
<text class="g" transform="matrix(0.913 0 0 1.179 533.64 1978.45)">N</text>
<text class="t" transform="matrix(0.847 0 0 0.555 534.57 1987.03)">Y</text>
<text class="r" transform="matrix(0.845 0 0 0.555 533.73 1995.62)">R</text>
<text class="b" transform="matrix(1.058 0 0 0.694 533.45 2006.12)">F</text>
<text class="o" transform="matrix(0.795 0 0 5.459 545.39 2005.06)">G</text>
<text class="b" transform="matrix(0.570 0 0 5.618 557.21 2006.12)">W</text>
<text class="o" transform="matrix(0.795 0 0 5.459 567.75 2005.06)">G</text>
<text class="b" transform="matrix(1.046 0 0 3.676 578.18 1989.90)">L</text>
<text class="b" transform="matrix(0.821 0 0 1.110 579.47 2006.12)">V</text>
<text class="b" transform="matrix(0.800 0 0 5.618 590.37 2006.12)">A</text>
<text class="b" transform="matrix(1.058 0 0 5.618 600.53 2006.12)">F</text>
</g>
<g font-size="3.9" font-weight="normal" fill="#000" stroke="#000" stroke-width="0.25" text-anchor="end">
<text transform="translate(60.9,2008.3) rotate(-90)">1</text>
<text transform="translate(72.1,2008.3) rotate(-90)">2</text>
<text transform="translate(83.3,2008.3) rotate(-90)">3</text>
<text transform="translate(94.4,2008.3) rotate(-90)">4</text>
<text transform="translate(105.6,2008.3) rotate(-90)">5</text>
<text transform="translate(116.8,2008.3) rotate(-90)">6</text>
<text transform="translate(128.0,2008.3) rotate(-90)">7</text>
<text transform="translate(139.2,2008.3) rotate(-90)">8</text>
<text transform="translate(150.3,2008.3) rotate(-90)">9</text>
<text transform="translate(161.5,2008.3) rotate(-90)">10</text>
<text transform="translate(172.7,2008.3) rotate(-90)">11</text>
<text transform="translate(183.9,2008.3) rotate(-90)">12</text>
<text transform="translate(195.1,2008.3) rotate(-90)">13</text>
<text transform="translate(206.2,2008.3) rotate(-90)">14</text>
<text transform="translate(217.4,2008.3) rotate(-90)">15</text>
<text transform="translate(228.6,2008.3) rotate(-90)">16</text>
<text transform="translate(239.8,2008.3) rotate(-90)">17</text>
<text transform="translate(251.0,2008.3) rotate(-90)">18</text>
<text transform="translate(262.1,2008.3) rotate(-90)">19</text>
<text transform="translate(273.3,2008.3) rotate(-90)">20</text>
<text transform="translate(284.5,2008.3) rotate(-90)">21</text>
<text transform="translate(295.7,2008.3) rotate(-90)">22</text>
<text transform="translate(306.9,2008.3) rotate(-90)">23</text>
<text transform="translate(318.0,2008.3) rotate(-90)">24</text>
<text transform="translate(329.2,2008.3) rotate(-90)">25</text>
<text transform="translate(340.4,2008.3) rotate(-90)">26</text>
<text transform="translate(351.6,2008.3) rotate(-90)">27</text>
<text transform="translate(362.8,2008.3) rotate(-90)">28</text>
<text transform="translate(373.9,2008.3) rotate(-90)">29</text>
<text transform="translate(385.1,2008.3) rotate(-90)">30</text>
<text transform="translate(396.3,2008.3) rotate(-90)">31</text>
<text transform="translate(407.5,2008.3) rotate(-90)">32</text>
<text transform="translate(418.7,2008.3) rotate(-90)">33</text>
<text transform="translate(429.8,2008.3) rotate(-90)">34</text>
<text transform="translate(441.0,2008.3) rotate(-90)">35</text>
<text transform="translate(452.2,2008.3) rotate(-90)">36</text>
<text transform="translate(463.4,2008.3) rotate(-90)">37</text>
<text transform="translate(474.6,2008.3) rotate(-90)">38</text>
<text transform="translate(485.7,2008.3) rotate(-90)">39</text>
<text transform="translate(496.9,2008.3) rotate(-90)">40</text>
<text transform="translate(508.1,2008.3) rotate(-90)">41</text>
<text transform="translate(519.3,2008.3) rotate(-90)">42</text>
<text transform="translate(530.5,2008.3) rotate(-90)">43</text>
<text transform="translate(541.6,2008.3) rotate(-90)">44</text>
<text transform="translate(552.8,2008.3) rotate(-90)">45</text>
<text transform="translate(564.0,2008.3) rotate(-90)">46</text>
<text transform="translate(575.2,2008.3) rotate(-90)">47</text>
<text transform="translate(586.4,2008.3) rotate(-90)">48</text>
<text transform="translate(597.5,2008.3) rotate(-90)">49</text>
<text transform="translate(608.7,2008.3) rotate(-90)">50</text>
</g>
<rect x="821.5" y="1893.4" width="29.3" height="26.3" fill="#FCA21A"/>
<text x="865.5" y="1918.0" font-size="28" font-weight="normal" fill="#000" stroke="#000" stroke-width="0.5">Motif 8</text>
<path d="M715.5,1930.6V2011.3" stroke="#000" stroke-width="3"/>
<path d="M711.0,2010.3H715.5M711.0,1992.1H715.5M711.0,1973.9H715.5M711.0,1955.6H715.5M711.0,1937.4H715.5" stroke="#000" stroke-width="2"/>
<text font-size="4.5" font-weight="normal" fill="#555" text-anchor="middle" transform="translate(705.5,1970.9) rotate(-90)">bits</text>
<text font-size="4" font-weight="normal" fill="#555" text-anchor="end" x="710.0" y="2011.8">0</text>
<text font-size="4" font-weight="normal" fill="#555" text-anchor="end" x="710.0" y="1993.6">1</text>
<text font-size="4" font-weight="normal" fill="#555" text-anchor="end" x="710.0" y="1975.4">2</text>
<text font-size="4" font-weight="normal" fill="#555" text-anchor="end" x="710.0" y="1957.1">3</text>
<text font-size="4" font-weight="normal" fill="#555" text-anchor="end" x="710.0" y="1938.9">4</text>
<g class="lg">
<text class="b" transform="matrix(1.429 0 0 0.673 717.19 1992.94)">A</text>
<text class="m" transform="matrix(1.709 0 0 0.421 715.61 1999.59)">E</text>
<text class="g" transform="matrix(1.600 0 0 0.347 716.98 2005.32)">S</text>
<text class="r" transform="matrix(1.484 0 0 0.337 715.91 2010.30)">K</text>
<text class="b" transform="matrix(1.467 0 0 4.670 737.67 2010.30)">V</text>
<text class="b" transform="matrix(1.018 0 0 0.736 757.82 1985.12)">W</text>
<text class="t" transform="matrix(1.512 0 0 0.568 757.32 1993.81)">Y</text>
<text class="b" transform="matrix(1.868 0 0 0.568 755.34 2002.49)">L</text>
<text class="r" transform="matrix(1.484 0 0 0.273 755.85 2006.83)">K</text>
<text class="g" transform="matrix(1.600 0 0 0.225 756.92 2010.26)">S</text>
<text class="r" transform="matrix(1.510 0 0 0.631 775.79 1986.57)">R</text>
<text class="b" transform="matrix(1.467 0 0 0.905 777.61 1999.59)">V</text>
<text class="r" transform="matrix(1.484 0 0 0.358 775.82 2005.38)">K</text>
<text class="g" transform="matrix(1.600 0 0 0.327 776.89 2010.24)">S</text>
<text class="t" transform="matrix(1.512 0 0 4.523 797.26 2002.49)">Y</text>
<text class="b" transform="matrix(1.889 0 0 0.358 795.25 2008.28)">F</text>
<text class="m" transform="matrix(1.563 0 0 1.620 815.66 1984.25)">D</text>
<text class="g" transform="matrix(1.600 0 0 0.961 816.83 1999.41)">S</text>
<text class="m" transform="matrix(1.709 0 0 0.463 815.46 2006.83)">E</text>
<text class="b" transform="matrix(1.429 0 0 0.231 817.04 2010.30)">A</text>
<text class="b" transform="matrix(1.868 0 0 0.631 835.22 1989.46)">L</text>
<text class="g" transform="matrix(1.709 0 0 0.379 835.43 1995.25)">E</text>
<text class="b" transform="matrix(1.466 0 0 0.572 836.52 2003.82)">C</text>
<text class="g" transform="matrix(1.600 0 0 0.245 836.80 2007.65)">S</text>
<text class="b" transform="matrix(1.429 0 0 0.189 837.01 2010.30)">A</text>
<text class="r" transform="matrix(1.709 0 0 0.463 855.40 1995.83)">E</text>
<text class="b" transform="matrix(1.429 0 0 0.463 856.98 2003.94)">A</text>
<text class="y" transform="matrix(1.694 0 0 0.231 855.42 2007.41)">P</text>
<text class="g" transform="matrix(1.600 0 0 0.204 856.77 2010.26)">S</text>
<text class="g" transform="matrix(1.628 0 0 1.052 877.29 1993.81)">T</text>
<text class="b" transform="matrix(1.600 0 0 0.266 876.74 1998.10)">S</text>
<text class="b" transform="matrix(1.429 0 0 0.421 876.95 2003.94)">A</text>
<text class="r" transform="matrix(1.484 0 0 0.231 875.67 2007.41)">K</text>
<text class="m" transform="matrix(1.709 0 0 0.210 875.37 2010.30)">E</text>
<text class="g" transform="matrix(1.631 0 0 1.683 895.45 1985.12)">N</text>
<text class="r" transform="matrix(1.510 0 0 1.115 895.61 2002.49)">R</text>
<text class="m" transform="matrix(1.563 0 0 0.273 895.54 2006.83)">D</text>
<text class="g" transform="matrix(1.600 0 0 0.225 896.71 2010.26)">S</text>
<text class="g" transform="matrix(1.628 0 0 0.463 917.23 1992.36)">T</text>
<text class="r" transform="matrix(1.510 0 0 0.484 915.58 1999.59)">R</text>
<text class="b" transform="matrix(1.429 0 0 0.421 916.89 2006.25)">A</text>
<text class="g" transform="matrix(1.600 0 0 0.266 916.68 2010.25)">S</text>
<text class="b" transform="matrix(1.018 0 0 5.616 937.55 2010.30)">W</text>
<text class="r" transform="matrix(1.510 0 0 0.463 955.52 1989.46)">R</text>
<text class="b" transform="matrix(1.331 0 0 0.589 963.43 1998.15)">I</text>
<text class="g" transform="matrix(1.600 0 0 0.368 956.62 2003.86)">S</text>
<text class="b" transform="matrix(1.429 0 0 0.273 956.83 2008.28)">A</text>
<text class="r" transform="matrix(1.484 0 0 0.841 975.52 1996.70)">K</text>
<text class="g" transform="matrix(1.429 0 0 0.358 976.80 2002.49)">A</text>
<text class="g" transform="matrix(1.600 0 0 0.266 976.59 2006.78)">S</text>
<text class="m" transform="matrix(1.709 0 0 0.231 975.22 2010.30)">E</text>
<text class="o" transform="matrix(1.420 0 0 0.675 996.31 1984.99)">G</text>
<text class="b" transform="matrix(1.429 0 0 0.673 996.77 1995.83)">A</text>
<text class="b" transform="matrix(1.466 0 0 0.511 996.28 2003.84)">C</text>
<text class="g" transform="matrix(1.600 0 0 0.245 996.56 2007.65)">S</text>
<text class="g" transform="matrix(1.628 0 0 0.189 997.11 2010.30)">T</text>
<text class="b" transform="matrix(1.429 0 0 0.631 1016.74 1990.91)">A</text>
<text class="b" transform="matrix(1.331 0 0 0.463 1023.34 1998.15)">I</text>
<text class="m" transform="matrix(1.709 0 0 0.294 1015.16 2002.20)">E</text>
<text class="b" transform="matrix(1.371 0 0 0.316 1015.62 2006.83)">M</text>
<text class="g" transform="matrix(1.600 0 0 0.225 1016.53 2010.26)">S</text>
<text class="g" transform="matrix(1.600 0 0 0.511 1036.50 1990.81)">S</text>
<text class="r" transform="matrix(1.510 0 0 0.526 1035.40 1999.59)">R</text>
<text class="o" transform="matrix(1.420 0 0 0.307 1036.25 2005.32)">G</text>
<text class="b" transform="matrix(1.429 0 0 0.337 1036.71 2010.30)">A</text>
<text class="b" transform="matrix(1.371 0 0 4.523 1055.56 2003.94)">M</text>
<text class="b" transform="matrix(1.467 0 0 0.273 1057.19 2008.28)">V</text>
<text class="y" transform="matrix(1.694 0 0 0.568 1075.09 1987.15)">P</text>
<text class="g" transform="matrix(1.631 0 0 0.883 1075.18 2001.04)">N</text>
<text class="b" transform="matrix(1.429 0 0 0.273 1076.65 2006.25)">A</text>
<text class="g" transform="matrix(1.600 0 0 0.266 1076.44 2010.25)">S</text>
</g>
<g font-size="4.5" font-weight="normal" fill="#000" stroke="#000" stroke-width="0.25" text-anchor="end">
<text transform="translate(729.1,2012.5) rotate(-90)">1</text>
<text transform="translate(749.1,2012.5) rotate(-90)">2</text>
<text transform="translate(769.0,2012.5) rotate(-90)">3</text>
<text transform="translate(789.0,2012.5) rotate(-90)">4</text>
<text transform="translate(809.0,2012.5) rotate(-90)">5</text>
<text transform="translate(829.0,2012.5) rotate(-90)">6</text>
<text transform="translate(848.9,2012.5) rotate(-90)">7</text>
<text transform="translate(868.9,2012.5) rotate(-90)">8</text>
<text transform="translate(888.9,2012.5) rotate(-90)">9</text>
<text transform="translate(908.8,2012.5) rotate(-90)">10</text>
<text transform="translate(928.8,2012.5) rotate(-90)">11</text>
<text transform="translate(948.8,2012.5) rotate(-90)">12</text>
<text transform="translate(968.7,2012.5) rotate(-90)">13</text>
<text transform="translate(988.7,2012.5) rotate(-90)">14</text>
<text transform="translate(1008.7,2012.5) rotate(-90)">15</text>
<text transform="translate(1028.7,2012.5) rotate(-90)">16</text>
<text transform="translate(1048.6,2012.5) rotate(-90)">17</text>
<text transform="translate(1068.6,2012.5) rotate(-90)">18</text>
<text transform="translate(1088.6,2012.5) rotate(-90)">19</text>
</g>
<text x="1038.0" y="2021.0" font-size="3.6" font-weight="normal" fill="#888" textLength="64" lengthAdjust="spacingAndGlyphs">MEME (no SSC) 02.03.2022 14:37</text>
<rect x="1391.9" y="1893.4" width="29.3" height="26.3" fill="#5E4B94"/>
<text x="1432.6" y="1917.6" font-size="28" font-weight="normal" fill="#000" stroke="#000" stroke-width="0.5">Motif 9</text>
<path d="M1314.6,1930.0V2009.3" stroke="#000" stroke-width="3"/>
<path d="M1310.1,2008.3H1314.6M1310.1,1990.4H1314.6M1310.1,1972.5H1314.6M1310.1,1954.6H1314.6M1310.1,1936.7H1314.6" stroke="#000" stroke-width="2"/>
<text font-size="4.5" font-weight="normal" fill="#555" text-anchor="middle" transform="translate(1304.6,1969.7) rotate(-90)">bits</text>
<text font-size="4" font-weight="normal" fill="#555" text-anchor="end" x="1309.1" y="2009.8">0</text>
<text font-size="4" font-weight="normal" fill="#555" text-anchor="end" x="1309.1" y="1991.9">1</text>
<text font-size="4" font-weight="normal" fill="#555" text-anchor="end" x="1309.1" y="1974.0">2</text>
<text font-size="4" font-weight="normal" fill="#555" text-anchor="end" x="1309.1" y="1956.1">3</text>
<text font-size="4" font-weight="normal" fill="#555" text-anchor="end" x="1309.1" y="1938.2">4</text>
<g class="lg">
<text class="t" transform="matrix(1.512 0 0 0.694 1315.88 1996.70)">Y</text>
<text class="b" transform="matrix(1.868 0 0 0.316 1313.90 2002.49)">L</text>
<text class="g" transform="matrix(1.600 0 0 0.204 1315.48 2005.63)">S</text>
<text class="m" transform="matrix(1.709 0 0 0.189 1314.11 2008.28)">E</text>
<text class="b" transform="matrix(1.467 0 0 0.947 1336.17 1982.23)">V</text>
<text class="b" transform="matrix(1.868 0 0 1.052 1333.87 1998.15)">L</text>
<text class="g" transform="matrix(1.600 0 0 0.368 1335.45 2006.18)">S</text>
<text class="b" transform="matrix(1.466 0 0 0.818 1355.14 1979.17)">C</text>
<text class="t" transform="matrix(1.512 0 0 0.673 1355.82 1989.46)">Y</text>
<text class="b" transform="matrix(1.889 0 0 0.631 1353.81 1999.59)">F</text>
<text class="b" transform="matrix(1.018 0 0 0.526 1356.32 2008.28)">W</text>
<text class="g" transform="matrix(1.631 0 0 2.103 1374.13 1980.78)">N</text>
<text class="m" transform="matrix(1.563 0 0 1.893 1374.22 2008.28)">D</text>
<text class="y" transform="matrix(1.694 0 0 5.048 1394.01 2003.94)">P</text>
<text class="b" transform="matrix(1.331 0 0 0.316 1422.14 1992.36)">I</text>
<text class="m" transform="matrix(1.600 0 0 0.409 1415.33 1998.07)">S</text>
<text class="b" transform="matrix(1.380 0 0 0.372 1415.12 2004.79)">Q</text>
<text class="g" transform="matrix(1.628 0 0 2.735 1435.85 1999.59)">T</text>
<text class="b" transform="matrix(1.429 0 0 0.252 1435.51 2003.94)">A</text>
<text class="g" transform="matrix(1.600 0 0 0.307 1435.30 2008.22)">S</text>
<text class="r" transform="matrix(1.510 0 0 0.463 1454.17 1987.15)">R</text>
<text class="g" transform="matrix(1.631 0 0 0.736 1454.01 1998.15)">N</text>
<text class="m" transform="matrix(1.563 0 0 0.484 1454.10 2006.25)">D</text>
<text class="g" transform="matrix(1.600 0 0 0.347 1475.24 1993.74)">S</text>
<text class="m" transform="matrix(1.709 0 0 0.294 1473.87 1998.73)">E</text>
<text class="b" transform="matrix(1.429 0 0 0.294 1475.45 2003.36)">A</text>
<text class="r" transform="matrix(1.484 0 0 0.294 1474.17 2007.70)">K</text>
<text class="b" transform="matrix(1.018 0 0 2.735 1496.11 1993.81)">W</text>
<text class="t" transform="matrix(1.512 0 0 0.358 1495.61 1999.59)">Y</text>
<text class="g" transform="matrix(1.600 0 0 0.409 1495.21 2006.17)">S</text>
<text class="r" transform="matrix(1.484 0 0 0.736 1514.11 1992.36)">K</text>
<text class="b" transform="matrix(1.331 0 0 0.526 1521.99 2001.04)">I</text>
<text class="b" transform="matrix(1.429 0 0 0.337 1515.39 2006.25)">A</text>
<text class="m" transform="matrix(1.709 0 0 0.358 1533.78 1990.91)">E</text>
<text class="y" transform="matrix(1.694 0 0 0.358 1533.80 1996.70)">P</text>
<text class="g" transform="matrix(1.631 0 0 0.358 1533.89 2002.49)">N</text>
<text class="g" transform="matrix(1.600 0 0 0.266 1535.15 2006.78)">S</text>
<text class="b" transform="matrix(1.868 0 0 2.735 1553.54 1992.36)">L</text>
<text class="b" transform="matrix(1.467 0 0 0.947 1555.84 2005.38)">V</text>
<text class="y" transform="matrix(1.694 0 0 1.893 1573.74 1990.91)">P</text>
<text class="b" transform="matrix(1.429 0 0 0.631 1575.30 2001.04)">A</text>
<text class="m" transform="matrix(1.709 0 0 0.273 1573.72 2006.25)">E</text>
</g>
<g font-size="4.5" font-weight="normal" fill="#000" stroke="#000" stroke-width="0.25" text-anchor="end">
<text transform="translate(1327.6,2010.5) rotate(-90)">1</text>
<text transform="translate(1347.6,2010.5) rotate(-90)">2</text>
<text transform="translate(1367.5,2010.5) rotate(-90)">3</text>
<text transform="translate(1387.5,2010.5) rotate(-90)">4</text>
<text transform="translate(1407.5,2010.5) rotate(-90)">5</text>
<text transform="translate(1427.5,2010.5) rotate(-90)">6</text>
<text transform="translate(1447.4,2010.5) rotate(-90)">7</text>
<text transform="translate(1467.4,2010.5) rotate(-90)">8</text>
<text transform="translate(1487.4,2010.5) rotate(-90)">9</text>
<text transform="translate(1507.3,2010.5) rotate(-90)">10</text>
<text transform="translate(1527.3,2010.5) rotate(-90)">11</text>
<text transform="translate(1547.3,2010.5) rotate(-90)">12</text>
<text transform="translate(1567.2,2010.5) rotate(-90)">13</text>
<text transform="translate(1587.2,2010.5) rotate(-90)">14</text>
</g>
<rect x="172.6" y="2029.8" width="29.3" height="26.3" fill="#FDB88E"/>
<text x="212.6" y="2054.0" font-size="28" font-weight="normal" fill="#000" stroke="#000" stroke-width="0.5">Motif 10</text>
<path d="M52.5,2070.5V2149.8" stroke="#000" stroke-width="3"/>
<path d="M48.0,2148.8H52.5M48.0,2130.9H52.5M48.0,2113.0H52.5M48.0,2095.1H52.5M48.0,2077.2H52.5" stroke="#000" stroke-width="2"/>
<text font-size="4.5" font-weight="normal" fill="#555" text-anchor="middle" transform="translate(42.5,2110.2) rotate(-90)">bits</text>
<text font-size="4" font-weight="normal" fill="#555" text-anchor="end" x="47.0" y="2150.3">0</text>
<text font-size="4" font-weight="normal" fill="#555" text-anchor="end" x="47.0" y="2132.4">1</text>
<text font-size="4" font-weight="normal" fill="#555" text-anchor="end" x="47.0" y="2114.5">2</text>
<text font-size="4" font-weight="normal" fill="#555" text-anchor="end" x="47.0" y="2096.6">3</text>
<text font-size="4" font-weight="normal" fill="#555" text-anchor="end" x="47.0" y="2078.7">4</text>
<g class="lg">
<text class="b" transform="matrix(0.756 0 0 5.618 57.47 2148.76)">I</text>
<text class="t" transform="matrix(0.860 0 0 5.618 65.18 2148.76)">Y</text>
<text class="b" transform="matrix(0.756 0 0 5.618 80.17 2148.76)">I</text>
<text class="g" transform="matrix(0.784 0 0 4.319 87.53 2131.76)">Q</text>
<text class="g" transform="matrix(0.909 0 0 5.459 99.00 2147.69)">S</text>
<text class="t" transform="matrix(0.860 0 0 5.618 110.58 2148.76)">Y</text>
<text class="o" transform="matrix(0.807 0 0 5.459 121.56 2147.69)">G</text>
<text class="b" transform="matrix(0.812 0 0 5.618 133.17 2148.76)">A</text>
<text class="y" transform="matrix(0.963 0 0 5.618 143.64 2148.76)">P</text>
<text class="g" transform="matrix(0.925 0 0 2.081 156.07 2117.26)">T</text>
<text class="b" transform="matrix(0.812 0 0 2.220 155.87 2148.76)">A</text>
<text class="b" transform="matrix(1.062 0 0 5.618 166.21 2148.76)">L</text>
<text class="b" transform="matrix(1.062 0 0 5.618 177.56 2148.76)">L</text>
<text class="b" transform="matrix(0.834 0 0 5.618 190.21 2148.76)">V</text>
<text class="b" transform="matrix(1.074 0 0 5.618 200.24 2148.76)">F</text>
<text class="h" transform="matrix(0.927 0 0 1.803 211.79 2117.26)">H</text>
<text class="m" transform="matrix(0.888 0 0 2.220 211.84 2148.76)">D</text>
<text class="b" transform="matrix(1.062 0 0 1.803 222.96 2117.26)">L</text>
<text class="b" transform="matrix(1.074 0 0 2.220 222.94 2148.76)">F</text>
<text class="g" transform="matrix(0.927 0 0 1.665 234.49 2119.17)">N</text>
<text class="o" transform="matrix(0.807 0 0 2.022 235.06 2148.36)">G</text>
<text class="g" transform="matrix(0.784 0 0 1.280 246.43 2114.14)">Q</text>
<text class="h" transform="matrix(0.927 0 0 2.081 245.84 2148.76)">H</text>
<text class="r" transform="matrix(0.843 0 0 5.618 257.30 2148.76)">K</text>
<text class="g" transform="matrix(0.784 0 0 4.319 269.13 2131.76)">Q</text>
<text class="b" transform="matrix(0.578 0 0 5.618 281.12 2148.76)">W</text>
<text class="r" transform="matrix(0.843 0 0 5.618 291.35 2148.76)">K</text>
<text class="b" transform="matrix(0.578 0 0 5.618 303.82 2148.76)">W</text>
<text class="g" transform="matrix(0.909 0 0 5.459 314.65 2147.69)">S</text>
<text class="g" transform="matrix(0.784 0 0 4.319 325.88 2131.76)">Q</text>
<text class="r" transform="matrix(0.843 0 0 5.618 336.75 2148.76)">K</text>
<text class="b" transform="matrix(0.833 0 0 5.459 348.54 2147.69)">C</text>
<text class="y" transform="matrix(0.963 0 0 5.618 359.29 2148.76)">P</text>
<text class="b" transform="matrix(0.834 0 0 5.618 371.81 2148.76)">V</text>
<text class="b" transform="matrix(0.812 0 0 4.162 382.87 2148.76)">A</text>
<text class="r" transform="matrix(0.843 0 0 5.618 393.50 2148.76)">K</text>
<text class="r" transform="matrix(0.858 0 0 5.618 404.83 2148.76)">R</text>
<text class="b" transform="matrix(1.074 0 0 5.618 415.89 2148.76)">F</text>
<text class="y" transform="matrix(0.963 0 0 5.618 427.39 2148.76)">P</text>
<text class="b" transform="matrix(1.062 0 0 5.618 438.61 2148.76)">L</text>
<text class="g" transform="matrix(0.784 0 0 4.319 450.73 2131.76)">Q</text>
<text class="b" transform="matrix(1.062 0 0 5.618 461.31 2148.76)">L</text>
<text class="b" transform="matrix(1.074 0 0 5.618 472.64 2148.76)">F</text>
<text class="g" transform="matrix(0.925 0 0 5.618 485.22 2148.76)">T</text>
<text class="o" transform="matrix(0.807 0 0 5.459 496.11 2147.69)">G</text>
<text class="b" transform="matrix(1.074 0 0 5.618 506.69 2148.76)">F</text>
<text class="b" transform="matrix(0.833 0 0 5.459 518.79 2147.69)">C</text>
<text class="b" transform="matrix(1.074 0 0 5.618 529.39 2148.76)">F</text>
<text class="m" transform="matrix(0.971 0 0 5.618 540.88 2148.76)">E</text>
<text class="y" transform="matrix(0.963 0 0 5.618 552.24 2148.76)">P</text>
<text class="r" transform="matrix(0.858 0 0 5.618 563.73 2148.76)">R</text>
<text class="b" transform="matrix(1.062 0 0 5.618 574.81 2148.76)">L</text>
<text class="m" transform="matrix(0.971 0 0 5.618 586.28 2148.76)">E</text>
<text class="b" transform="matrix(0.756 0 0 5.618 602.27 2148.76)">I</text>
</g>
<g font-size="3.9" font-weight="normal" fill="#000" stroke="#000" stroke-width="0.25" text-anchor="end">
<text transform="translate(61.0,2151.0) rotate(-90)">1</text>
<text transform="translate(72.3,2151.0) rotate(-90)">2</text>
<text transform="translate(83.7,2151.0) rotate(-90)">3</text>
<text transform="translate(95.0,2151.0) rotate(-90)">4</text>
<text transform="translate(106.4,2151.0) rotate(-90)">5</text>
<text transform="translate(117.7,2151.0) rotate(-90)">6</text>
<text transform="translate(129.1,2151.0) rotate(-90)">7</text>
<text transform="translate(140.4,2151.0) rotate(-90)">8</text>
<text transform="translate(151.8,2151.0) rotate(-90)">9</text>
<text transform="translate(163.1,2151.0) rotate(-90)">10</text>
<text transform="translate(174.5,2151.0) rotate(-90)">11</text>
<text transform="translate(185.8,2151.0) rotate(-90)">12</text>
<text transform="translate(197.2,2151.0) rotate(-90)">13</text>
<text transform="translate(208.5,2151.0) rotate(-90)">14</text>
<text transform="translate(219.9,2151.0) rotate(-90)">15</text>
<text transform="translate(231.2,2151.0) rotate(-90)">16</text>
<text transform="translate(242.6,2151.0) rotate(-90)">17</text>
<text transform="translate(253.9,2151.0) rotate(-90)">18</text>
<text transform="translate(265.3,2151.0) rotate(-90)">19</text>
<text transform="translate(276.6,2151.0) rotate(-90)">20</text>
<text transform="translate(288.0,2151.0) rotate(-90)">21</text>
<text transform="translate(299.3,2151.0) rotate(-90)">22</text>
<text transform="translate(310.7,2151.0) rotate(-90)">23</text>
<text transform="translate(322.0,2151.0) rotate(-90)">24</text>
<text transform="translate(333.4,2151.0) rotate(-90)">25</text>
<text transform="translate(344.7,2151.0) rotate(-90)">26</text>
<text transform="translate(356.1,2151.0) rotate(-90)">27</text>
<text transform="translate(367.4,2151.0) rotate(-90)">28</text>
<text transform="translate(378.8,2151.0) rotate(-90)">29</text>
<text transform="translate(390.1,2151.0) rotate(-90)">30</text>
<text transform="translate(401.5,2151.0) rotate(-90)">31</text>
<text transform="translate(412.8,2151.0) rotate(-90)">32</text>
<text transform="translate(424.2,2151.0) rotate(-90)">33</text>
<text transform="translate(435.5,2151.0) rotate(-90)">34</text>
<text transform="translate(446.9,2151.0) rotate(-90)">35</text>
<text transform="translate(458.2,2151.0) rotate(-90)">36</text>
<text transform="translate(469.6,2151.0) rotate(-90)">37</text>
<text transform="translate(480.9,2151.0) rotate(-90)">38</text>
<text transform="translate(492.3,2151.0) rotate(-90)">39</text>
<text transform="translate(503.6,2151.0) rotate(-90)">40</text>
<text transform="translate(515.0,2151.0) rotate(-90)">41</text>
<text transform="translate(526.3,2151.0) rotate(-90)">42</text>
<text transform="translate(537.7,2151.0) rotate(-90)">43</text>
<text transform="translate(549.0,2151.0) rotate(-90)">44</text>
<text transform="translate(560.4,2151.0) rotate(-90)">45</text>
<text transform="translate(571.7,2151.0) rotate(-90)">46</text>
<text transform="translate(583.1,2151.0) rotate(-90)">47</text>
<text transform="translate(594.4,2151.0) rotate(-90)">48</text>
<text transform="translate(605.8,2151.0) rotate(-90)">49</text>
</g>
<rect x="830.3" y="2030.3" width="29.3" height="26.3" fill="#82907C"/>
<text x="871.9" y="2055.8" font-size="28" font-weight="normal" fill="#000" stroke="#000" stroke-width="0.5">Motif 11</text>
<path d="M711.0,2072.4V2152.6" stroke="#000" stroke-width="3"/>
<path d="M706.5,2151.6H711.0M706.5,2133.5H711.0M706.5,2115.4H711.0M706.5,2097.3H711.0M706.5,2079.2H711.0" stroke="#000" stroke-width="2"/>
<text font-size="4.5" font-weight="normal" fill="#555" text-anchor="middle" transform="translate(701.0,2112.5) rotate(-90)">bits</text>
<text font-size="4" font-weight="normal" fill="#555" text-anchor="end" x="705.5" y="2153.1">0</text>
<text font-size="4" font-weight="normal" fill="#555" text-anchor="end" x="705.5" y="2135.0">1</text>
<text font-size="4" font-weight="normal" fill="#555" text-anchor="end" x="705.5" y="2116.9">2</text>
<text font-size="4" font-weight="normal" fill="#555" text-anchor="end" x="705.5" y="2098.8">3</text>
<text font-size="4" font-weight="normal" fill="#555" text-anchor="end" x="705.5" y="2080.7">4</text>
<g class="lg">
<text class="b" transform="matrix(0.570 0 0 5.660 712.71 2151.62)">W</text>
<text class="t" transform="matrix(0.847 0 0 5.660 723.62 2151.62)">Y</text>
<text class="b" transform="matrix(1.059 0 0 5.660 733.69 2151.62)">F</text>
<text class="b" transform="matrix(0.768 0 0 5.660 745.27 2151.62)">M</text>
<text class="b" transform="matrix(1.059 0 0 5.660 756.07 2151.62)">F</text>
<text class="g" transform="matrix(0.912 0 0 5.660 768.47 2151.62)">T</text>
<text class="g" transform="matrix(0.897 0 0 5.500 779.35 2150.55)">S</text>
<text class="g" transform="matrix(0.897 0 0 5.500 790.54 2150.55)">S</text>
<text class="m" transform="matrix(0.876 0 0 5.660 801.07 2151.62)">D</text>
<text class="m" transform="matrix(0.957 0 0 2.220 812.15 2121.08)">E</text>
<text class="m" transform="matrix(0.876 0 0 2.150 812.26 2151.62)">D</text>
<text class="y" transform="matrix(0.949 0 0 5.660 823.35 2151.62)">P</text>
<text class="b" transform="matrix(0.822 0 0 2.220 835.70 2122.99)">V</text>
<text class="b" transform="matrix(0.746 0 0 2.011 839.11 2151.62)">I</text>
<text class="o" transform="matrix(0.796 0 0 5.500 846.35 2150.55)">G</text>
<text class="t" transform="matrix(0.847 0 0 5.660 857.90 2151.62)">Y</text>
<text class="b" transform="matrix(0.801 0 0 5.660 868.99 2151.62)">A</text>
<text class="t" transform="matrix(0.847 0 0 5.660 880.28 2151.62)">Y</text>
<text class="m" transform="matrix(0.876 0 0 5.660 890.59 2151.62)">D</text>
<text class="y" transform="matrix(0.949 0 0 5.660 901.68 2151.62)">P</text>
<text class="b" transform="matrix(0.822 0 0 2.220 914.03 2122.99)">V</text>
<text class="b" transform="matrix(0.746 0 0 2.011 917.44 2151.62)">I</text>
<text class="b" transform="matrix(1.047 0 0 5.660 923.93 2151.62)">L</text>
<text class="r" transform="matrix(0.846 0 0 5.660 935.39 2151.62)">R</text>
<text class="r" transform="matrix(0.831 0 0 5.660 946.60 2151.62)">K</text>
<text class="b" transform="matrix(0.570 0 0 5.660 958.89 2151.62)">W</text>
<text class="t" transform="matrix(0.847 0 0 5.660 969.80 2151.62)">Y</text>
<text class="o" transform="matrix(0.796 0 0 5.500 980.63 2150.55)">G</text>
<text class="b" transform="matrix(0.746 0 0 5.660 995.77 2151.62)">I</text>
<text class="m" transform="matrix(0.876 0 0 5.660 1002.49 2151.62)">D</text>
<text class="b" transform="matrix(1.047 0 0 5.660 1013.45 2151.62)">L</text>
<text class="y" transform="matrix(0.949 0 0 5.660 1024.77 2151.62)">P</text>
<text class="b" transform="matrix(0.822 0 0 5.500 1036.56 2150.55)">C</text>
<text class="b" transform="matrix(0.746 0 0 5.660 1051.72 2151.62)">I</text>
<text class="m" transform="matrix(0.957 0 0 5.660 1058.33 2151.62)">E</text>
<text class="r" transform="matrix(0.831 0 0 5.660 1069.69 2151.62)">K</text>
<text class="g" transform="matrix(0.897 0 0 5.500 1081.48 2150.55)">S</text>
<text class="g" transform="matrix(0.914 0 0 5.660 1091.96 2151.62)">N</text>
<text class="b" transform="matrix(0.570 0 0 5.660 1104.36 2151.62)">W</text>
<text class="b" transform="matrix(1.059 0 0 5.660 1114.15 2151.62)">F</text>
<text class="b" transform="matrix(0.822 0 0 2.081 1126.64 2121.08)">V</text>
<text class="b" transform="matrix(0.746 0 0 2.150 1130.05 2151.62)">I</text>
<text class="b" transform="matrix(0.822 0 0 2.081 1137.83 2121.08)">V</text>
<text class="b" transform="matrix(0.801 0 0 2.081 1137.55 2151.62)">A</text>
<text class="g" transform="matrix(0.897 0 0 5.500 1148.62 2150.55)">S</text>
<text class="g" transform="matrix(0.897 0 0 5.500 1159.81 2150.55)">S</text>
<text class="g" transform="matrix(0.897 0 0 1.752 1171.00 2116.92)">S</text>
<text class="b" transform="matrix(0.822 0 0 2.022 1170.84 2151.23)">C</text>
<text class="o" transform="matrix(0.796 0 0 5.500 1182.05 2150.55)">G</text>
<text class="b" transform="matrix(1.047 0 0 5.660 1192.49 2151.62)">L</text>
<text class="b" transform="matrix(0.822 0 0 5.660 1204.97 2151.62)">V</text>
<text class="b" transform="matrix(0.822 0 0 5.500 1215.60 2150.55)">C</text>
<text class="b" transform="matrix(1.059 0 0 5.660 1226.05 2151.62)">F</text>
<text class="b" transform="matrix(0.768 0 0 5.660 1237.63 2151.62)">M</text>
<text class="m" transform="matrix(0.876 0 0 5.660 1248.67 2151.62)">D</text>
<text class="g" transform="matrix(0.914 0 0 5.660 1259.81 2151.62)">N</text>
</g>
<g font-size="3.9" font-weight="normal" fill="#000" stroke="#000" stroke-width="0.25" text-anchor="end">
<text transform="translate(719.5,2153.8) rotate(-90)">1</text>
<text transform="translate(730.7,2153.8) rotate(-90)">2</text>
<text transform="translate(741.9,2153.8) rotate(-90)">3</text>
<text transform="translate(753.1,2153.8) rotate(-90)">4</text>
<text transform="translate(764.3,2153.8) rotate(-90)">5</text>
<text transform="translate(775.4,2153.8) rotate(-90)">6</text>
<text transform="translate(786.6,2153.8) rotate(-90)">7</text>
<text transform="translate(797.8,2153.8) rotate(-90)">8</text>
<text transform="translate(809.0,2153.8) rotate(-90)">9</text>
<text transform="translate(820.2,2153.8) rotate(-90)">10</text>
<text transform="translate(831.4,2153.8) rotate(-90)">11</text>
<text transform="translate(842.6,2153.8) rotate(-90)">12</text>
<text transform="translate(853.8,2153.8) rotate(-90)">13</text>
<text transform="translate(865.0,2153.8) rotate(-90)">14</text>
<text transform="translate(876.2,2153.8) rotate(-90)">15</text>
<text transform="translate(887.3,2153.8) rotate(-90)">16</text>
<text transform="translate(898.5,2153.8) rotate(-90)">17</text>
<text transform="translate(909.7,2153.8) rotate(-90)">18</text>
<text transform="translate(920.9,2153.8) rotate(-90)">19</text>
<text transform="translate(932.1,2153.8) rotate(-90)">20</text>
<text transform="translate(943.3,2153.8) rotate(-90)">21</text>
<text transform="translate(954.5,2153.8) rotate(-90)">22</text>
<text transform="translate(965.7,2153.8) rotate(-90)">23</text>
<text transform="translate(976.9,2153.8) rotate(-90)">24</text>
<text transform="translate(988.1,2153.8) rotate(-90)">25</text>
<text transform="translate(999.2,2153.8) rotate(-90)">26</text>
<text transform="translate(1010.4,2153.8) rotate(-90)">27</text>
<text transform="translate(1021.6,2153.8) rotate(-90)">28</text>
<text transform="translate(1032.8,2153.8) rotate(-90)">29</text>
<text transform="translate(1044.0,2153.8) rotate(-90)">30</text>
<text transform="translate(1055.2,2153.8) rotate(-90)">31</text>
<text transform="translate(1066.4,2153.8) rotate(-90)">32</text>
<text transform="translate(1077.6,2153.8) rotate(-90)">33</text>
<text transform="translate(1088.8,2153.8) rotate(-90)">34</text>
<text transform="translate(1100.0,2153.8) rotate(-90)">35</text>
<text transform="translate(1111.1,2153.8) rotate(-90)">36</text>
<text transform="translate(1122.3,2153.8) rotate(-90)">37</text>
<text transform="translate(1133.5,2153.8) rotate(-90)">38</text>
<text transform="translate(1144.7,2153.8) rotate(-90)">39</text>
<text transform="translate(1155.9,2153.8) rotate(-90)">40</text>
<text transform="translate(1167.1,2153.8) rotate(-90)">41</text>
<text transform="translate(1178.3,2153.8) rotate(-90)">42</text>
<text transform="translate(1189.5,2153.8) rotate(-90)">43</text>
<text transform="translate(1200.7,2153.8) rotate(-90)">44</text>
<text transform="translate(1211.9,2153.8) rotate(-90)">45</text>
<text transform="translate(1223.0,2153.8) rotate(-90)">46</text>
<text transform="translate(1234.2,2153.8) rotate(-90)">47</text>
<text transform="translate(1245.4,2153.8) rotate(-90)">48</text>
<text transform="translate(1256.6,2153.8) rotate(-90)">49</text>
<text transform="translate(1267.8,2153.8) rotate(-90)">50</text>
</g>
<rect x="1391.5" y="2029.8" width="29.3" height="26.3" fill="#DB6130"/>
<text x="1428.7" y="2055.8" font-size="28" font-weight="normal" fill="#000" stroke="#000" stroke-width="0.5">Motif 12</text>
<path d="M1317.5,2072.0V2153.0" stroke="#000" stroke-width="3"/>
<path d="M1313.0,2152.0H1317.5M1313.0,2133.7H1317.5M1313.0,2115.4H1317.5M1313.0,2097.1H1317.5M1313.0,2078.9H1317.5" stroke="#000" stroke-width="2"/>
<text font-size="4.5" font-weight="normal" fill="#555" text-anchor="middle" transform="translate(1307.5,2112.5) rotate(-90)">bits</text>
<text font-size="4" font-weight="normal" fill="#555" text-anchor="end" x="1312.0" y="2153.5">0</text>
<text font-size="4" font-weight="normal" fill="#555" text-anchor="end" x="1312.0" y="2135.2">1</text>
<text font-size="4" font-weight="normal" fill="#555" text-anchor="end" x="1312.0" y="2116.9">2</text>
<text font-size="4" font-weight="normal" fill="#555" text-anchor="end" x="1312.0" y="2098.6">3</text>
<text font-size="4" font-weight="normal" fill="#555" text-anchor="end" x="1312.0" y="2080.4">4</text>
<g class="lg">
<text class="m" transform="matrix(1.716 0 0 0.358 1317.11 2136.70)">E</text>
<text class="r" transform="matrix(1.517 0 0 0.358 1317.37 2142.49)">R</text>
<text class="g" transform="matrix(1.607 0 0 0.307 1318.48 2146.77)">S</text>
<text class="b" transform="matrix(1.435 0 0 0.316 1318.69 2151.17)">A</text>
<text class="g" transform="matrix(1.607 0 0 0.715 1338.54 2127.88)">S</text>
<text class="b" transform="matrix(1.876 0 0 0.505 1336.95 2135.83)">L</text>
<text class="b" transform="matrix(1.519 0 0 0.526 1338.94 2143.94)">Y</text>
<text class="b" transform="matrix(1.435 0 0 0.484 1338.75 2151.17)">A</text>
<text class="b" transform="matrix(1.474 0 0 0.526 1359.32 2132.36)">V</text>
<text class="b" transform="matrix(1.491 0 0 0.337 1357.53 2137.57)">K</text>
<text class="b" transform="matrix(1.435 0 0 0.526 1358.81 2145.38)">A</text>
<text class="g" transform="matrix(1.607 0 0 0.368 1358.60 2151.10)">S</text>
<text class="b" transform="matrix(1.435 0 0 0.673 1378.87 2135.83)">A</text>
<text class="y" transform="matrix(1.701 0 0 0.421 1377.30 2142.49)">P</text>
<text class="g" transform="matrix(1.635 0 0 0.273 1379.21 2146.83)">T</text>
<text class="g" transform="matrix(1.607 0 0 0.286 1378.66 2151.12)">S</text>
<text class="b" transform="matrix(1.474 0 0 1.472 1399.44 2132.36)">V</text>
<text class="b" transform="matrix(1.337 0 0 0.421 1405.56 2139.59)">I</text>
<text class="g" transform="matrix(1.607 0 0 0.409 1398.72 2148.20)">S</text>
<text class="o" transform="matrix(1.427 0 0 2.248 1418.53 2133.37)">G</text>
<text class="g" transform="matrix(1.635 0 0 0.273 1419.33 2138.15)">T</text>
<text class="m" transform="matrix(1.716 0 0 0.379 1417.41 2143.94)">E</text>
<text class="g" transform="matrix(1.607 0 0 0.266 1418.78 2148.23)">S</text>
<text class="b" transform="matrix(1.435 0 0 0.189 1418.99 2151.17)">A</text>
<text class="m" transform="matrix(1.491 0 0 0.294 1437.77 2138.73)">K</text>
<text class="m" transform="matrix(1.716 0 0 0.316 1437.47 2143.94)">E</text>
<text class="g" transform="matrix(1.607 0 0 0.245 1438.84 2147.94)">S</text>
<text class="b" transform="matrix(1.435 0 0 0.210 1439.05 2151.17)">A</text>
<text class="r" transform="matrix(1.491 0 0 0.547 1457.83 2137.57)">K</text>
<text class="m" transform="matrix(1.716 0 0 0.589 1457.53 2146.83)">E</text>
<text class="y" transform="matrix(1.701 0 0 0.294 1457.54 2151.17)">P</text>
<text class="b" transform="matrix(1.876 0 0 2.945 1477.37 2133.81)">L</text>
<text class="b" transform="matrix(1.337 0 0 0.568 1485.80 2142.49)">I</text>
<text class="b" transform="matrix(1.474 0 0 0.526 1479.68 2151.17)">V</text>
<text class="t" transform="matrix(1.519 0 0 0.841 1499.42 2125.99)">Y</text>
<text class="b" transform="matrix(1.876 0 0 0.631 1497.43 2135.83)">L</text>
<text class="b" transform="matrix(1.519 0 0 0.631 1499.42 2145.38)">Y</text>
<text class="g" transform="matrix(1.607 0 0 0.368 1499.02 2151.10)">S</text>
<text class="b" transform="matrix(1.474 0 0 2.314 1519.80 2133.81)">V</text>
<text class="b" transform="matrix(1.635 0 0 0.484 1519.63 2142.49)">T</text>
<text class="b" transform="matrix(1.377 0 0 0.421 1518.16 2149.73)">M</text>
<text class="b" transform="matrix(1.898 0 0 0.421 1537.52 2130.91)">F</text>
<text class="b" transform="matrix(1.474 0 0 0.568 1539.86 2139.59)">V</text>
<text class="g" transform="matrix(1.607 0 0 0.409 1539.14 2149.65)">S</text>
<text class="m" transform="matrix(1.716 0 0 0.252 1537.77 2143.65)">E</text>
<text class="o" transform="matrix(1.427 0 0 3.679 1558.95 2141.77)">G</text>
<text class="m" transform="matrix(1.607 0 0 0.409 1559.20 2149.65)">S</text>
<text class="o" transform="matrix(1.427 0 0 2.351 1579.01 2131.90)">G</text>
<text class="r" transform="matrix(1.517 0 0 0.841 1578.15 2145.38)">R</text>
<text class="b" transform="matrix(1.435 0 0 0.358 1579.47 2151.17)">A</text>
</g>
<g font-size="4.5" font-weight="normal" fill="#000" stroke="#000" stroke-width="0.25" text-anchor="end">
<text transform="translate(1330.6,2154.2) rotate(-90)">1</text>
<text transform="translate(1350.7,2154.2) rotate(-90)">2</text>
<text transform="translate(1370.8,2154.2) rotate(-90)">3</text>
<text transform="translate(1390.8,2154.2) rotate(-90)">4</text>
<text transform="translate(1410.9,2154.2) rotate(-90)">5</text>
<text transform="translate(1430.9,2154.2) rotate(-90)">6</text>
<text transform="translate(1451.0,2154.2) rotate(-90)">7</text>
<text transform="translate(1471.1,2154.2) rotate(-90)">8</text>
<text transform="translate(1491.1,2154.2) rotate(-90)">9</text>
<text transform="translate(1511.2,2154.2) rotate(-90)">10</text>
<text transform="translate(1531.2,2154.2) rotate(-90)">11</text>
<text transform="translate(1551.3,2154.2) rotate(-90)">12</text>
<text transform="translate(1571.4,2154.2) rotate(-90)">13</text>
<text transform="translate(1591.4,2154.2) rotate(-90)">14</text>
</g>
<rect x="173.0" y="2183.9" width="29.3" height="26.3" fill="#56C297"/>
<text x="213.7" y="2207.7" font-size="28" font-weight="normal" fill="#000" stroke="#000" stroke-width="0.5">Motif 13</text>
<path d="M48.5,2225.5V2306.7" stroke="#000" stroke-width="3"/>
<path d="M44.0,2305.7H48.5M44.0,2287.4H48.5M44.0,2269.0H48.5M44.0,2250.7H48.5M44.0,2232.4H48.5" stroke="#000" stroke-width="2"/>
<text font-size="4.5" font-weight="normal" fill="#555" text-anchor="middle" transform="translate(38.5,2266.1) rotate(-90)">bits</text>
<text font-size="4" font-weight="normal" fill="#555" text-anchor="end" x="43.0" y="2307.2">0</text>
<text font-size="4" font-weight="normal" fill="#555" text-anchor="end" x="43.0" y="2288.9">1</text>
<text font-size="4" font-weight="normal" fill="#555" text-anchor="end" x="43.0" y="2270.5">2</text>
<text font-size="4" font-weight="normal" fill="#555" text-anchor="end" x="43.0" y="2252.2">3</text>
<text font-size="4" font-weight="normal" fill="#555" text-anchor="end" x="43.0" y="2233.9">4</text>
<g class="lg">
<text class="h" transform="matrix(0.910 0 0 5.729 49.01 2305.67)">H</text>
<text class="g" transform="matrix(0.893 0 0 5.567 60.86 2304.58)">S</text>
<text class="t" transform="matrix(0.844 0 0 5.729 72.23 2305.67)">Y</text>
<text class="g" transform="matrix(0.910 0 0 2.358 82.46 2276.08)">N</text>
<text class="b" transform="matrix(0.798 0 0 2.081 83.28 2305.67)">A</text>
<text class="b" transform="matrix(0.819 0 0 5.729 94.71 2305.67)">V</text>
<text class="g" transform="matrix(0.893 0 0 5.567 105.46 2304.58)">S</text>
<text class="b" transform="matrix(0.743 0 0 5.729 120.41 2305.67)">I</text>
<text class="b" transform="matrix(0.819 0 0 5.729 128.16 2305.67)">V</text>
<text class="r" transform="matrix(0.828 0 0 5.729 138.31 2305.67)">K</text>
<text class="g" transform="matrix(0.893 0 0 5.567 150.06 2304.58)">S</text>
<text class="r" transform="matrix(0.828 0 0 5.729 160.61 2305.67)">K</text>
<text class="g" transform="matrix(0.770 0 0 4.404 172.24 2288.33)">Q</text>
<text class="b" transform="matrix(0.819 0 0 5.729 183.91 2305.67)">V</text>
<text class="y" transform="matrix(0.946 0 0 5.729 193.91 2305.67)">P</text>
<text class="m" transform="matrix(0.954 0 0 5.729 205.05 2305.67)">E</text>
<text class="g" transform="matrix(0.910 0 0 5.729 216.26 2305.67)">N</text>
<text class="b" transform="matrix(1.055 0 0 5.729 227.21 2305.67)">F</text>
<text class="b" transform="matrix(1.055 0 0 5.729 238.36 2305.67)">F</text>
<text class="g" transform="matrix(0.770 0 0 4.404 250.29 2288.33)">Q</text>
<text class="b" transform="matrix(0.568 0 0 5.729 262.06 2305.67)">W</text>
<text class="m" transform="matrix(0.873 0 0 5.729 272.06 2305.67)">D</text>
<text class="b" transform="matrix(1.043 0 0 5.729 282.98 2305.67)">L</text>
<text class="g" transform="matrix(0.893 0 0 5.567 295.01 2304.58)">S</text>
<text class="b" transform="matrix(0.743 0 0 5.729 309.96 2305.67)">I</text>
<text class="h" transform="matrix(0.910 0 0 5.729 316.61 2305.67)">H</text>
<text class="b" transform="matrix(1.043 0 0 5.729 327.58 2305.67)">L</text>
<text class="t" transform="matrix(0.844 0 0 5.729 339.83 2305.67)">Y</text>
<text class="m" transform="matrix(0.873 0 0 5.729 350.11 2305.67)">D</text>
<text class="g" transform="matrix(0.893 0 0 5.567 361.91 2304.58)">S</text>
<text class="m" transform="matrix(0.954 0 0 5.729 372.30 2305.67)">E</text>
<text class="g" transform="matrix(0.909 0 0 2.289 384.52 2275.13)">T</text>
<text class="b" transform="matrix(0.798 0 0 2.150 384.33 2305.67)">A</text>
<text class="g" transform="matrix(0.909 0 0 2.289 395.67 2275.13)">T</text>
<text class="r" transform="matrix(0.843 0 0 2.150 394.74 2305.67)">R</text>
<text class="g" transform="matrix(0.909 0 0 2.289 406.82 2275.13)">T</text>
<text class="m" transform="matrix(0.954 0 0 2.150 405.75 2305.67)">E</text>
<text class="b" transform="matrix(0.568 0 0 5.729 418.16 2305.67)">W</text>
<text class="b" transform="matrix(1.043 0 0 2.220 427.93 2274.17)">L</text>
<text class="b" transform="matrix(0.798 0 0 2.220 428.93 2305.67)">A</text>
<text class="g" transform="matrix(0.909 0 0 5.729 440.27 2305.67)">T</text>
<text class="m" transform="matrix(0.873 0 0 1.734 450.46 2274.17)">D</text>
<text class="b" transform="matrix(0.798 0 0 2.220 451.23 2305.67)">A</text>
<text class="b" transform="matrix(1.043 0 0 5.729 461.38 2305.67)">L</text>
<text class="g" transform="matrix(0.909 0 0 5.729 473.72 2305.67)">T</text>
<text class="m" transform="matrix(0.954 0 0 5.729 483.80 2305.67)">E</text>
<text class="b" transform="matrix(0.819 0 0 5.729 496.11 2305.67)">V</text>
<text class="b" transform="matrix(1.043 0 0 5.729 505.98 2305.67)">L</text>
<text class="g" transform="matrix(0.909 0 0 5.729 518.32 2305.67)">T</text>
<text class="o" transform="matrix(0.793 0 0 5.567 529.02 2304.58)">G</text>
<text class="b" transform="matrix(0.568 0 0 5.729 540.81 2305.67)">W</text>
<text class="r" transform="matrix(0.843 0 0 5.729 550.84 2305.67)">R</text>
<text class="o" transform="matrix(0.793 0 0 1.483 562.47 2271.97)">G</text>
<text class="b" transform="matrix(0.798 0 0 2.289 562.73 2305.67)">A</text>
<text class="o" transform="matrix(0.793 0 0 5.567 573.62 2304.58)">G</text>
<text class="m" transform="matrix(0.873 0 0 5.729 584.26 2305.67)">D</text>
<text class="m" transform="matrix(0.954 0 0 5.729 595.30 2305.67)">E</text>
</g>
<g font-size="3.9" font-weight="normal" fill="#000" stroke="#000" stroke-width="0.25" text-anchor="end">
<text transform="translate(57.0,2307.9) rotate(-90)">1</text>
<text transform="translate(68.1,2307.9) rotate(-90)">2</text>
<text transform="translate(79.3,2307.9) rotate(-90)">3</text>
<text transform="translate(90.4,2307.9) rotate(-90)">4</text>
<text transform="translate(101.6,2307.9) rotate(-90)">5</text>
<text transform="translate(112.7,2307.9) rotate(-90)">6</text>
<text transform="translate(123.9,2307.9) rotate(-90)">7</text>
<text transform="translate(135.0,2307.9) rotate(-90)">8</text>
<text transform="translate(146.2,2307.9) rotate(-90)">9</text>
<text transform="translate(157.3,2307.9) rotate(-90)">10</text>
<text transform="translate(168.5,2307.9) rotate(-90)">11</text>
<text transform="translate(179.6,2307.9) rotate(-90)">12</text>
<text transform="translate(190.8,2307.9) rotate(-90)">13</text>
<text transform="translate(201.9,2307.9) rotate(-90)">14</text>
<text transform="translate(213.1,2307.9) rotate(-90)">15</text>
<text transform="translate(224.2,2307.9) rotate(-90)">16</text>
<text transform="translate(235.4,2307.9) rotate(-90)">17</text>
<text transform="translate(246.5,2307.9) rotate(-90)">18</text>
<text transform="translate(257.7,2307.9) rotate(-90)">19</text>
<text transform="translate(268.8,2307.9) rotate(-90)">20</text>
<text transform="translate(280.0,2307.9) rotate(-90)">21</text>
<text transform="translate(291.1,2307.9) rotate(-90)">22</text>
<text transform="translate(302.3,2307.9) rotate(-90)">23</text>
<text transform="translate(313.4,2307.9) rotate(-90)">24</text>
<text transform="translate(324.6,2307.9) rotate(-90)">25</text>
<text transform="translate(335.7,2307.9) rotate(-90)">26</text>
<text transform="translate(346.9,2307.9) rotate(-90)">27</text>
<text transform="translate(358.0,2307.9) rotate(-90)">28</text>
<text transform="translate(369.2,2307.9) rotate(-90)">29</text>
<text transform="translate(380.3,2307.9) rotate(-90)">30</text>
<text transform="translate(391.5,2307.9) rotate(-90)">31</text>
<text transform="translate(402.6,2307.9) rotate(-90)">32</text>
<text transform="translate(413.8,2307.9) rotate(-90)">33</text>
<text transform="translate(424.9,2307.9) rotate(-90)">34</text>
<text transform="translate(436.1,2307.9) rotate(-90)">35</text>
<text transform="translate(447.2,2307.9) rotate(-90)">36</text>
<text transform="translate(458.4,2307.9) rotate(-90)">37</text>
<text transform="translate(469.5,2307.9) rotate(-90)">38</text>
<text transform="translate(480.7,2307.9) rotate(-90)">39</text>
<text transform="translate(491.8,2307.9) rotate(-90)">40</text>
<text transform="translate(503.0,2307.9) rotate(-90)">41</text>
<text transform="translate(514.1,2307.9) rotate(-90)">42</text>
<text transform="translate(525.3,2307.9) rotate(-90)">43</text>
<text transform="translate(536.4,2307.9) rotate(-90)">44</text>
<text transform="translate(547.6,2307.9) rotate(-90)">45</text>
<text transform="translate(558.7,2307.9) rotate(-90)">46</text>
<text transform="translate(569.9,2307.9) rotate(-90)">47</text>
<text transform="translate(581.0,2307.9) rotate(-90)">48</text>
<text transform="translate(592.2,2307.9) rotate(-90)">49</text>
<text transform="translate(603.3,2307.9) rotate(-90)">50</text>
</g>
<rect x="835.1" y="2186.1" width="29.3" height="26.3" fill="#F290AC"/>
<text x="876.3" y="2210.7" font-size="28" font-weight="normal" fill="#000" stroke="#000" stroke-width="0.5">Motif 14</text>
<path d="M710.0,2230.7V2310.0" stroke="#000" stroke-width="3"/>
<path d="M705.5,2309.0H710.0M705.5,2291.1H710.0M705.5,2273.2H710.0M705.5,2255.3H710.0M705.5,2237.4H710.0" stroke="#000" stroke-width="2"/>
<text font-size="4.5" font-weight="normal" fill="#555" text-anchor="middle" transform="translate(700.0,2270.3) rotate(-90)">bits</text>
<text font-size="4" font-weight="normal" fill="#555" text-anchor="end" x="704.5" y="2310.5">0</text>
<text font-size="4" font-weight="normal" fill="#555" text-anchor="end" x="704.5" y="2292.6">1</text>
<text font-size="4" font-weight="normal" fill="#555" text-anchor="end" x="704.5" y="2274.7">2</text>
<text font-size="4" font-weight="normal" fill="#555" text-anchor="end" x="704.5" y="2256.8">3</text>
<text font-size="4" font-weight="normal" fill="#555" text-anchor="end" x="704.5" y="2238.9">4</text>
<g class="lg">
<text class="r" transform="matrix(1.512 0 0 2.081 709.78 2276.54)">R</text>
<text class="r" transform="matrix(1.485 0 0 2.289 709.81 2308.99)">K</text>
<text class="g" transform="matrix(1.602 0 0 1.887 730.87 2276.17)">S</text>
<text class="b" transform="matrix(1.430 0 0 2.081 731.08 2308.99)">A</text>
<text class="b" transform="matrix(1.468 0 0 1.752 750.58 2281.92)">C</text>
<text class="t" transform="matrix(1.514 0 0 0.763 751.26 2293.72)">Y</text>
<text class="b" transform="matrix(1.019 0 0 1.040 751.76 2308.99)">W</text>
<text class="o" transform="matrix(1.422 0 0 5.190 770.60 2304.15)">G</text>
<text class="m" transform="matrix(1.565 0 0 3.468 789.67 2292.76)">D</text>
<text class="g" transform="matrix(1.381 0 0 0.693 790.63 2306.26)">Q</text>
<text class="r" transform="matrix(1.512 0 0 2.011 809.73 2277.49)">R</text>
<text class="b" transform="matrix(1.430 0 0 2.081 811.04 2308.99)">A</text>
<text class="b" transform="matrix(1.870 0 0 5.618 829.24 2308.99)">L</text>
<text class="b" transform="matrix(1.870 0 0 1.803 849.23 2282.26)">L</text>
<text class="b" transform="matrix(1.372 0 0 0.902 849.89 2295.62)">M</text>
<text class="b" transform="matrix(1.332 0 0 0.902 857.62 2308.99)">I</text>
<text class="b" transform="matrix(1.469 0 0 5.618 871.52 2308.99)">V</text>
<text class="b" transform="matrix(1.469 0 0 2.220 891.51 2280.35)">V</text>
<text class="b" transform="matrix(1.332 0 0 2.011 897.60 2308.99)">I</text>
<text class="o" transform="matrix(1.422 0 0 5.459 910.53 2307.92)">G</text>
<text class="o" transform="matrix(1.422 0 0 5.459 930.52 2307.92)">G</text>
<text class="g" transform="matrix(1.381 0 0 1.493 950.55 2272.57)">Q</text>
<text class="y" transform="matrix(1.696 0 0 1.942 949.41 2308.99)">P</text>
<text class="r" transform="matrix(1.512 0 0 1.942 969.65 2284.17)">R</text>
<text class="r" transform="matrix(1.485 0 0 0.763 969.68 2295.62)">K</text>
<text class="h" transform="matrix(1.632 0 0 0.832 969.49 2308.99)">H</text>
<text class="o" transform="matrix(1.422 0 0 1.483 990.49 2278.16)">G</text>
<text class="g" transform="matrix(1.602 0 0 0.876 990.74 2294.50)">S</text>
<text class="g" transform="matrix(1.632 0 0 0.971 989.48 2308.99)">N</text>
<text class="y" transform="matrix(1.696 0 0 2.150 1009.38 2277.49)">P</text>
<text class="b" transform="matrix(1.430 0 0 2.150 1010.94 2308.99)">A</text>
<text class="o" transform="matrix(1.422 0 0 2.089 1030.47 2277.08)">G</text>
<text class="m" transform="matrix(1.710 0 0 2.150 1029.35 2308.99)">E</text>
<text class="o" transform="matrix(1.422 0 0 2.089 1050.46 2277.08)">G</text>
<text class="m" transform="matrix(1.710 0 0 2.150 1049.34 2308.99)">E</text>
<text class="o" transform="matrix(1.422 0 0 2.089 1070.45 2277.08)">G</text>
<text class="m" transform="matrix(1.710 0 0 2.150 1069.33 2308.99)">E</text>
<text class="b" transform="matrix(1.891 0 0 1.803 1089.08 2282.26)">F</text>
<text class="g" transform="matrix(1.629 0 0 0.832 1091.24 2295.62)">T</text>
<text class="g" transform="matrix(1.602 0 0 0.876 1090.69 2308.81)">S</text>
<text class="b" transform="matrix(1.332 0 0 5.618 1117.49 2308.99)">I</text>
<text class="m" transform="matrix(1.710 0 0 1.803 1129.30 2282.26)">E</text>
<text class="b" transform="matrix(1.478 0 0 0.971 1131.33 2296.58)">X</text>
<text class="b" transform="matrix(1.430 0 0 0.832 1130.88 2308.99)">A</text>
<text class="b" transform="matrix(1.469 0 0 2.150 1151.38 2277.49)">V</text>
<text class="b" transform="matrix(1.870 0 0 2.150 1149.08 2308.99)">L</text>
<text class="g" transform="matrix(1.632 0 0 5.618 1169.39 2308.99)">N</text>
<text class="g" transform="matrix(1.602 0 0 1.618 1190.64 2280.04)">S</text>
<text class="g" transform="matrix(1.629 0 0 1.942 1191.19 2308.99)">T</text>
<text class="b" transform="matrix(1.019 0 0 5.618 1211.53 2308.99)">W</text>
<text class="b" transform="matrix(1.469 0 0 1.803 1231.34 2282.26)">V</text>
<text class="r" transform="matrix(1.512 0 0 0.832 1229.52 2295.62)">R</text>
<text class="h" transform="matrix(1.632 0 0 0.902 1229.36 2308.99)">H</text>
<text class="y" transform="matrix(1.696 0 0 5.618 1249.26 2308.99)">P</text>
</g>
<g font-size="4.5" font-weight="normal" fill="#000" stroke="#000" stroke-width="0.25" text-anchor="end">
<text transform="translate(723.0,2311.2) rotate(-90)">1</text>
<text transform="translate(743.0,2311.2) rotate(-90)">2</text>
<text transform="translate(763.0,2311.2) rotate(-90)">3</text>
<text transform="translate(783.0,2311.2) rotate(-90)">4</text>
<text transform="translate(803.0,2311.2) rotate(-90)">5</text>
<text transform="translate(823.0,2311.2) rotate(-90)">6</text>
<text transform="translate(843.0,2311.2) rotate(-90)">7</text>
<text transform="translate(862.9,2311.2) rotate(-90)">8</text>
<text transform="translate(882.9,2311.2) rotate(-90)">9</text>
<text transform="translate(902.9,2311.2) rotate(-90)">10</text>
<text transform="translate(922.9,2311.2) rotate(-90)">11</text>
<text transform="translate(942.9,2311.2) rotate(-90)">12</text>
<text transform="translate(962.9,2311.2) rotate(-90)">13</text>
<text transform="translate(982.9,2311.2) rotate(-90)">14</text>
<text transform="translate(1002.9,2311.2) rotate(-90)">15</text>
<text transform="translate(1022.9,2311.2) rotate(-90)">16</text>
<text transform="translate(1042.9,2311.2) rotate(-90)">17</text>
<text transform="translate(1062.8,2311.2) rotate(-90)">18</text>
<text transform="translate(1082.8,2311.2) rotate(-90)">19</text>
<text transform="translate(1102.8,2311.2) rotate(-90)">20</text>
<text transform="translate(1122.8,2311.2) rotate(-90)">21</text>
<text transform="translate(1142.8,2311.2) rotate(-90)">22</text>
<text transform="translate(1162.8,2311.2) rotate(-90)">23</text>
<text transform="translate(1182.8,2311.2) rotate(-90)">24</text>
<text transform="translate(1202.8,2311.2) rotate(-90)">25</text>
<text transform="translate(1222.8,2311.2) rotate(-90)">26</text>
<text transform="translate(1242.8,2311.2) rotate(-90)">27</text>
<text transform="translate(1262.7,2311.2) rotate(-90)">28</text>
</g>
<text x="1211.0" y="2319.5" font-size="3.6" font-weight="normal" fill="#888" textLength="64" lengthAdjust="spacingAndGlyphs">MEME (no SSC) 02.03.2022 14:37</text>
<rect x="1398.5" y="2179.5" width="29.3" height="26.3" fill="#1375D6"/>
<text x="1441.4" y="2203.0" font-size="28" font-weight="normal" fill="#000" stroke="#000" stroke-width="0.5">Motif 15</text>
<path d="M1314.0,2228.3V2308.6" stroke="#000" stroke-width="3"/>
<path d="M1309.5,2307.6H1314.0M1309.5,2289.5H1314.0M1309.5,2271.3H1314.0M1309.5,2253.2H1314.0M1309.5,2235.1H1314.0" stroke="#000" stroke-width="2"/>
<text font-size="4.5" font-weight="normal" fill="#555" text-anchor="middle" transform="translate(1304.0,2268.4) rotate(-90)">bits</text>
<text font-size="4" font-weight="normal" fill="#555" text-anchor="end" x="1308.5" y="2309.1">0</text>
<text font-size="4" font-weight="normal" fill="#555" text-anchor="end" x="1308.5" y="2291.0">1</text>
<text font-size="4" font-weight="normal" fill="#555" text-anchor="end" x="1308.5" y="2272.8">2</text>
<text font-size="4" font-weight="normal" fill="#555" text-anchor="end" x="1308.5" y="2254.7">3</text>
<text font-size="4" font-weight="normal" fill="#555" text-anchor="end" x="1308.5" y="2236.6">4</text>
<g class="lg">
<text class="b" transform="matrix(1.892 0 0 5.688 1313.87 2307.57)">F</text>
<text class="b" transform="matrix(1.469 0 0 2.220 1336.20 2277.99)">V</text>
<text class="b" transform="matrix(1.333 0 0 2.081 1342.30 2307.57)">I</text>
<text class="b" transform="matrix(1.469 0 0 5.688 1356.20 2307.57)">V</text>
<text class="t" transform="matrix(1.515 0 0 5.688 1375.88 2307.57)">Y</text>
<text class="g" transform="matrix(1.633 0 0 5.688 1394.22 2307.57)">N</text>
<text class="y" transform="matrix(1.696 0 0 2.982 1414.13 2288.49)">P</text>
<text class="b" transform="matrix(1.431 0 0 1.248 1415.69 2307.57)">A</text>
<text class="r" transform="matrix(1.486 0 0 5.688 1434.41 2307.57)">K</text>
<text class="m" transform="matrix(1.565 0 0 2.844 1454.31 2286.58)">D</text>
<text class="g" transform="matrix(1.382 0 0 1.013 1455.27 2303.59)">Q</text>
<text class="o" transform="matrix(1.423 0 0 1.011 1475.23 2273.02)">G</text>
<text class="m" transform="matrix(1.565 0 0 1.110 1474.31 2290.40)">D</text>
<text class="b" transform="matrix(1.431 0 0 1.179 1475.69 2307.57)">A</text>
<text class="g" transform="matrix(1.602 0 0 5.527 1495.48 2306.50)">S</text>
<text class="b" transform="matrix(1.892 0 0 5.688 1513.87 2307.57)">F</text>
<text class="r" transform="matrix(1.512 0 0 5.688 1534.38 2307.57)">R</text>
<text class="t" transform="matrix(1.515 0 0 1.110 1555.88 2274.17)">Y</text>
<text class="r" transform="matrix(1.512 0 0 1.040 1554.38 2290.40)">R</text>
<text class="b" transform="matrix(1.468 0 0 1.146 1555.20 2307.35)">C</text>
<text class="y" transform="matrix(1.696 0 0 5.688 1574.13 2307.57)">P</text>
<text class="r" transform="matrix(1.512 0 0 1.803 1594.38 2272.26)">R</text>
<text class="r" transform="matrix(1.486 0 0 2.497 1594.41 2307.57)">K</text>
<text class="b" transform="matrix(1.333 0 0 5.688 1622.30 2307.57)">I</text>
<text class="g" transform="matrix(1.630 0 0 1.248 1636.03 2275.13)">T</text>
<text class="g" transform="matrix(1.602 0 0 1.078 1635.48 2291.14)">S</text>
<text class="r" transform="matrix(1.512 0 0 1.110 1634.38 2307.57)">R</text>
<text class="g" transform="matrix(1.633 0 0 5.688 1654.22 2307.57)">N</text>
<text class="b" transform="matrix(1.469 0 0 1.110 1676.20 2274.17)">V</text>
<text class="g" transform="matrix(1.630 0 0 0.971 1676.03 2288.49)">T</text>
<text class="b" transform="matrix(1.333 0 0 1.318 1682.30 2307.57)">I</text>
<text class="o" transform="matrix(1.423 0 0 2.696 1695.23 2285.10)">G</text>
<text class="m" transform="matrix(1.565 0 0 1.457 1694.31 2307.57)">D</text>
<text class="g" transform="matrix(1.630 0 0 2.774 1716.03 2285.62)">T</text>
<text class="m" transform="matrix(1.711 0 0 1.457 1714.11 2307.57)">E</text>
<text class="b" transform="matrix(1.892 0 0 2.774 1733.87 2285.62)">F</text>
<text class="g" transform="matrix(1.602 0 0 1.415 1735.48 2307.30)">S</text>
<text class="b" transform="matrix(1.871 0 0 5.688 1753.90 2307.57)">L</text>
<text class="m" transform="matrix(1.711 0 0 2.774 1774.11 2285.62)">E</text>
<text class="g" transform="matrix(1.602 0 0 1.415 1775.48 2307.30)">S</text>
<text class="b" transform="matrix(1.431 0 0 2.774 1795.69 2285.62)">A</text>
<text class="b" transform="matrix(1.469 0 0 1.526 1796.20 2307.57)">V</text>
<text class="m" transform="matrix(1.565 0 0 2.774 1814.31 2285.62)">D</text>
<text class="o" transform="matrix(1.423 0 0 1.348 1815.23 2307.31)">G</text>
<text class="b" transform="matrix(1.469 0 0 2.982 1836.20 2287.53)">V</text>
<text class="b" transform="matrix(1.333 0 0 1.387 1842.30 2307.57)">I</text>
<text class="t" transform="matrix(1.515 0 0 5.688 1855.88 2307.57)">Y</text>
</g>
<g font-size="4.5" font-weight="normal" fill="#000" stroke="#000" stroke-width="0.25" text-anchor="end">
<text transform="translate(1327.6,2309.8) rotate(-90)">1</text>
<text transform="translate(1347.6,2309.8) rotate(-90)">2</text>
<text transform="translate(1367.6,2309.8) rotate(-90)">3</text>
<text transform="translate(1387.6,2309.8) rotate(-90)">4</text>
<text transform="translate(1407.6,2309.8) rotate(-90)">5</text>
<text transform="translate(1427.6,2309.8) rotate(-90)">6</text>
<text transform="translate(1447.6,2309.8) rotate(-90)">7</text>
<text transform="translate(1467.6,2309.8) rotate(-90)">8</text>
<text transform="translate(1487.6,2309.8) rotate(-90)">9</text>
<text transform="translate(1507.6,2309.8) rotate(-90)">10</text>
<text transform="translate(1527.6,2309.8) rotate(-90)">11</text>
<text transform="translate(1547.6,2309.8) rotate(-90)">12</text>
<text transform="translate(1567.6,2309.8) rotate(-90)">13</text>
<text transform="translate(1587.6,2309.8) rotate(-90)">14</text>
<text transform="translate(1607.6,2309.8) rotate(-90)">15</text>
<text transform="translate(1627.6,2309.8) rotate(-90)">16</text>
<text transform="translate(1647.6,2309.8) rotate(-90)">17</text>
<text transform="translate(1667.6,2309.8) rotate(-90)">18</text>
<text transform="translate(1687.6,2309.8) rotate(-90)">19</text>
<text transform="translate(1707.6,2309.8) rotate(-90)">20</text>
<text transform="translate(1727.6,2309.8) rotate(-90)">21</text>
<text transform="translate(1747.6,2309.8) rotate(-90)">22</text>
<text transform="translate(1767.6,2309.8) rotate(-90)">23</text>
<text transform="translate(1787.6,2309.8) rotate(-90)">24</text>
<text transform="translate(1807.6,2309.8) rotate(-90)">25</text>
<text transform="translate(1827.6,2309.8) rotate(-90)">26</text>
<text transform="translate(1847.6,2309.8) rotate(-90)">27</text>
<text transform="translate(1867.6,2309.8) rotate(-90)">28</text>
</g>
<rect x="172.6" y="2328.0" width="29.3" height="26.3" fill="#C7000E"/>
<text x="214.4" y="2351.6" font-size="28" font-weight="normal" fill="#000" stroke="#000" stroke-width="0.5">Motif 16</text>
<path d="M42.0,2374.5V2454.8" stroke="#000" stroke-width="3"/>
<path d="M37.5,2453.8H42.0M37.5,2435.7H42.0M37.5,2417.6H42.0M37.5,2399.4H42.0M37.5,2381.3H42.0" stroke="#000" stroke-width="2"/>
<text font-size="4.5" font-weight="normal" fill="#555" text-anchor="middle" transform="translate(32.0,2414.7) rotate(-90)">bits</text>
<text font-size="4" font-weight="normal" fill="#555" text-anchor="end" x="36.5" y="2455.3">0</text>
<text font-size="4" font-weight="normal" fill="#555" text-anchor="end" x="36.5" y="2437.2">1</text>
<text font-size="4" font-weight="normal" fill="#555" text-anchor="end" x="36.5" y="2419.1">2</text>
<text font-size="4" font-weight="normal" fill="#555" text-anchor="end" x="36.5" y="2400.9">3</text>
<text font-size="4" font-weight="normal" fill="#555" text-anchor="end" x="36.5" y="2382.8">4</text>
<g class="lg">
<text class="b" transform="matrix(1.892 0 0 5.688 41.77 2453.76)">F</text>
<text class="b" transform="matrix(1.469 0 0 3.329 64.10 2437.53)">V</text>
<text class="b" transform="matrix(1.333 0 0 1.110 70.20 2453.76)">I</text>
<text class="t" transform="matrix(1.515 0 0 3.191 83.78 2435.62)">Y</text>
<text class="b" transform="matrix(1.019 0 0 1.110 84.28 2453.76)">W</text>
<text class="g" transform="matrix(1.633 0 0 5.688 102.12 2453.76)">N</text>
<text class="b" transform="matrix(1.468 0 0 5.527 123.10 2452.68)">C</text>
<text class="b" transform="matrix(1.431 0 0 3.329 143.59 2435.62)">A</text>
<text class="g" transform="matrix(1.602 0 0 1.146 143.38 2453.53)">S</text>
<text class="b" transform="matrix(1.469 0 0 5.688 164.10 2453.76)">V</text>
<text class="b" transform="matrix(1.373 0 0 5.688 182.46 2453.76)">M</text>
<text class="o" transform="matrix(1.423 0 0 3.168 203.13 2435.96)">G</text>
<text class="b" transform="matrix(1.871 0 0 1.110 201.80 2453.76)">L</text>
<text class="b" transform="matrix(1.468 0 0 3.303 223.10 2435.93)">C</text>
<text class="b" transform="matrix(1.431 0 0 1.110 223.59 2453.76)">A</text>
</g>
<g font-size="4.5" font-weight="normal" fill="#000" stroke="#000" stroke-width="0.25" text-anchor="end">
<text transform="translate(55.5,2456.0) rotate(-90)">1</text>
<text transform="translate(75.5,2456.0) rotate(-90)">2</text>
<text transform="translate(95.5,2456.0) rotate(-90)">3</text>
<text transform="translate(115.5,2456.0) rotate(-90)">4</text>
<text transform="translate(135.5,2456.0) rotate(-90)">5</text>
<text transform="translate(155.5,2456.0) rotate(-90)">6</text>
<text transform="translate(175.5,2456.0) rotate(-90)">7</text>
<text transform="translate(195.5,2456.0) rotate(-90)">8</text>
<text transform="translate(215.5,2456.0) rotate(-90)">9</text>
<text transform="translate(235.5,2456.0) rotate(-90)">10</text>
</g>
<rect x="837.3" y="2328.0" width="29.3" height="26.3" fill="#5C0000"/>
<text x="878.7" y="2351.6" font-size="28" font-weight="normal" fill="#000" stroke="#000" stroke-width="0.5">Motif 17</text>
<path d="M713.8,2378.9V2459.5" stroke="#000" stroke-width="3"/>
<path d="M709.3,2458.5H713.8M709.3,2440.3H713.8M709.3,2422.1H713.8M709.3,2403.9H713.8M709.3,2385.7H713.8" stroke="#000" stroke-width="2"/>
<text font-size="4.5" font-weight="normal" fill="#555" text-anchor="middle" transform="translate(703.8,2419.2) rotate(-90)">bits</text>
<text font-size="4" font-weight="normal" fill="#555" text-anchor="end" x="708.3" y="2460.0">0</text>
<text font-size="4" font-weight="normal" fill="#555" text-anchor="end" x="708.3" y="2441.8">1</text>
<text font-size="4" font-weight="normal" fill="#555" text-anchor="end" x="708.3" y="2423.6">2</text>
<text font-size="4" font-weight="normal" fill="#555" text-anchor="end" x="708.3" y="2405.4">3</text>
<text font-size="4" font-weight="normal" fill="#555" text-anchor="end" x="708.3" y="2387.2">4</text>
<g class="lg">
<text class="y" transform="matrix(1.695 0 0 5.710 713.83 2458.47)">P</text>
<text class="h" transform="matrix(1.631 0 0 5.710 733.90 2458.47)">H</text>
<text class="r" transform="matrix(1.485 0 0 5.710 754.07 2458.47)">K</text>
<text class="t" transform="matrix(1.513 0 0 5.710 775.52 2458.47)">Y</text>
<text class="b" transform="matrix(1.890 0 0 5.710 793.49 2458.47)">F</text>
<text class="g" transform="matrix(1.380 0 0 4.389 814.87 2441.20)">Q</text>
<text class="o" transform="matrix(1.421 0 0 5.549 834.81 2457.39)">G</text>
<text class="b" transform="matrix(1.890 0 0 5.710 853.43 2458.47)">F</text>
<text class="o" transform="matrix(1.421 0 0 5.549 874.77 2457.39)">G</text>
<text class="m" transform="matrix(1.709 0 0 5.710 893.63 2458.47)">E</text>
<text class="b" transform="matrix(1.869 0 0 1.871 913.40 2423.25)">L</text>
<text class="b" transform="matrix(1.890 0 0 2.461 913.37 2458.47)">F</text>
<text class="m" transform="matrix(1.564 0 0 5.710 933.79 2458.47)">D</text>
<text class="m" transform="matrix(1.564 0 0 5.710 953.77 2458.47)">D</text>
<text class="b" transform="matrix(1.468 0 0 5.710 975.64 2458.47)">V</text>
<text class="b" transform="matrix(1.890 0 0 5.710 993.29 2458.47)">F</text>
<text class="b" transform="matrix(1.429 0 0 5.710 1015.09 2458.47)">A</text>
<text class="g" transform="matrix(1.601 0 0 5.549 1034.86 2457.39)">S</text>
<text class="g" transform="matrix(1.601 0 0 5.549 1054.84 2457.39)">S</text>
<text class="o" transform="matrix(1.421 0 0 5.549 1074.57 2457.39)">G</text>
<text class="g" transform="matrix(1.629 0 0 5.710 1095.35 2458.47)">T</text>
</g>
<g font-size="4.5" font-weight="normal" fill="#000" stroke="#000" stroke-width="0.25" text-anchor="end">
<text transform="translate(727.3,2460.7) rotate(-90)">1</text>
<text transform="translate(747.3,2460.7) rotate(-90)">2</text>
<text transform="translate(767.3,2460.7) rotate(-90)">3</text>
<text transform="translate(787.3,2460.7) rotate(-90)">4</text>
<text transform="translate(807.2,2460.7) rotate(-90)">5</text>
<text transform="translate(827.2,2460.7) rotate(-90)">6</text>
<text transform="translate(847.2,2460.7) rotate(-90)">7</text>
<text transform="translate(867.2,2460.7) rotate(-90)">8</text>
<text transform="translate(887.2,2460.7) rotate(-90)">9</text>
<text transform="translate(907.1,2460.7) rotate(-90)">10</text>
<text transform="translate(927.1,2460.7) rotate(-90)">11</text>
<text transform="translate(947.1,2460.7) rotate(-90)">12</text>
<text transform="translate(967.1,2460.7) rotate(-90)">13</text>
<text transform="translate(987.1,2460.7) rotate(-90)">14</text>
<text transform="translate(1007.0,2460.7) rotate(-90)">15</text>
<text transform="translate(1027.0,2460.7) rotate(-90)">16</text>
<text transform="translate(1047.0,2460.7) rotate(-90)">17</text>
<text transform="translate(1067.0,2460.7) rotate(-90)">18</text>
<text transform="translate(1086.9,2460.7) rotate(-90)">19</text>
<text transform="translate(1106.9,2460.7) rotate(-90)">20</text>
</g>
<text x="1055.8" y="2468.5" font-size="3.6" font-weight="normal" fill="#888" textLength="64" lengthAdjust="spacingAndGlyphs">MEME (no SSC) 02.03.2022 14:37</text>
<rect x="1400.3" y="2334.7" width="29.3" height="26.3" fill="#6D8528"/>
<text x="1441.9" y="2357.8" font-size="28" font-weight="normal" fill="#000" stroke="#000" stroke-width="0.5">Motif 18</text>
<path d="M1316.9,2384.0V2464.4" stroke="#000" stroke-width="3"/>
<path d="M1312.4,2463.4H1316.9M1312.4,2445.3H1316.9M1312.4,2427.1H1316.9M1312.4,2409.0H1316.9M1312.4,2390.8H1316.9" stroke="#000" stroke-width="2"/>
<text font-size="4.5" font-weight="normal" fill="#555" text-anchor="middle" transform="translate(1306.9,2424.2) rotate(-90)">bits</text>
<text font-size="4" font-weight="normal" fill="#555" text-anchor="end" x="1311.4" y="2464.9">0</text>
<text font-size="4" font-weight="normal" fill="#555" text-anchor="end" x="1311.4" y="2446.8">1</text>
<text font-size="4" font-weight="normal" fill="#555" text-anchor="end" x="1311.4" y="2428.6">2</text>
<text font-size="4" font-weight="normal" fill="#555" text-anchor="end" x="1311.4" y="2410.5">3</text>
<text font-size="4" font-weight="normal" fill="#555" text-anchor="end" x="1311.4" y="2392.3">4</text>
<g class="lg">
<text class="b" transform="matrix(1.465 0 0 5.704 1319.40 2463.44)">V</text>
<text class="b" transform="matrix(1.329 0 0 5.704 1345.42 2463.44)">I</text>
<text class="b" transform="matrix(1.464 0 0 5.543 1358.28 2462.36)">C</text>
<text class="o" transform="matrix(1.418 0 0 1.980 1378.26 2433.15)">G</text>
<text class="m" transform="matrix(1.561 0 0 2.037 1377.33 2463.44)">D</text>
<text class="o" transform="matrix(1.418 0 0 5.543 1398.20 2462.36)">G</text>
<text class="b" transform="matrix(1.465 0 0 5.704 1419.10 2463.44)">V</text>
<text class="b" transform="matrix(1.865 0 0 5.704 1436.74 2463.44)">L</text>
<text class="t" transform="matrix(1.510 0 0 5.704 1458.66 2463.44)">Y</text>
<text class="b" transform="matrix(1.887 0 0 5.704 1476.59 2463.44)">F</text>
<text class="b" transform="matrix(1.865 0 0 5.704 1496.56 2463.44)">L</text>
<text class="b" transform="matrix(1.329 0 0 5.704 1524.88 2463.44)">I</text>
<text class="t" transform="matrix(1.510 0 0 5.704 1538.42 2463.44)">Y</text>
<text class="g" transform="matrix(1.598 0 0 5.543 1557.96 2462.36)">S</text>
<text class="g" transform="matrix(1.625 0 0 2.173 1578.45 2433.54)">T</text>
<text class="b" transform="matrix(1.329 0 0 2.037 1584.70 2463.44)">I</text>
<text class="o" transform="matrix(1.418 0 0 5.543 1597.60 2462.36)">G</text>
<text class="o" transform="matrix(1.418 0 0 5.543 1617.54 2462.36)">G</text>
<text class="o" transform="matrix(1.418 0 0 5.543 1637.48 2462.36)">G</text>
<text class="o" transform="matrix(1.418 0 0 5.543 1657.42 2462.36)">G</text>
<text class="y" transform="matrix(1.691 0 0 5.704 1676.26 2463.44)">P</text>
<text class="m" transform="matrix(1.561 0 0 5.704 1696.37 2463.44)">D</text>
<text class="g" transform="matrix(1.628 0 0 5.704 1716.22 2463.44)">N</text>
<text class="r" transform="matrix(1.508 0 0 5.704 1736.32 2463.44)">R</text>
<text class="h" transform="matrix(1.628 0 0 5.704 1756.10 2463.44)">H</text>
<text class="o" transform="matrix(1.418 0 0 5.543 1777.06 2462.36)">G</text>
<text class="b" transform="matrix(1.865 0 0 1.901 1795.66 2431.67)">L</text>
<text class="b" transform="matrix(1.329 0 0 2.173 1804.04 2463.44)">I</text>
<text class="b" transform="matrix(1.465 0 0 2.309 1817.90 2437.28)">V</text>
<text class="b" transform="matrix(1.329 0 0 1.901 1823.98 2463.44)">I</text>
<text class="g" transform="matrix(1.625 0 0 1.901 1837.67 2431.67)">T</text>
<text class="b" transform="matrix(1.369 0 0 2.037 1836.21 2463.44)">M</text>
<text class="t" transform="matrix(1.510 0 0 5.704 1857.46 2463.44)">Y</text>
</g>
<g font-size="4.5" font-weight="normal" fill="#000" stroke="#000" stroke-width="0.25" text-anchor="end">
<text transform="translate(1330.8,2465.6) rotate(-90)">1</text>
<text transform="translate(1350.7,2465.6) rotate(-90)">2</text>
<text transform="translate(1370.7,2465.6) rotate(-90)">3</text>
<text transform="translate(1390.6,2465.6) rotate(-90)">4</text>
<text transform="translate(1410.5,2465.6) rotate(-90)">5</text>
<text transform="translate(1430.5,2465.6) rotate(-90)">6</text>
<text transform="translate(1450.4,2465.6) rotate(-90)">7</text>
<text transform="translate(1470.4,2465.6) rotate(-90)">8</text>
<text transform="translate(1490.3,2465.6) rotate(-90)">9</text>
<text transform="translate(1510.2,2465.6) rotate(-90)">10</text>
<text transform="translate(1530.2,2465.6) rotate(-90)">11</text>
<text transform="translate(1550.1,2465.6) rotate(-90)">12</text>
<text transform="translate(1570.1,2465.6) rotate(-90)">13</text>
<text transform="translate(1590.0,2465.6) rotate(-90)">14</text>
<text transform="translate(1609.9,2465.6) rotate(-90)">15</text>
<text transform="translate(1629.9,2465.6) rotate(-90)">16</text>
<text transform="translate(1649.8,2465.6) rotate(-90)">17</text>
<text transform="translate(1669.8,2465.6) rotate(-90)">18</text>
<text transform="translate(1689.7,2465.6) rotate(-90)">19</text>
<text transform="translate(1709.7,2465.6) rotate(-90)">20</text>
<text transform="translate(1729.6,2465.6) rotate(-90)">21</text>
<text transform="translate(1749.5,2465.6) rotate(-90)">22</text>
<text transform="translate(1769.5,2465.6) rotate(-90)">23</text>
<text transform="translate(1789.4,2465.6) rotate(-90)">24</text>
<text transform="translate(1809.3,2465.6) rotate(-90)">25</text>
<text transform="translate(1829.3,2465.6) rotate(-90)">26</text>
<text transform="translate(1849.2,2465.6) rotate(-90)">27</text>
<text transform="translate(1869.2,2465.6) rotate(-90)">28</text>
</g>
<rect x="173.9" y="2498.9" width="29.3" height="26.3" fill="#00143F"/>
<text x="215.0" y="2522.3" font-size="28" font-weight="normal" fill="#000" stroke="#000" stroke-width="0.5">Motif 19</text>
<path d="M36.2,2544.0V2624.4" stroke="#000" stroke-width="3"/>
<path d="M31.7,2623.4H36.2M31.7,2605.3H36.2M31.7,2587.1H36.2M31.7,2569.0H36.2M31.7,2550.8H36.2" stroke="#000" stroke-width="2"/>
<text font-size="4.5" font-weight="normal" fill="#555" text-anchor="middle" transform="translate(26.2,2584.2) rotate(-90)">bits</text>
<text font-size="4" font-weight="normal" fill="#555" text-anchor="end" x="30.7" y="2624.9">0</text>
<text font-size="4" font-weight="normal" fill="#555" text-anchor="end" x="30.7" y="2606.8">1</text>
<text font-size="4" font-weight="normal" fill="#555" text-anchor="end" x="30.7" y="2588.6">2</text>
<text font-size="4" font-weight="normal" fill="#555" text-anchor="end" x="30.7" y="2570.5">3</text>
<text font-size="4" font-weight="normal" fill="#555" text-anchor="end" x="30.7" y="2552.3">4</text>
<g class="lg">
<text class="h" transform="matrix(1.633 0 0 2.173 36.22 2591.67)">H</text>
<text class="b" transform="matrix(1.468 0 0 2.112 37.20 2623.03)">C</text>
<text class="b" transform="matrix(1.871 0 0 5.704 55.90 2623.44)">L</text>
<text class="b" transform="matrix(1.468 0 0 5.543 77.20 2622.36)">C</text>
<text class="b" transform="matrix(1.871 0 0 5.704 95.90 2623.44)">L</text>
<text class="b" transform="matrix(1.468 0 0 5.543 117.20 2622.36)">C</text>
<text class="m" transform="matrix(1.565 0 0 5.704 136.31 2623.44)">D</text>
<text class="g" transform="matrix(1.633 0 0 1.901 156.22 2591.67)">N</text>
<text class="h" transform="matrix(1.633 0 0 2.173 156.22 2623.44)">H</text>
<text class="g" transform="matrix(1.630 0 0 5.704 178.03 2623.44)">T</text>
<text class="g" transform="matrix(1.602 0 0 1.848 197.48 2593.18)">S</text>
<text class="r" transform="matrix(1.512 0 0 2.037 196.38 2623.44)">R</text>
<text class="g" transform="matrix(1.633 0 0 1.901 216.22 2593.54)">N</text>
<text class="m" transform="matrix(1.711 0 0 2.037 216.11 2623.44)">E</text>
<text class="b" transform="matrix(1.469 0 0 1.901 238.20 2593.54)">V</text>
<text class="b" transform="matrix(1.892 0 0 2.037 235.87 2623.44)">F</text>
<text class="m" transform="matrix(1.711 0 0 5.704 256.11 2623.44)">E</text>
<text class="b" transform="matrix(1.469 0 0 1.766 278.20 2591.67)">V</text>
<text class="g" transform="matrix(1.630 0 0 2.037 278.03 2623.44)">T</text>
<text class="b" transform="matrix(1.469 0 0 1.766 298.20 2591.67)">V</text>
<text class="m" transform="matrix(1.565 0 0 2.037 296.31 2623.44)">D</text>
<text class="b" transform="matrix(1.333 0 0 5.704 324.30 2623.44)">I</text>
<text class="b" transform="matrix(1.019 0 0 5.704 338.38 2623.44)">W</text>
<text class="b" transform="matrix(1.469 0 0 5.704 358.20 2623.44)">V</text>
<text class="b" transform="matrix(1.373 0 0 5.704 376.56 2623.44)">M</text>
<text class="r" transform="matrix(1.486 0 0 5.704 396.41 2623.44)">K</text>
<text class="m" transform="matrix(1.711 0 0 5.704 416.11 2623.44)">E</text>
<text class="t" transform="matrix(1.515 0 0 5.704 437.88 2623.44)">Y</text>
<text class="o" transform="matrix(1.423 0 0 5.543 457.23 2622.36)">G</text>
<text class="b" transform="matrix(1.469 0 0 5.704 478.20 2623.44)">V</text>
<text class="o" transform="matrix(1.423 0 0 1.980 497.23 2595.02)">G</text>
<text class="m" transform="matrix(1.711 0 0 1.901 496.11 2623.44)">E</text>
<text class="r" transform="matrix(1.486 0 0 2.037 516.41 2595.41)">K</text>
<text class="m" transform="matrix(1.711 0 0 1.901 516.11 2623.44)">E</text>
<text class="g" transform="matrix(1.602 0 0 5.543 537.48 2622.36)">S</text>
<text class="b" transform="matrix(1.019 0 0 5.704 558.38 2623.44)">W</text>
</g>
<g font-size="4.5" font-weight="normal" fill="#000" stroke="#000" stroke-width="0.25" text-anchor="end">
<text transform="translate(49.6,2625.6) rotate(-90)">1</text>
<text transform="translate(69.6,2625.6) rotate(-90)">2</text>
<text transform="translate(89.6,2625.6) rotate(-90)">3</text>
<text transform="translate(109.6,2625.6) rotate(-90)">4</text>
<text transform="translate(129.6,2625.6) rotate(-90)">5</text>
<text transform="translate(149.6,2625.6) rotate(-90)">6</text>
<text transform="translate(169.6,2625.6) rotate(-90)">7</text>
<text transform="translate(189.6,2625.6) rotate(-90)">8</text>
<text transform="translate(209.6,2625.6) rotate(-90)">9</text>
<text transform="translate(229.6,2625.6) rotate(-90)">10</text>
<text transform="translate(249.6,2625.6) rotate(-90)">11</text>
<text transform="translate(269.6,2625.6) rotate(-90)">12</text>
<text transform="translate(289.6,2625.6) rotate(-90)">13</text>
<text transform="translate(309.6,2625.6) rotate(-90)">14</text>
<text transform="translate(329.6,2625.6) rotate(-90)">15</text>
<text transform="translate(349.6,2625.6) rotate(-90)">16</text>
<text transform="translate(369.6,2625.6) rotate(-90)">17</text>
<text transform="translate(389.6,2625.6) rotate(-90)">18</text>
<text transform="translate(409.6,2625.6) rotate(-90)">19</text>
<text transform="translate(429.6,2625.6) rotate(-90)">20</text>
<text transform="translate(449.6,2625.6) rotate(-90)">21</text>
<text transform="translate(469.6,2625.6) rotate(-90)">22</text>
<text transform="translate(489.6,2625.6) rotate(-90)">23</text>
<text transform="translate(509.6,2625.6) rotate(-90)">24</text>
<text transform="translate(529.6,2625.6) rotate(-90)">25</text>
<text transform="translate(549.6,2625.6) rotate(-90)">26</text>
<text transform="translate(569.6,2625.6) rotate(-90)">27</text>
</g>
<text x="514.6" y="2634.7" font-size="3.6" font-weight="normal" fill="#888" textLength="64" lengthAdjust="spacingAndGlyphs">MEME (no SSC) 02.03.2022 14:37</text>
<rect x="827.6" y="2498.9" width="29.3" height="26.3" fill="#B97F48"/>
<text x="868.4" y="2522.0" font-size="28" font-weight="normal" fill="#000" stroke="#000" stroke-width="0.5">Motif 20</text>
<path d="M708.4,2538.0V2619.9" stroke="#000" stroke-width="3"/>
<path d="M703.9,2618.9H708.4M703.9,2600.4H708.4M703.9,2581.9H708.4M703.9,2563.4H708.4M703.9,2544.9H708.4" stroke="#000" stroke-width="2"/>
<text font-size="4.5" font-weight="normal" fill="#555" text-anchor="middle" transform="translate(698.4,2578.9) rotate(-90)">bits</text>
<text font-size="4" font-weight="normal" fill="#555" text-anchor="end" x="702.9" y="2620.4">0</text>
<text font-size="4" font-weight="normal" fill="#555" text-anchor="end" x="702.9" y="2601.9">1</text>
<text font-size="4" font-weight="normal" fill="#555" text-anchor="end" x="702.9" y="2583.4">2</text>
<text font-size="4" font-weight="normal" fill="#555" text-anchor="end" x="702.9" y="2564.9">3</text>
<text font-size="4" font-weight="normal" fill="#555" text-anchor="end" x="702.9" y="2546.4">4</text>
<g class="lg">
<text class="t" transform="matrix(1.510 0 0 1.378 709.68 2586.38)">Y</text>
<text class="b" transform="matrix(1.887 0 0 1.378 707.67 2606.70)">F</text>
<text class="b" transform="matrix(1.329 0 0 0.788 716.08 2618.89)">I</text>
<text class="g" transform="matrix(1.625 0 0 2.264 729.77 2597.21)">T</text>
<text class="g" transform="matrix(1.598 0 0 0.574 729.22 2606.59)">S</text>
<text class="r" transform="matrix(1.482 0 0 0.788 728.16 2618.89)">K</text>
<text class="b" transform="matrix(1.865 0 0 2.264 747.58 2597.21)">L</text>
<text class="b" transform="matrix(1.465 0 0 0.689 749.88 2608.05)">V</text>
<text class="b" transform="matrix(1.369 0 0 0.689 748.25 2618.89)">M</text>
<text class="r" transform="matrix(1.508 0 0 5.612 768.00 2617.53)">R</text>
<text class="r" transform="matrix(1.482 0 0 5.612 787.98 2617.53)">K</text>
<text class="m" transform="matrix(1.706 0 0 1.181 807.62 2590.44)">E</text>
<text class="g" transform="matrix(1.598 0 0 0.574 808.98 2601.17)">S</text>
<text class="r" transform="matrix(1.508 0 0 0.689 807.88 2610.76)">R</text>
<text class="b" transform="matrix(1.329 0 0 0.492 815.78 2618.89)">I</text>
<text class="b" transform="matrix(1.865 0 0 2.264 827.34 2597.21)">L</text>
<text class="b" transform="matrix(1.625 0 0 0.788 829.47 2609.41)">T</text>
<text class="b" transform="matrix(1.427 0 0 0.591 829.13 2618.89)">A</text>
<text class="o" transform="matrix(1.418 0 0 5.453 848.62 2616.47)">G</text>
<text class="b" transform="matrix(1.369 0 0 0.788 867.89 2589.09)">M</text>
<text class="g" transform="matrix(1.625 0 0 0.591 869.35 2601.28)">T</text>
<text class="m" transform="matrix(1.706 0 0 0.591 867.44 2610.76)">E</text>
<text class="b" transform="matrix(1.464 0 0 0.478 868.52 2618.80)">C</text>
<text class="t" transform="matrix(1.510 0 0 0.788 889.14 2594.51)">Y</text>
<text class="b" transform="matrix(1.865 0 0 0.689 887.16 2605.34)">L</text>
<text class="h" transform="matrix(1.628 0 0 0.335 887.48 2610.76)">H</text>
<text class="b" transform="matrix(1.427 0 0 0.492 888.95 2618.89)">A</text>
<text class="m" transform="matrix(1.706 0 0 3.938 907.32 2606.70)">E</text>
<text class="m" transform="matrix(1.561 0 0 0.788 907.51 2618.89)">D</text>
<text class="m" transform="matrix(1.706 0 0 3.347 927.26 2598.57)">E</text>
<text class="y" transform="matrix(1.691 0 0 1.378 927.28 2618.89)">P</text>
<text class="b" transform="matrix(1.016 0 0 3.938 949.46 2606.70)">W</text>
<text class="g" transform="matrix(1.598 0 0 0.765 948.56 2618.74)">S</text>
<text class="b" transform="matrix(1.865 0 0 2.953 966.92 2593.15)">L</text>
<text class="b" transform="matrix(1.465 0 0 1.674 969.22 2618.89)">V</text>
<text class="t" transform="matrix(1.510 0 0 2.658 988.84 2593.15)">Y</text>
<text class="b" transform="matrix(1.887 0 0 1.575 986.83 2618.89)">F</text>
<text class="b" transform="matrix(1.465 0 0 3.938 1009.10 2606.70)">V</text>
<text class="b" transform="matrix(1.369 0 0 0.788 1007.47 2618.89)">M</text>
<text class="b" transform="matrix(1.865 0 0 1.378 1026.74 2586.38)">L</text>
<text class="b" transform="matrix(1.887 0 0 1.280 1026.71 2606.70)">F</text>
<text class="b" transform="matrix(1.369 0 0 0.788 1027.41 2618.89)">M</text>
<text class="g" transform="matrix(1.625 0 0 1.378 1048.81 2586.38)">T</text>
<text class="b" transform="matrix(1.427 0 0 1.280 1048.47 2606.70)">A</text>
<text class="r" transform="matrix(1.482 0 0 0.788 1047.20 2618.89)">K</text>
</g>
<g font-size="4.5" font-weight="normal" fill="#000" stroke="#000" stroke-width="0.25" text-anchor="end">
<text transform="translate(721.4,2621.1) rotate(-90)">1</text>
<text transform="translate(741.3,2621.1) rotate(-90)">2</text>
<text transform="translate(761.3,2621.1) rotate(-90)">3</text>
<text transform="translate(781.2,2621.1) rotate(-90)">4</text>
<text transform="translate(801.1,2621.1) rotate(-90)">5</text>
<text transform="translate(821.1,2621.1) rotate(-90)">6</text>
<text transform="translate(841.0,2621.1) rotate(-90)">7</text>
<text transform="translate(861.0,2621.1) rotate(-90)">8</text>
<text transform="translate(880.9,2621.1) rotate(-90)">9</text>
<text transform="translate(900.9,2621.1) rotate(-90)">10</text>
<text transform="translate(920.8,2621.1) rotate(-90)">11</text>
<text transform="translate(940.7,2621.1) rotate(-90)">12</text>
<text transform="translate(960.7,2621.1) rotate(-90)">13</text>
<text transform="translate(980.6,2621.1) rotate(-90)">14</text>
<text transform="translate(1000.5,2621.1) rotate(-90)">15</text>
<text transform="translate(1020.5,2621.1) rotate(-90)">16</text>
<text transform="translate(1040.4,2621.1) rotate(-90)">17</text>
<text transform="translate(1060.4,2621.1) rotate(-90)">18</text>
</g>
</g>
</g>
</svg>
</div>
</body></html>
